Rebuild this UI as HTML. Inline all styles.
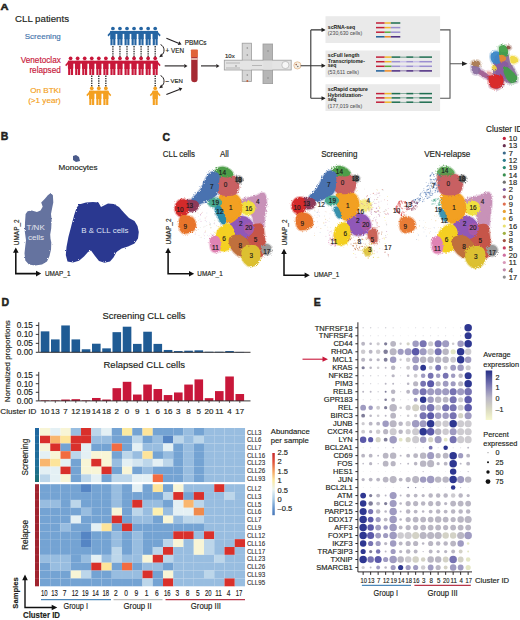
<!DOCTYPE html>
<html><head><meta charset="utf-8"><style>
html,body{margin:0;padding:0;background:#fff;width:520px;height:620px;overflow:hidden}
svg{display:block;font-family:"Liberation Sans", sans-serif}
</style></head><body>
<svg width="520" height="620" viewBox="0 0 520 620" font-family="Liberation Sans, sans-serif">
<text x="0.50" y="9.90" font-size="9.9" fill="#231f20" text-anchor="start" font-weight="bold" stroke="#231f20" stroke-width="0.55" textLength="8.0" lengthAdjust="spacingAndGlyphs">A</text>
<text x="15.00" y="21.80" font-size="9.7" fill="#231f20" text-anchor="start" font-weight="normal" stroke="#231f20" stroke-width="0.16" >CLL patients</text>
<text x="60.80" y="38.80" font-size="8.0" fill="#4676ad" text-anchor="end" font-weight="normal" stroke="#4676ad" stroke-width="0.16" >Screening</text>
<text x="60.80" y="62.80" font-size="8.2" fill="#c8173a" text-anchor="end" font-weight="normal" stroke="#c8173a" stroke-width="0.16" >Venetoclax</text>
<text x="60.80" y="73.30" font-size="8.2" fill="#c8173a" text-anchor="end" font-weight="normal" stroke="#c8173a" stroke-width="0.16" >relapsed</text>
<text x="60.80" y="92.80" font-size="8.1" fill="#f4a020" text-anchor="end" font-weight="normal" stroke="#f4a020" stroke-width="0.16" >On BTKi</text>
<text x="60.80" y="103.30" font-size="8.1" fill="#f4a020" text-anchor="end" font-weight="normal" stroke="#f4a020" stroke-width="0.16" >(&gt;1 year)</text>
<path d="M112.90,46 V57 M119.95,46 V57 M127.00,46 V57 M134.05,46 V57 M141.10,46 V57 M148.15,46 V57 M155.20,46 V57 M91.75,75.5 V87 M98.80,75.5 V87 M105.85,75.5 V87 M155.20,75.5 V87" stroke="#262626" stroke-width="1.3" stroke-dasharray="1.4,1.0" fill="none"/>
<g fill="#2565a3"><circle cx="112.90" cy="28.50" r="1.85"/><rect x="110.20" y="30.90" width="5.4" height="8.4" rx="1.2"/><rect x="110.45" y="38.00" width="2.15" height="7.2"/><rect x="113.20" y="38.00" width="2.15" height="7.2"/><circle cx="119.95" cy="28.50" r="1.85"/><rect x="117.25" y="30.90" width="5.4" height="8.4" rx="1.2"/><rect x="117.50" y="38.00" width="2.15" height="7.2"/><rect x="120.25" y="38.00" width="2.15" height="7.2"/><circle cx="127.00" cy="28.50" r="1.85"/><rect x="124.30" y="30.90" width="5.4" height="8.4" rx="1.2"/><rect x="124.55" y="38.00" width="2.15" height="7.2"/><rect x="127.30" y="38.00" width="2.15" height="7.2"/><circle cx="134.05" cy="28.50" r="1.85"/><rect x="131.35" y="30.90" width="5.4" height="8.4" rx="1.2"/><rect x="131.60" y="38.00" width="2.15" height="7.2"/><rect x="134.35" y="38.00" width="2.15" height="7.2"/><circle cx="141.10" cy="28.50" r="1.85"/><rect x="138.40" y="30.90" width="5.4" height="8.4" rx="1.2"/><rect x="138.65" y="38.00" width="2.15" height="7.2"/><rect x="141.40" y="38.00" width="2.15" height="7.2"/><circle cx="148.15" cy="28.50" r="1.85"/><rect x="145.45" y="30.90" width="5.4" height="8.4" rx="1.2"/><rect x="145.70" y="38.00" width="2.15" height="7.2"/><rect x="148.45" y="38.00" width="2.15" height="7.2"/><circle cx="155.20" cy="28.50" r="1.85"/><rect x="152.50" y="30.90" width="5.4" height="8.4" rx="1.2"/><rect x="152.75" y="38.00" width="2.15" height="7.2"/><rect x="155.50" y="38.00" width="2.15" height="7.2"/><rect x="110.20" y="30.90" width="47.70" height="3.0"/><path d="M111.10,30.90 L107.50,35.10 L108.40,36.40 L111.10,33.70Z"/><path d="M157.00,30.90 L160.60,35.10 L159.70,36.40 L157.00,33.70Z"/></g>
<g fill="#c8173a"><circle cx="70.60" cy="58.30" r="1.85"/><rect x="67.90" y="60.70" width="5.4" height="8.4" rx="1.2"/><rect x="68.15" y="67.80" width="2.15" height="7.2"/><rect x="70.90" y="67.80" width="2.15" height="7.2"/><circle cx="77.65" cy="58.30" r="1.85"/><rect x="74.95" y="60.70" width="5.4" height="8.4" rx="1.2"/><rect x="75.20" y="67.80" width="2.15" height="7.2"/><rect x="77.95" y="67.80" width="2.15" height="7.2"/><circle cx="84.70" cy="58.30" r="1.85"/><rect x="82.00" y="60.70" width="5.4" height="8.4" rx="1.2"/><rect x="82.25" y="67.80" width="2.15" height="7.2"/><rect x="85.00" y="67.80" width="2.15" height="7.2"/><circle cx="91.75" cy="58.30" r="1.85"/><rect x="89.05" y="60.70" width="5.4" height="8.4" rx="1.2"/><rect x="89.30" y="67.80" width="2.15" height="7.2"/><rect x="92.05" y="67.80" width="2.15" height="7.2"/><circle cx="98.80" cy="58.30" r="1.85"/><rect x="96.10" y="60.70" width="5.4" height="8.4" rx="1.2"/><rect x="96.35" y="67.80" width="2.15" height="7.2"/><rect x="99.10" y="67.80" width="2.15" height="7.2"/><circle cx="105.85" cy="58.30" r="1.85"/><rect x="103.15" y="60.70" width="5.4" height="8.4" rx="1.2"/><rect x="103.40" y="67.80" width="2.15" height="7.2"/><rect x="106.15" y="67.80" width="2.15" height="7.2"/><circle cx="112.90" cy="58.30" r="1.85"/><rect x="110.20" y="60.70" width="5.4" height="8.4" rx="1.2"/><rect x="110.45" y="67.80" width="2.15" height="7.2"/><rect x="113.20" y="67.80" width="2.15" height="7.2"/><circle cx="119.95" cy="58.30" r="1.85"/><rect x="117.25" y="60.70" width="5.4" height="8.4" rx="1.2"/><rect x="117.50" y="67.80" width="2.15" height="7.2"/><rect x="120.25" y="67.80" width="2.15" height="7.2"/><circle cx="127.00" cy="58.30" r="1.85"/><rect x="124.30" y="60.70" width="5.4" height="8.4" rx="1.2"/><rect x="124.55" y="67.80" width="2.15" height="7.2"/><rect x="127.30" y="67.80" width="2.15" height="7.2"/><circle cx="134.05" cy="58.30" r="1.85"/><rect x="131.35" y="60.70" width="5.4" height="8.4" rx="1.2"/><rect x="131.60" y="67.80" width="2.15" height="7.2"/><rect x="134.35" y="67.80" width="2.15" height="7.2"/><circle cx="141.10" cy="58.30" r="1.85"/><rect x="138.40" y="60.70" width="5.4" height="8.4" rx="1.2"/><rect x="138.65" y="67.80" width="2.15" height="7.2"/><rect x="141.40" y="67.80" width="2.15" height="7.2"/><circle cx="148.15" cy="58.30" r="1.85"/><rect x="145.45" y="60.70" width="5.4" height="8.4" rx="1.2"/><rect x="145.70" y="67.80" width="2.15" height="7.2"/><rect x="148.45" y="67.80" width="2.15" height="7.2"/><circle cx="155.20" cy="58.30" r="1.85"/><rect x="152.50" y="60.70" width="5.4" height="8.4" rx="1.2"/><rect x="152.75" y="67.80" width="2.15" height="7.2"/><rect x="155.50" y="67.80" width="2.15" height="7.2"/><rect x="67.90" y="60.70" width="90.00" height="3.0"/><path d="M68.80,60.70 L65.20,64.90 L66.10,66.20 L68.80,63.50Z"/><path d="M157.00,60.70 L160.60,64.90 L159.70,66.20 L157.00,63.50Z"/></g>
<g fill="#f4a020"><circle cx="91.75" cy="88.30" r="1.85"/><rect x="89.05" y="90.70" width="5.4" height="8.4" rx="1.2"/><rect x="89.30" y="97.80" width="2.15" height="7.2"/><rect x="92.05" y="97.80" width="2.15" height="7.2"/><circle cx="98.80" cy="88.30" r="1.85"/><rect x="96.10" y="90.70" width="5.4" height="8.4" rx="1.2"/><rect x="96.35" y="97.80" width="2.15" height="7.2"/><rect x="99.10" y="97.80" width="2.15" height="7.2"/><circle cx="105.85" cy="88.30" r="1.85"/><rect x="103.15" y="90.70" width="5.4" height="8.4" rx="1.2"/><rect x="103.40" y="97.80" width="2.15" height="7.2"/><rect x="106.15" y="97.80" width="2.15" height="7.2"/><rect x="89.05" y="90.70" width="19.50" height="3.0"/><path d="M89.95,90.70 L86.35,94.90 L87.25,96.20 L89.95,93.50Z"/><path d="M107.65,90.70 L111.25,94.90 L110.35,96.20 L107.65,93.50Z"/></g>
<g fill="#f4a020"><circle cx="155.20" cy="88.30" r="1.85"/><rect x="152.50" y="90.70" width="5.4" height="8.4" rx="1.2"/><rect x="152.75" y="97.80" width="2.15" height="7.2"/><rect x="155.50" y="97.80" width="2.15" height="7.2"/><rect x="152.50" y="90.70" width="5.40" height="3.0"/><path d="M153.40,90.70 L149.80,94.90 L150.70,96.20 L153.40,93.50Z"/><path d="M157.00,90.70 L160.60,94.90 L159.70,96.20 L157.00,93.50Z"/></g>
<line x1="166.40" y1="38.20" x2="178.54" y2="43.18" stroke="#231f20" stroke-width="1.1"/>
<path d="M181.50,44.40 L177.78,45.03 L179.30,41.33Z" fill="#231f20"/>
<line x1="164.70" y1="65.90" x2="184.30" y2="65.90" stroke="#231f20" stroke-width="1.1"/>
<path d="M187.50,65.90 L184.30,67.90 L184.30,63.90Z" fill="#231f20"/>
<line x1="201.00" y1="65.90" x2="216.30" y2="65.90" stroke="#231f20" stroke-width="1.1"/>
<path d="M219.50,65.90 L216.30,67.90 L216.30,63.90Z" fill="#231f20"/>
<line x1="166.40" y1="94.40" x2="179.31" y2="89.45" stroke="#231f20" stroke-width="1.1"/>
<path d="M182.30,88.30 L180.03,91.31 L178.60,87.58Z" fill="#231f20"/>
<path d="M160.6,44.6 C165,46.5 165,53 161.5,55.2" stroke="#231f20" stroke-width="1" fill="none"/>
<path d="M159.2,57.2 L161.2,53.6 L163,56.4Z" fill="#231f20"/>
<path d="M160.6,75.6 C165,77.5 165,84 161.5,86.2" stroke="#231f20" stroke-width="1" fill="none"/>
<path d="M159.2,88.2 L161.2,84.6 L163,87.4Z" fill="#231f20"/>
<text x="165.60" y="53.40" font-size="6.3" fill="#231f20" text-anchor="start" font-weight="normal" stroke="#231f20" stroke-width="0.16" >+ VEN</text>
<text x="165.40" y="82.80" font-size="6.0" fill="#231f20" text-anchor="start" font-weight="normal" stroke="#231f20" stroke-width="0.16" >– VEN</text>
<text x="184.70" y="45.10" font-size="6.45" fill="#231f20" text-anchor="start" font-weight="normal" stroke="#231f20" stroke-width="0.16" >PBMCs</text>
<path d="M191.2,56.5 H197.6 V79 A3.2,3.2 0 0 1 191.2,79 Z" fill="#a52a33"/>
<rect x="191.2" y="58.2" width="6.4" height="1.6" fill="#f2d4c8"/>
<rect x="190.9" y="49.4" width="7" height="7.8" rx="0.8" fill="#e0633a"/>
<text x="225.00" y="57.60" font-size="6.0" fill="#231f20" text-anchor="start" font-weight="normal" stroke="#231f20" stroke-width="0.16" >10x</text>
<g stroke="#9c9c9c" stroke-width="0.8">
<rect x="242.2" y="43.2" width="9.2" height="38.3" fill="#d6d6d6"/>
<rect x="263" y="44" width="9.6" height="39.6" fill="#b6b6b6"/>
<rect x="224.3" y="60.2" width="66.9" height="9.8" fill="#e4e4e4"/>
</g>
<rect x="242.6" y="60.6" width="8.4" height="9.0" fill="#e4e4e4"/>
<rect x="263.4" y="60.6" width="8.8" height="9.0" fill="#e0e0e0"/>
<path d="M226,63 H240 M226,68 H240 M252,65.5 H262" stroke="#8a8a8a" stroke-width="0.5" fill="none"/>
<circle cx="285.4" cy="65" r="3.6" fill="#f6f6f6" stroke="#9a9a9a" stroke-width="0.5"/>
<circle cx="247.3" cy="48" r="0.8" fill="#888"/>
<circle cx="247.3" cy="55" r="0.8" fill="#888"/>
<circle cx="247.3" cy="75" r="0.8" fill="#888"/>
<circle cx="268" cy="51" r="0.8" fill="#888"/>
<circle cx="268" cy="78" r="0.8" fill="#888"/>
<circle cx="236" cy="66" r="0.8" fill="#888"/>
<circle cx="247.3" cy="81" r="1" fill="#c0603a"/>
<circle cx="297.4" cy="65.4" r="3.6" fill="#f6efe4" stroke="#e3b080" stroke-width="0.7"/>
<circle cx="296.2" cy="64.6" r="0.8" fill="#a06040"/><circle cx="297.8" cy="66.5" r="0.8" fill="#777"/>
<path d="M300.6,65.7 H310.8 M310.8,29.9 V98.3 M310.8,29.9 H322 M310.8,65.7 H322 M310.8,98.3 H322" stroke="#333" stroke-width="1.1" fill="none"/>
<path d="M325.8,29.9 L321.5,27.80 L321.5,32.00Z" fill="#222"/>
<path d="M325.8,65.7 L321.5,63.60 L321.5,67.80Z" fill="#222"/>
<path d="M325.8,98.3 L321.5,96.20 L321.5,100.40Z" fill="#222"/>
<rect x="325.5" y="16.2" width="114.6" height="26.80" fill="#eaeaea"/>
<rect x="325.5" y="50.5" width="114.6" height="26.70" fill="#eaeaea"/>
<rect x="325.5" y="84.2" width="114.6" height="26.80" fill="#eaeaea"/>
<text x="327.80" y="28.60" font-size="5.7" fill="#231f20" text-anchor="start" font-weight="bold" stroke="#231f20" stroke-width="0.04" textLength="27.4" lengthAdjust="spacingAndGlyphs">scRNA-seq</text>
<text x="327.80" y="35.40" font-size="5.4" fill="#555" text-anchor="start" font-weight="normal" stroke="#555" stroke-width="0.05" textLength="34.4" lengthAdjust="spacingAndGlyphs">(230,630 cells)</text>
<text x="327.80" y="57.00" font-size="5.7" fill="#231f20" text-anchor="start" font-weight="bold" stroke="#231f20" stroke-width="0.04" textLength="31.7" lengthAdjust="spacingAndGlyphs">scFull length</text>
<text x="327.80" y="63.00" font-size="5.7" fill="#231f20" text-anchor="start" font-weight="bold" stroke="#231f20" stroke-width="0.04" textLength="37.1" lengthAdjust="spacingAndGlyphs">Transcriptome-</text>
<text x="327.80" y="66.90" font-size="5.7" fill="#231f20" text-anchor="start" font-weight="bold" stroke="#231f20" stroke-width="0.04" textLength="8.6" lengthAdjust="spacingAndGlyphs">seq</text>
<text x="327.80" y="73.80" font-size="5.4" fill="#555" text-anchor="start" font-weight="normal" stroke="#555" stroke-width="0.05" textLength="31.2" lengthAdjust="spacingAndGlyphs">(53,611 cells)</text>
<text x="327.80" y="90.50" font-size="5.7" fill="#231f20" text-anchor="start" font-weight="bold" stroke="#231f20" stroke-width="0.04" textLength="40.1" lengthAdjust="spacingAndGlyphs">scRapid capture</text>
<text x="327.80" y="96.90" font-size="5.7" fill="#231f20" text-anchor="start" font-weight="bold" stroke="#231f20" stroke-width="0.04" textLength="35.0" lengthAdjust="spacingAndGlyphs">Hybridization-</text>
<text x="327.80" y="100.70" font-size="5.7" fill="#231f20" text-anchor="start" font-weight="bold" stroke="#231f20" stroke-width="0.04" textLength="8.6" lengthAdjust="spacingAndGlyphs">seq</text>
<text x="327.80" y="107.70" font-size="5.4" fill="#555" text-anchor="start" font-weight="normal" stroke="#555" stroke-width="0.05" textLength="34.4" lengthAdjust="spacingAndGlyphs">(177,019 cells)</text>
<rect x="376.00" y="22.25" width="8.70" height="1.5" fill="#c21f3a"/>
<rect x="384.70" y="22.25" width="6.10" height="1.5" fill="#f3b82a"/>
<rect x="390.80" y="22.25" width="9.50" height="1.5" fill="#1e6e50"/>
<rect x="376.00" y="26.85" width="8.70" height="1.5" fill="#c21f3a"/>
<rect x="384.70" y="26.85" width="6.10" height="1.5" fill="#f3b82a"/>
<rect x="390.80" y="26.85" width="9.50" height="1.5" fill="#9b8fd0"/>
<rect x="376.00" y="31.45" width="8.70" height="1.5" fill="#c21f3a"/>
<rect x="384.70" y="31.45" width="6.10" height="1.5" fill="#5aac3e"/>
<rect x="390.80" y="31.45" width="9.50" height="1.5" fill="#9b8fd0"/>
<rect x="376.00" y="36.05" width="8.70" height="1.5" fill="#1f5e98"/>
<rect x="384.70" y="36.05" width="6.10" height="1.5" fill="#ee8a22"/>
<rect x="390.80" y="36.05" width="9.50" height="1.5" fill="#4b2a80"/>
<rect x="376.00" y="56.35" width="8.70" height="1.5" fill="#c21f3a"/>
<rect x="384.70" y="56.35" width="6.90" height="1.5" fill="#f3b82a"/>
<rect x="391.60" y="56.35" width="8.70" height="1.5" fill="#1e6e50"/>
<rect x="400.30" y="56.80" width="6.00" height="0.6" fill="#1e6e50"/>
<rect x="406.30" y="56.35" width="7.00" height="1.5" fill="#1e6e50"/>
<rect x="413.30" y="56.80" width="6.00" height="0.6" fill="#1e6e50"/>
<rect x="419.30" y="56.35" width="12.70" height="1.5" fill="#1e6e50"/>
<rect x="376.00" y="60.95" width="8.70" height="1.5" fill="#c21f3a"/>
<rect x="384.70" y="60.95" width="6.90" height="1.5" fill="#f3b82a"/>
<rect x="391.60" y="60.95" width="8.70" height="1.5" fill="#9b8fd0"/>
<rect x="400.30" y="60.95" width="6.00" height="1.5" fill="#c9c0ea"/>
<rect x="406.30" y="60.95" width="7.00" height="1.5" fill="#9b8fd0"/>
<rect x="413.30" y="60.95" width="6.00" height="1.5" fill="#c9c0ea"/>
<rect x="419.30" y="60.95" width="12.70" height="1.5" fill="#9b8fd0"/>
<rect x="376.00" y="65.55" width="8.70" height="1.5" fill="#c21f3a"/>
<rect x="384.70" y="65.55" width="6.90" height="1.5" fill="#5aac3e"/>
<rect x="391.60" y="65.55" width="8.70" height="1.5" fill="#9b8fd0"/>
<rect x="400.30" y="65.55" width="6.00" height="1.5" fill="#c9c0ea"/>
<rect x="406.30" y="65.55" width="7.00" height="1.5" fill="#9b8fd0"/>
<rect x="413.30" y="65.55" width="6.00" height="1.5" fill="#c9c0ea"/>
<rect x="419.30" y="65.55" width="12.70" height="1.5" fill="#9b8fd0"/>
<rect x="376.00" y="70.15" width="8.70" height="1.5" fill="#1f5e98"/>
<rect x="384.70" y="70.15" width="6.90" height="1.5" fill="#ee8a22"/>
<rect x="391.60" y="70.15" width="8.70" height="1.5" fill="#4b2a80"/>
<rect x="400.30" y="70.60" width="6.00" height="0.6" fill="#4b2a80"/>
<rect x="406.30" y="70.15" width="7.00" height="1.5" fill="#4b2a80"/>
<rect x="413.30" y="70.60" width="6.00" height="0.6" fill="#4b2a80"/>
<rect x="419.30" y="70.15" width="12.70" height="1.5" fill="#4b2a80"/>
<rect x="376.00" y="92.85" width="8.70" height="1.5" fill="#c21f3a"/>
<rect x="384.70" y="92.85" width="6.90" height="1.5" fill="#f3b82a"/>
<rect x="391.60" y="92.85" width="8.70" height="1.5" fill="#1e6e50"/>
<rect x="400.30" y="93.35" width="6.00" height="0.5" fill="#1e6e50"/>
<rect x="406.30" y="92.85" width="7.00" height="1.5" fill="#1e6e50"/>
<rect x="413.30" y="93.35" width="6.00" height="0.5" fill="#1e6e50"/>
<rect x="419.30" y="92.85" width="12.70" height="1.5" fill="#1e6e50"/>
<rect x="376.00" y="97.15" width="8.70" height="1.5" fill="#c21f3a"/>
<rect x="384.70" y="97.15" width="6.90" height="1.5" fill="#f3b82a"/>
<rect x="391.60" y="97.15" width="8.70" height="1.5" fill="#1e6e50"/>
<rect x="400.30" y="97.65" width="6.00" height="0.5" fill="#1e6e50"/>
<rect x="406.30" y="97.15" width="7.00" height="1.5" fill="#1e6e50"/>
<rect x="413.30" y="97.65" width="6.00" height="0.5" fill="#1e6e50"/>
<rect x="419.30" y="97.15" width="12.70" height="1.5" fill="#1e6e50"/>
<rect x="376.00" y="101.45" width="8.70" height="1.5" fill="#c21f3a"/>
<rect x="384.70" y="101.45" width="6.90" height="1.5" fill="#f3b82a"/>
<rect x="391.60" y="101.45" width="8.70" height="1.5" fill="#1e6e50"/>
<rect x="400.30" y="101.95" width="6.00" height="0.5" fill="#1e6e50"/>
<rect x="406.30" y="101.45" width="7.00" height="1.5" fill="#1e6e50"/>
<rect x="413.30" y="101.95" width="6.00" height="0.5" fill="#1e6e50"/>
<rect x="419.30" y="101.45" width="12.70" height="1.5" fill="#1e6e50"/>
<path d="M440.1,29.9 H450 V98.3 H440.1 M450,63.7 H462" stroke="#555" stroke-width="1.1" fill="none"/>
<path d="M467.5,63.7 L462,61.3 L462,66.1Z" fill="#222"/>
<defs><filter id="rs" x="-20%" y="-20%" width="140%" height="140%"><feTurbulence type="fractalNoise" baseFrequency="0.9" numOctaves="2" seed="9"/><feDisplacementMap in="SourceGraphic" scale="2.8"/></filter></defs>
<g filter="url(#rs)">
<g opacity="0.3">
<path d="M500,52 L507,52 L509,56 L510,62 L513,67 L517,75 L517,82 L510,83.5 L504,81 L503,86 L497,89.5 L490,87 L488,78 L493,72 L493,63 L495,56Z" fill="#8a6a9c" stroke="#8a6a9c" stroke-width="3.2" stroke-linejoin="round"/>
<path d="M478,68 C482,70 486,73 490,75.5 L490,80 C485,78 481,76 478,73.5Z" fill="#a05a90" stroke="#a05a90" stroke-width="3.2" stroke-linejoin="round"/>
<path d="M472,62 C474,60 479,60 480,63 C481,66 479,67.5 476,67.5 C473,67.5 471,65 472,62Z" fill="#a8784e" stroke="#a8784e" stroke-width="3.2" stroke-linejoin="round"/>
<path d="M471.5,66 C474,66 478,66 480,68 C481,71 479,74 476,74.5 C473,74 471,71 471.5,66Z" fill="#8a6ea0" stroke="#8a6ea0" stroke-width="3.2" stroke-linejoin="round"/>
<path d="M495.5,60 C500,59 505,60 508,63 L510,74 C507,79 502,80 497,77 C494.5,71 494.5,64 495.5,60Z" fill="#8a5aa0" stroke="#8a5aa0" stroke-width="3.2" stroke-linejoin="round"/>
<path d="M488.5,76 C492.5,74.5 497.5,74 502,75.5 C504.5,78.5 504,83 501.5,86.5 C498.5,89 494,89.3 491,87 C489,83.5 488,79.5 488.5,76Z" fill="#e02424" stroke="#e02424" stroke-width="3.2" stroke-linejoin="round"/>
<path d="M491,54 C493,51 497,50.5 499.8,52.5 L500.2,63 C497,65 493,64 491.5,61 C490.3,58 490.3,56 491,54Z" fill="#3a86c8" stroke="#3a86c8" stroke-width="3.2" stroke-linejoin="round"/>
<path d="M499,47 C501,44.8 505,44.8 507.8,47 L508.2,56 C505,57 501,56.5 499,55.5Z" fill="#40a048" stroke="#40a048" stroke-width="3.2" stroke-linejoin="round"/>
<path d="M499,55 C502,54 505.5,55 506.2,58 C506.2,61 503,62.5 499.8,61.5Z" fill="#e88a30" stroke="#e88a30" stroke-width="3.2" stroke-linejoin="round"/>
<path d="M504,66 C508,67 513,71 517,76.5 C518,80.5 515,83 511,83 C507.5,81 505,77 503.5,72Z" fill="#40a048" stroke="#40a048" stroke-width="3.2" stroke-linejoin="round"/>
<path d="M510,57 C513,55 517,56.5 518.3,60 C517.3,63.5 513,64.5 510.5,62.5Z" fill="#f0d840" stroke="#f0d840" stroke-width="3.2" stroke-linejoin="round"/>
<path d="M492.5,65.5 C495,64.8 497.3,67 496.8,69.8 C495,71.3 493,70.8 492.3,68.3Z" fill="#f0d840" stroke="#f0d840" stroke-width="3.2" stroke-linejoin="round"/>
<path d="M506.5,46.5 C508,44.8 510.8,46 510.8,48 C509.8,49.8 507,49.8 506.5,48Z" fill="#8a5040" stroke="#8a5040" stroke-width="3.2" stroke-linejoin="round"/>
<path d="M487,71.5 C490,71 493,72.5 493,75 C490.5,76 488,75.5 487,73.5Z" fill="#e8a0a0" stroke="#e8a0a0" stroke-width="3.2" stroke-linejoin="round"/>
</g>
<path d="M500,52 L507,52 L509,56 L510,62 L513,67 L517,75 L517,82 L510,83.5 L504,81 L503,86 L497,89.5 L490,87 L488,78 L493,72 L493,63 L495,56Z" fill="#8a6a9c" fill-opacity="0.92"/>
<path d="M478,68 C482,70 486,73 490,75.5 L490,80 C485,78 481,76 478,73.5Z" fill="#a05a90" fill-opacity="0.92"/>
<path d="M472,62 C474,60 479,60 480,63 C481,66 479,67.5 476,67.5 C473,67.5 471,65 472,62Z" fill="#a8784e" fill-opacity="0.92"/>
<path d="M471.5,66 C474,66 478,66 480,68 C481,71 479,74 476,74.5 C473,74 471,71 471.5,66Z" fill="#8a6ea0" fill-opacity="0.92"/>
<path d="M495.5,60 C500,59 505,60 508,63 L510,74 C507,79 502,80 497,77 C494.5,71 494.5,64 495.5,60Z" fill="#8a5aa0" fill-opacity="0.92"/>
<path d="M488.5,76 C492.5,74.5 497.5,74 502,75.5 C504.5,78.5 504,83 501.5,86.5 C498.5,89 494,89.3 491,87 C489,83.5 488,79.5 488.5,76Z" fill="#e02424" fill-opacity="0.92"/>
<path d="M491,54 C493,51 497,50.5 499.8,52.5 L500.2,63 C497,65 493,64 491.5,61 C490.3,58 490.3,56 491,54Z" fill="#3a86c8" fill-opacity="0.92"/>
<path d="M499,47 C501,44.8 505,44.8 507.8,47 L508.2,56 C505,57 501,56.5 499,55.5Z" fill="#40a048" fill-opacity="0.92"/>
<path d="M499,55 C502,54 505.5,55 506.2,58 C506.2,61 503,62.5 499.8,61.5Z" fill="#e88a30" fill-opacity="0.92"/>
<path d="M504,66 C508,67 513,71 517,76.5 C518,80.5 515,83 511,83 C507.5,81 505,77 503.5,72Z" fill="#40a048" fill-opacity="0.92"/>
<path d="M510,57 C513,55 517,56.5 518.3,60 C517.3,63.5 513,64.5 510.5,62.5Z" fill="#f0d840" fill-opacity="0.92"/>
<path d="M492.5,65.5 C495,64.8 497.3,67 496.8,69.8 C495,71.3 493,70.8 492.3,68.3Z" fill="#f0d840" fill-opacity="0.92"/>
<path d="M506.5,46.5 C508,44.8 510.8,46 510.8,48 C509.8,49.8 507,49.8 506.5,48Z" fill="#8a5040" fill-opacity="0.92"/>
<path d="M487,71.5 C490,71 493,72.5 493,75 C490.5,76 488,75.5 487,73.5Z" fill="#e8a0a0" fill-opacity="0.92"/>
</g>
<text x="0.80" y="140.00" font-size="10.5" fill="#231f20" text-anchor="start" font-weight="bold" stroke="#231f20" stroke-width="0.45" >B</text>
<defs><filter id="rb" x="-10%" y="-10%" width="120%" height="120%"><feTurbulence type="fractalNoise" baseFrequency="0.7" numOctaves="2" seed="4"/><feDisplacementMap in="SourceGraphic" scale="2.2"/></filter></defs>
<g filter="url(#rb)">
<path d="M50.7,193.0 L52.9,195.2 L53.3,202.4 L52.1,208.2 L51.0,214.1 L51.6,219.9 L51.2,228.6 L50.2,234.4 L50.5,238.8 L51.3,242.4 L51.0,249.5 L49.5,256.0 L47.0,261.5 L42.0,264.6 L35.0,265.6 L28.9,264.6 L25.3,260.5 L24.5,253.3 L25.3,246.0 L26.0,240.2 L24.8,231.5 L25.0,222.8 L25.6,214.1 L27.6,211.2 L31.8,210.4 L36.9,211.9 L40.5,210.4 L42.7,206.8 L41.2,202.4 L44.9,198.8 L47.8,195.2Z" fill="#65739f"/>
<path d="M79.0,204.5 L86.0,202.5 L93.0,202.0 L98.5,202.5 L101.0,207.0 L104.0,205.5 L108.0,203.5 L113.8,204.0 L119.0,207.0 L124.2,213.0 L129.0,218.0 L134.5,221.0 L137.5,226.0 L138.8,232.0 L138.0,238.5 L134.5,243.5 L128.0,246.5 L121.6,248.6 L116.5,252.0 L113.5,257.5 L110.0,261.5 L104.5,262.8 L99.0,261.0 L95.0,256.0 L91.0,250.5 L88.0,252.0 L84.0,256.5 L79.0,260.8 L73.0,262.5 L67.5,261.5 L65.8,255.0 L66.5,247.0 L68.4,237.0 L70.5,229.0 L72.3,222.0 L74.5,214.0 L76.5,208.0Z" fill="#2a3990"/>
</g>
<path d="M73,156 L76,155 L79,157 L80,161 L76,162 L73,160Z" fill="#4a5a8a"/>
<text x="58.50" y="170.20" font-size="8.1" fill="#231f20" text-anchor="start" font-weight="normal" stroke="#231f20" stroke-width="0.16" >Monocytes</text>
<text x="26.50" y="229.50" font-size="8.0" fill="#e4e6ee" text-anchor="start" font-weight="normal"  >T/NK</text>
<text x="28.00" y="239.80" font-size="8.0" fill="#e4e6ee" text-anchor="start" font-weight="normal"  >cells</text>
<text x="81.20" y="232.80" font-size="7.95" fill="#dfe2f4" text-anchor="start" font-weight="normal"  >B &amp; CLL cells</text>
<path d="M15.8,251.5 V273.6 H37.2" stroke="#111" stroke-width="1.55" fill="none"/>
<path d="M15.8,247.5 L13.0,252.7 L18.6,252.7Z" fill="#111"/>
<path d="M41.2,273.6 L36.0,270.8 L36.0,276.40000000000003Z" fill="#111"/>
<text x="18.80" y="232.30" font-size="6.5" fill="#231f20" text-anchor="middle" font-weight="normal" stroke="#231f20" stroke-width="0.16" transform="rotate(-90 18.8 232.3)">UMAP_2</text>
<text x="44.90" y="275.80" font-size="6.4" fill="#231f20" text-anchor="start" font-weight="normal" stroke="#231f20" stroke-width="0.16" >UMAP_1</text>
<defs>
<filter id="r1" x="-10%" y="-10%" width="120%" height="120%"><feTurbulence type="fractalNoise" baseFrequency="0.8" numOctaves="2" seed="3" result="t"/><feDisplacementMap in="SourceGraphic" in2="t" scale="3.2" result="d"/></filter>
<filter id="r2" x="-10%" y="-10%" width="120%" height="120%"><feTurbulence type="fractalNoise" baseFrequency="0.8" numOctaves="2" seed="5" result="t"/><feDisplacementMap in="SourceGraphic" in2="t" scale="3.2" result="d"/></filter>
<filter id="r3" x="-10%" y="-10%" width="120%" height="120%"><feTurbulence type="fractalNoise" baseFrequency="0.8" numOctaves="2" seed="7" result="t"/><feDisplacementMap in="SourceGraphic" in2="t" scale="3.2" result="d"/></filter>
</defs>
<text x="162.50" y="140.80" font-size="10.5" fill="#231f20" text-anchor="start" font-weight="bold" stroke="#231f20" stroke-width="0.45" >C</text>
<text x="162.80" y="157.40" font-size="8.4" fill="#231f20" text-anchor="start" font-weight="normal" stroke="#231f20" stroke-width="0.16" textLength="32.2" lengthAdjust="spacingAndGlyphs">CLL cells</text>
<text x="220.00" y="157.40" font-size="8.6" fill="#231f20" text-anchor="start" font-weight="normal" stroke="#231f20" stroke-width="0.16" textLength="8.9" lengthAdjust="spacingAndGlyphs">All</text>
<text x="321.20" y="157.20" font-size="8.4" fill="#231f20" text-anchor="start" font-weight="normal" stroke="#231f20" stroke-width="0.16" textLength="36.2" lengthAdjust="spacingAndGlyphs">Screening</text>
<text x="424.20" y="157.20" font-size="8.4" fill="#231f20" text-anchor="start" font-weight="normal" stroke="#231f20" stroke-width="0.16" textLength="46.1" lengthAdjust="spacingAndGlyphs">VEN-relapse</text>
<circle cx="199.0" cy="235.7" r="0.36" fill="#e0b0b0" fill-opacity="0.75"/><circle cx="209.9" cy="224.6" r="0.50" fill="#e8c890" fill-opacity="0.75"/><circle cx="197.8" cy="212.8" r="0.41" fill="#e8c890" fill-opacity="0.75"/><circle cx="217.9" cy="212.1" r="0.37" fill="#e8c890" fill-opacity="0.75"/><circle cx="219.1" cy="228.6" r="0.53" fill="#e0b0b0" fill-opacity="0.75"/><circle cx="195.9" cy="212.7" r="0.30" fill="#d8a0c8" fill-opacity="0.75"/><circle cx="221.4" cy="231.2" r="0.48" fill="#e8c890" fill-opacity="0.75"/><circle cx="210.8" cy="233.4" r="0.44" fill="#e8c890" fill-opacity="0.75"/><circle cx="205.4" cy="231.0" r="0.54" fill="#e8c890" fill-opacity="0.75"/><circle cx="222.8" cy="223.7" r="0.53" fill="#d8a0c8" fill-opacity="0.75"/><circle cx="198.0" cy="229.6" r="0.33" fill="#a8d0b8" fill-opacity="0.75"/><circle cx="205.0" cy="232.2" r="0.53" fill="#d8a0c8" fill-opacity="0.75"/><circle cx="207.7" cy="235.2" r="0.38" fill="#a8bcd8" fill-opacity="0.75"/><circle cx="212.6" cy="236.7" r="0.40" fill="#d8a0c8" fill-opacity="0.75"/><circle cx="220.6" cy="225.4" r="0.40" fill="#e8c890" fill-opacity="0.75"/><circle cx="200.2" cy="227.4" r="0.32" fill="#a8d0b8" fill-opacity="0.75"/><circle cx="214.9" cy="215.0" r="0.43" fill="#a8bcd8" fill-opacity="0.75"/><circle cx="206.8" cy="225.7" r="0.42" fill="#e0b0b0" fill-opacity="0.75"/><circle cx="204.3" cy="235.8" r="0.45" fill="#d8a0c8" fill-opacity="0.75"/><circle cx="206.8" cy="216.8" r="0.36" fill="#d8a0c8" fill-opacity="0.75"/><circle cx="195.4" cy="217.6" r="0.36" fill="#d8a0c8" fill-opacity="0.75"/><circle cx="210.4" cy="238.7" r="0.39" fill="#d8a0c8" fill-opacity="0.75"/><circle cx="222.3" cy="230.5" r="0.54" fill="#d8a0c8" fill-opacity="0.75"/><circle cx="195.2" cy="233.9" r="0.50" fill="#d8a0c8" fill-opacity="0.75"/><circle cx="210.6" cy="227.7" r="0.54" fill="#e8c890" fill-opacity="0.75"/><circle cx="209.4" cy="222.2" r="0.35" fill="#d8a0c8" fill-opacity="0.75"/><circle cx="210.1" cy="225.6" r="0.40" fill="#a8d0b8" fill-opacity="0.75"/><circle cx="195.0" cy="227.1" r="0.38" fill="#d8a0c8" fill-opacity="0.75"/><circle cx="213.0" cy="234.5" r="0.44" fill="#a8bcd8" fill-opacity="0.75"/><circle cx="200.4" cy="214.6" r="0.50" fill="#d8a0c8" fill-opacity="0.75"/><circle cx="219.5" cy="219.1" r="0.32" fill="#e0b0b0" fill-opacity="0.75"/><circle cx="195.5" cy="212.4" r="0.36" fill="#a8d0b8" fill-opacity="0.75"/><circle cx="198.3" cy="229.5" r="0.37" fill="#a8d0b8" fill-opacity="0.75"/><circle cx="200.0" cy="219.1" r="0.46" fill="#a8bcd8" fill-opacity="0.75"/><circle cx="214.4" cy="220.2" r="0.42" fill="#a8d0b8" fill-opacity="0.75"/><circle cx="198.4" cy="220.7" r="0.41" fill="#a8d0b8" fill-opacity="0.75"/><circle cx="200.6" cy="215.0" r="0.54" fill="#d8a0c8" fill-opacity="0.75"/><circle cx="224.0" cy="224.1" r="0.36" fill="#e0b0b0" fill-opacity="0.75"/><circle cx="206.9" cy="213.0" r="0.41" fill="#a8bcd8" fill-opacity="0.75"/><circle cx="210.2" cy="223.9" r="0.54" fill="#a8bcd8" fill-opacity="0.75"/><circle cx="213.9" cy="231.5" r="0.36" fill="#e8c890" fill-opacity="0.75"/><circle cx="214.5" cy="223.1" r="0.50" fill="#d8a0c8" fill-opacity="0.75"/><circle cx="214.8" cy="223.9" r="0.33" fill="#a8d0b8" fill-opacity="0.75"/><circle cx="201.4" cy="213.3" r="0.51" fill="#e0b0b0" fill-opacity="0.75"/><circle cx="204.3" cy="238.3" r="0.40" fill="#a8bcd8" fill-opacity="0.75"/><circle cx="202.6" cy="212.2" r="0.45" fill="#e0b0b0" fill-opacity="0.75"/><circle cx="201.5" cy="237.2" r="0.34" fill="#e8c890" fill-opacity="0.75"/><circle cx="221.0" cy="239.3" r="0.43" fill="#d8a0c8" fill-opacity="0.75"/><circle cx="206.3" cy="221.7" r="0.44" fill="#a8bcd8" fill-opacity="0.75"/><circle cx="221.9" cy="228.6" r="0.33" fill="#e8c890" fill-opacity="0.75"/><circle cx="215.0" cy="220.3" r="0.30" fill="#e8c890" fill-opacity="0.75"/><circle cx="213.4" cy="223.3" r="0.30" fill="#a8d0b8" fill-opacity="0.75"/><circle cx="201.0" cy="221.2" r="0.50" fill="#d8a0c8" fill-opacity="0.75"/><circle cx="205.2" cy="218.0" r="0.51" fill="#e0b0b0" fill-opacity="0.75"/><circle cx="223.0" cy="221.6" r="0.42" fill="#d8a0c8" fill-opacity="0.75"/><circle cx="224.6" cy="218.6" r="0.32" fill="#e0b0b0" fill-opacity="0.75"/><circle cx="200.1" cy="237.5" r="0.37" fill="#a8bcd8" fill-opacity="0.75"/><circle cx="205.0" cy="226.2" r="0.39" fill="#a8d0b8" fill-opacity="0.75"/><circle cx="205.2" cy="220.2" r="0.49" fill="#d8a0c8" fill-opacity="0.75"/><circle cx="216.5" cy="225.7" r="0.44" fill="#d8a0c8" fill-opacity="0.75"/><circle cx="198.1" cy="213.1" r="0.40" fill="#e0b0b0" fill-opacity="0.75"/><circle cx="224.7" cy="216.1" r="0.39" fill="#a8bcd8" fill-opacity="0.75"/><circle cx="213.5" cy="233.9" r="0.32" fill="#e8c890" fill-opacity="0.75"/><circle cx="211.5" cy="227.8" r="0.39" fill="#a8d0b8" fill-opacity="0.75"/><circle cx="203.9" cy="227.0" r="0.41" fill="#e0b0b0" fill-opacity="0.75"/><circle cx="203.3" cy="234.0" r="0.30" fill="#a8d0b8" fill-opacity="0.75"/><circle cx="215.1" cy="214.6" r="0.51" fill="#e0b0b0" fill-opacity="0.75"/><circle cx="218.7" cy="217.3" r="0.41" fill="#d8a0c8" fill-opacity="0.75"/><circle cx="198.5" cy="216.7" r="0.34" fill="#a8bcd8" fill-opacity="0.75"/><circle cx="220.4" cy="224.2" r="0.50" fill="#e8c890" fill-opacity="0.75"/>
<g filter="url(#r1)" opacity="0.35"><path d="M245.40,199.40 C247.97,198.50 253.08,197.60 256.10,196.70 C259.12,195.80 261.93,193.12 263.50,194.00 C265.07,194.88 265.42,198.67 265.50,202.00 C265.58,205.33 264.42,210.00 264.00,214.00 C263.58,218.00 263.33,223.33 263.00,226.00 C262.67,228.67 263.17,229.50 262.00,230.00 C260.83,230.50 257.42,231.17 256.00,229.00 C254.58,226.83 254.37,219.68 253.50,217.00 C252.63,214.32 252.15,214.48 250.80,212.90 C249.45,211.32 247.08,209.30 245.40,207.50 C243.72,205.70 240.70,203.45 240.70,202.10 C240.70,200.75 242.83,200.30 245.40,199.40Z" fill="#c892b8" stroke="#c892b8" stroke-width="4.6" stroke-linejoin="round"/><path d="M246.00,230.00 C247.00,227.50 250.00,226.92 252.00,226.00 C254.00,225.08 256.33,224.50 258.00,224.50 C259.67,224.50 261.08,224.08 262.00,226.00 C262.92,227.92 263.08,232.50 263.50,236.00 C263.92,239.50 264.75,243.83 264.50,247.00 C264.25,250.17 263.42,253.50 262.00,255.00 C260.58,256.50 257.83,257.00 256.00,256.00 C254.17,255.00 252.67,251.50 251.00,249.00 C249.33,246.50 246.83,244.17 246.00,241.00 C245.17,237.83 245.00,232.50 246.00,230.00Z" fill="#c65448" stroke="#c65448" stroke-width="4.6" stroke-linejoin="round"/><path d="M252.50,227.50 C252.50,229.56 251.67,232.01 250.40,233.67 C249.13,235.34 246.95,236.85 244.90,237.49 C242.85,238.12 240.15,238.12 238.10,237.49 C236.05,236.85 233.87,235.34 232.60,233.67 C231.33,232.01 230.50,229.56 230.50,227.50 C230.50,225.44 231.33,222.99 232.60,221.33 C233.87,219.66 236.05,218.15 238.10,217.51 C240.15,216.88 242.85,216.88 244.90,217.51 C246.95,218.15 249.13,219.66 250.40,221.33 C251.67,222.99 252.50,225.44 252.50,227.50Z" fill="#9058b8" stroke="#9058b8" stroke-width="4.6" stroke-linejoin="round"/><path d="M253.00,228.50 C253.00,229.48 252.70,230.65 252.24,231.44 C251.78,232.23 250.98,232.95 250.24,233.26 C249.49,233.56 248.51,233.56 247.76,233.26 C247.02,232.95 246.22,232.23 245.76,231.44 C245.30,230.65 245.00,229.48 245.00,228.50 C245.00,227.52 245.30,226.35 245.76,225.56 C246.22,224.77 247.02,224.05 247.76,223.74 C248.51,223.44 249.49,223.44 250.24,223.74 C250.98,224.05 251.78,224.77 252.24,225.56 C252.70,226.35 253.00,227.52 253.00,228.50Z" fill="#a85aa8" stroke="#a85aa8" stroke-width="4.6" stroke-linejoin="round"/><path d="M254.50,208.00 C254.50,209.18 254.01,210.58 253.26,211.53 C252.51,212.48 251.22,213.34 250.01,213.71 C248.80,214.07 247.20,214.07 245.99,213.71 C244.78,213.34 243.49,212.48 242.74,211.53 C241.99,210.58 241.50,209.18 241.50,208.00 C241.50,206.82 241.99,205.42 242.74,204.47 C243.49,203.52 244.78,202.66 245.99,202.29 C247.20,201.93 248.80,201.93 250.01,202.29 C251.22,202.66 252.51,203.52 253.26,204.47 C254.01,205.42 254.50,206.82 254.50,208.00Z" fill="#f0e040" stroke="#f0e040" stroke-width="4.6" stroke-linejoin="round"/><path d="M221.20,195.40 C223.22,193.82 229.00,193.55 231.90,194.00 C234.80,194.45 237.03,196.07 238.60,198.10 C240.17,200.13 241.07,203.52 241.30,206.20 C241.53,208.88 241.12,211.97 240.00,214.20 C238.88,216.43 236.40,218.25 234.60,219.60 C232.80,220.95 230.77,222.30 229.20,222.30 C227.63,222.30 226.32,221.40 225.20,219.60 C224.08,217.80 223.40,214.18 222.50,211.50 C221.60,208.82 220.02,206.18 219.80,203.50 C219.58,200.82 219.18,196.98 221.20,195.40Z" fill="#f2a020" stroke="#f2a020" stroke-width="4.6" stroke-linejoin="round"/><path d="M217.00,176.00 C218.25,174.67 221.67,175.00 224.00,175.00 C226.33,175.00 229.00,175.42 231.00,176.00 C233.00,176.58 234.83,177.33 236.00,178.50 C237.17,179.67 237.75,181.25 238.00,183.00 C238.25,184.75 238.00,187.25 237.50,189.00 C237.00,190.75 236.58,192.50 235.00,193.50 C233.42,194.50 230.33,194.92 228.00,195.00 C225.67,195.08 222.75,194.83 221.00,194.00 C219.25,193.17 218.25,191.83 217.50,190.00 C216.75,188.17 216.58,185.33 216.50,183.00 C216.42,180.67 215.75,177.33 217.00,176.00Z" fill="#c86062" stroke="#c86062" stroke-width="4.6" stroke-linejoin="round"/><path d="M216.00,171.00 C216.75,169.92 217.83,169.03 219.00,168.50 C220.17,167.97 221.67,167.72 223.00,167.80 C224.33,167.88 225.67,168.30 227.00,169.00 C228.33,169.70 230.17,171.00 231.00,172.00 C231.83,173.00 232.50,174.25 232.00,175.00 C231.50,175.75 229.67,176.33 228.00,176.50 C226.33,176.67 223.83,176.00 222.00,176.00 C220.17,176.00 218.25,176.67 217.00,176.50 C215.75,176.33 214.67,175.92 214.50,175.00 C214.33,174.08 215.25,172.08 216.00,171.00Z" fill="#4e9e48" stroke="#4e9e48" stroke-width="4.6" stroke-linejoin="round"/><path d="M214.00,172.50 C215.33,172.78 217.83,173.75 218.50,175.50 C219.17,177.25 218.17,180.58 218.00,183.00 C217.83,185.42 218.08,187.92 217.50,190.00 C216.92,192.08 216.08,193.92 214.50,195.50 C212.92,197.08 210.25,198.33 208.00,199.50 C205.75,200.67 203.00,201.67 201.00,202.50 C199.00,203.33 197.58,204.42 196.00,204.50 C194.42,204.58 191.92,204.00 191.50,203.00 C191.08,202.00 192.50,199.92 193.50,198.50 C194.50,197.08 196.17,196.00 197.50,194.50 C198.83,193.00 200.33,191.33 201.50,189.50 C202.67,187.67 203.50,185.50 204.50,183.50 C205.50,181.50 206.50,179.12 207.50,177.50 C208.50,175.88 209.42,174.63 210.50,173.80 C211.58,172.97 212.67,172.22 214.00,172.50Z" fill="#4a72b0" stroke="#4a72b0" stroke-width="4.6" stroke-linejoin="round"/><path d="M241.40,179.80 C241.40,180.27 241.20,180.83 240.90,181.21 C240.60,181.59 240.09,181.94 239.60,182.08 C239.12,182.23 238.48,182.23 238.00,182.08 C237.51,181.94 237.00,181.59 236.70,181.21 C236.40,180.83 236.20,180.27 236.20,179.80 C236.20,179.33 236.40,178.77 236.70,178.39 C237.00,178.01 237.51,177.66 238.00,177.52 C238.48,177.37 239.12,177.37 239.60,177.52 C240.09,177.66 240.60,178.01 240.90,178.39 C241.20,178.77 241.40,179.33 241.40,179.80Z" fill="#5e5e5e" stroke="#5e5e5e" stroke-width="4.6" stroke-linejoin="round"/><path d="M185.50,201.70 C186.73,200.35 190.30,200.88 192.20,201.00 C194.10,201.12 196.00,201.50 196.90,202.40 C197.80,203.30 197.93,205.17 197.60,206.40 C197.27,207.63 196.25,209.12 194.90,209.80 C193.55,210.48 191.18,210.62 189.50,210.50 C187.82,210.38 185.47,210.57 184.80,209.10 C184.13,207.63 184.27,203.05 185.50,201.70Z" fill="#8e3a5a" stroke="#8e3a5a" stroke-width="4.6" stroke-linejoin="round"/><path d="M178.70,201.70 C180.08,200.47 182.75,200.28 184.10,200.40 C185.45,200.52 186.23,200.95 186.80,202.40 C187.37,203.85 187.72,207.08 187.50,209.10 C187.28,211.12 186.52,213.38 185.50,214.50 C184.48,215.62 182.75,216.03 181.40,215.80 C180.05,215.57 178.33,214.43 177.40,213.10 C176.47,211.77 175.58,209.70 175.80,207.80 C176.02,205.90 177.32,202.93 178.70,201.70Z" fill="#d42a2a" stroke="#d42a2a" stroke-width="4.6" stroke-linejoin="round"/><path d="M181.40,217.20 C182.52,215.52 185.00,216.28 186.80,216.50 C188.60,216.72 190.85,217.27 192.20,218.50 C193.55,219.73 194.68,222.10 194.90,223.90 C195.12,225.70 194.62,227.95 193.50,229.30 C192.38,230.65 189.98,231.55 188.20,232.00 C186.42,232.45 184.15,232.90 182.80,232.00 C181.45,231.10 180.33,229.07 180.10,226.60 C179.87,224.13 180.28,218.88 181.40,217.20Z" fill="#e8742a" stroke="#e8742a" stroke-width="4.6" stroke-linejoin="round"/><path d="M221.00,202.50 C221.00,203.24 220.55,204.13 219.85,204.73 C219.16,205.34 217.97,205.88 216.85,206.11 C215.74,206.34 214.26,206.34 213.15,206.11 C212.03,205.88 210.84,205.34 210.15,204.73 C209.45,204.13 209.00,203.24 209.00,202.50 C209.00,201.76 209.45,200.87 210.15,200.27 C210.84,199.66 212.03,199.12 213.15,198.89 C214.26,198.66 215.74,198.66 216.85,198.89 C217.97,199.12 219.16,199.66 219.85,200.27 C220.55,200.87 221.00,201.76 221.00,202.50Z" fill="#4aa890" stroke="#4aa890" stroke-width="4.6" stroke-linejoin="round"/><path d="M216.00,208.00 C216.50,207.17 218.42,206.33 219.50,207.00 C220.58,207.67 221.58,210.08 222.50,212.00 C223.42,213.92 224.67,216.67 225.00,218.50 C225.33,220.33 225.00,222.33 224.50,223.00 C224.00,223.67 222.92,223.50 222.00,222.50 C221.08,221.50 219.92,218.75 219.00,217.00 C218.08,215.25 217.00,213.50 216.50,212.00 C216.00,210.50 215.50,208.83 216.00,208.00Z" fill="#2a8aa8" stroke="#2a8aa8" stroke-width="4.6" stroke-linejoin="round"/><path d="M218.00,232.00 C219.25,229.50 222.17,227.17 224.00,226.00 C225.83,224.83 227.50,224.33 229.00,225.00 C230.50,225.67 232.25,227.83 233.00,230.00 C233.75,232.17 233.83,235.33 233.50,238.00 C233.17,240.67 232.42,244.00 231.00,246.00 C229.58,248.00 227.00,249.58 225.00,250.00 C223.00,250.42 220.42,250.00 219.00,248.50 C217.58,247.00 216.67,243.75 216.50,241.00 C216.33,238.25 216.75,234.50 218.00,232.00Z" fill="#f4d020" stroke="#f4d020" stroke-width="4.6" stroke-linejoin="round"/><path d="M211.70,238.50 C212.70,237.15 215.75,236.22 217.10,237.10 C218.45,237.98 219.57,241.55 219.80,243.80 C220.03,246.05 219.62,249.47 218.50,250.60 C217.38,251.73 214.33,251.50 213.10,250.60 C211.87,249.70 211.33,247.22 211.10,245.20 C210.87,243.18 210.70,239.85 211.70,238.50Z" fill="#e084b4" stroke="#e084b4" stroke-width="4.6" stroke-linejoin="round"/><path d="M230.50,238.00 C231.75,236.42 235.58,235.33 238.00,235.50 C240.42,235.67 243.17,237.25 245.00,239.00 C246.83,240.75 248.67,243.67 249.00,246.00 C249.33,248.33 248.33,251.42 247.00,253.00 C245.67,254.58 243.00,255.67 241.00,255.50 C239.00,255.33 236.75,253.75 235.00,252.00 C233.25,250.25 231.25,247.33 230.50,245.00 C229.75,242.67 229.25,239.58 230.50,238.00Z" fill="#c0703c" stroke="#c0703c" stroke-width="4.6" stroke-linejoin="round"/><path d="M243.50,249.00 C244.92,247.33 248.67,246.17 251.00,246.00 C253.33,245.83 256.08,246.50 257.50,248.00 C258.92,249.50 259.58,252.58 259.50,255.00 C259.42,257.42 258.50,260.75 257.00,262.50 C255.50,264.25 252.50,265.58 250.50,265.50 C248.50,265.42 246.33,263.58 245.00,262.00 C243.67,260.42 242.75,258.17 242.50,256.00 C242.25,253.83 242.08,250.67 243.50,249.00Z" fill="#dcc030" stroke="#dcc030" stroke-width="4.6" stroke-linejoin="round"/><path d="M270.70,249.50 C270.70,250.36 270.38,251.39 269.90,252.09 C269.41,252.78 268.58,253.42 267.80,253.68 C267.02,253.95 265.98,253.95 265.20,253.68 C264.42,253.42 263.59,252.78 263.10,252.09 C262.62,251.39 262.30,250.36 262.30,249.50 C262.30,248.64 262.62,247.61 263.10,246.91 C263.59,246.22 264.42,245.58 265.20,245.32 C265.98,245.05 267.02,245.05 267.80,245.32 C268.58,245.58 269.41,246.22 269.90,246.91 C270.38,247.61 270.70,248.64 270.70,249.50Z" fill="#989898" stroke="#989898" stroke-width="4.6" stroke-linejoin="round"/></g><g filter="url(#r1)"><path d="M245.40,199.40 C247.97,198.50 253.08,197.60 256.10,196.70 C259.12,195.80 261.93,193.12 263.50,194.00 C265.07,194.88 265.42,198.67 265.50,202.00 C265.58,205.33 264.42,210.00 264.00,214.00 C263.58,218.00 263.33,223.33 263.00,226.00 C262.67,228.67 263.17,229.50 262.00,230.00 C260.83,230.50 257.42,231.17 256.00,229.00 C254.58,226.83 254.37,219.68 253.50,217.00 C252.63,214.32 252.15,214.48 250.80,212.90 C249.45,211.32 247.08,209.30 245.40,207.50 C243.72,205.70 240.70,203.45 240.70,202.10 C240.70,200.75 242.83,200.30 245.40,199.40Z" fill="#c892b8" opacity="1.0" stroke="#c892b8" stroke-width="2.2" stroke-linejoin="round"/><path d="M246.00,230.00 C247.00,227.50 250.00,226.92 252.00,226.00 C254.00,225.08 256.33,224.50 258.00,224.50 C259.67,224.50 261.08,224.08 262.00,226.00 C262.92,227.92 263.08,232.50 263.50,236.00 C263.92,239.50 264.75,243.83 264.50,247.00 C264.25,250.17 263.42,253.50 262.00,255.00 C260.58,256.50 257.83,257.00 256.00,256.00 C254.17,255.00 252.67,251.50 251.00,249.00 C249.33,246.50 246.83,244.17 246.00,241.00 C245.17,237.83 245.00,232.50 246.00,230.00Z" fill="#c65448" opacity="1.0" stroke="#c65448" stroke-width="2.2" stroke-linejoin="round"/><path d="M252.50,227.50 C252.50,229.56 251.67,232.01 250.40,233.67 C249.13,235.34 246.95,236.85 244.90,237.49 C242.85,238.12 240.15,238.12 238.10,237.49 C236.05,236.85 233.87,235.34 232.60,233.67 C231.33,232.01 230.50,229.56 230.50,227.50 C230.50,225.44 231.33,222.99 232.60,221.33 C233.87,219.66 236.05,218.15 238.10,217.51 C240.15,216.88 242.85,216.88 244.90,217.51 C246.95,218.15 249.13,219.66 250.40,221.33 C251.67,222.99 252.50,225.44 252.50,227.50Z" fill="#9058b8" opacity="1.0" stroke="#9058b8" stroke-width="2.2" stroke-linejoin="round"/><path d="M253.00,228.50 C253.00,229.48 252.70,230.65 252.24,231.44 C251.78,232.23 250.98,232.95 250.24,233.26 C249.49,233.56 248.51,233.56 247.76,233.26 C247.02,232.95 246.22,232.23 245.76,231.44 C245.30,230.65 245.00,229.48 245.00,228.50 C245.00,227.52 245.30,226.35 245.76,225.56 C246.22,224.77 247.02,224.05 247.76,223.74 C248.51,223.44 249.49,223.44 250.24,223.74 C250.98,224.05 251.78,224.77 252.24,225.56 C252.70,226.35 253.00,227.52 253.00,228.50Z" fill="#a85aa8" opacity="1.0" stroke="#a85aa8" stroke-width="2.2" stroke-linejoin="round"/><path d="M254.50,208.00 C254.50,209.18 254.01,210.58 253.26,211.53 C252.51,212.48 251.22,213.34 250.01,213.71 C248.80,214.07 247.20,214.07 245.99,213.71 C244.78,213.34 243.49,212.48 242.74,211.53 C241.99,210.58 241.50,209.18 241.50,208.00 C241.50,206.82 241.99,205.42 242.74,204.47 C243.49,203.52 244.78,202.66 245.99,202.29 C247.20,201.93 248.80,201.93 250.01,202.29 C251.22,202.66 252.51,203.52 253.26,204.47 C254.01,205.42 254.50,206.82 254.50,208.00Z" fill="#f0e040" opacity="1.0" stroke="#f0e040" stroke-width="2.2" stroke-linejoin="round"/><path d="M221.20,195.40 C223.22,193.82 229.00,193.55 231.90,194.00 C234.80,194.45 237.03,196.07 238.60,198.10 C240.17,200.13 241.07,203.52 241.30,206.20 C241.53,208.88 241.12,211.97 240.00,214.20 C238.88,216.43 236.40,218.25 234.60,219.60 C232.80,220.95 230.77,222.30 229.20,222.30 C227.63,222.30 226.32,221.40 225.20,219.60 C224.08,217.80 223.40,214.18 222.50,211.50 C221.60,208.82 220.02,206.18 219.80,203.50 C219.58,200.82 219.18,196.98 221.20,195.40Z" fill="#f2a020" opacity="1.0" stroke="#f2a020" stroke-width="2.2" stroke-linejoin="round"/><path d="M217.00,176.00 C218.25,174.67 221.67,175.00 224.00,175.00 C226.33,175.00 229.00,175.42 231.00,176.00 C233.00,176.58 234.83,177.33 236.00,178.50 C237.17,179.67 237.75,181.25 238.00,183.00 C238.25,184.75 238.00,187.25 237.50,189.00 C237.00,190.75 236.58,192.50 235.00,193.50 C233.42,194.50 230.33,194.92 228.00,195.00 C225.67,195.08 222.75,194.83 221.00,194.00 C219.25,193.17 218.25,191.83 217.50,190.00 C216.75,188.17 216.58,185.33 216.50,183.00 C216.42,180.67 215.75,177.33 217.00,176.00Z" fill="#c86062" opacity="1.0" stroke="#c86062" stroke-width="2.2" stroke-linejoin="round"/><path d="M216.00,171.00 C216.75,169.92 217.83,169.03 219.00,168.50 C220.17,167.97 221.67,167.72 223.00,167.80 C224.33,167.88 225.67,168.30 227.00,169.00 C228.33,169.70 230.17,171.00 231.00,172.00 C231.83,173.00 232.50,174.25 232.00,175.00 C231.50,175.75 229.67,176.33 228.00,176.50 C226.33,176.67 223.83,176.00 222.00,176.00 C220.17,176.00 218.25,176.67 217.00,176.50 C215.75,176.33 214.67,175.92 214.50,175.00 C214.33,174.08 215.25,172.08 216.00,171.00Z" fill="#4e9e48" opacity="1.0" stroke="#4e9e48" stroke-width="2.2" stroke-linejoin="round"/><path d="M214.00,172.50 C215.33,172.78 217.83,173.75 218.50,175.50 C219.17,177.25 218.17,180.58 218.00,183.00 C217.83,185.42 218.08,187.92 217.50,190.00 C216.92,192.08 216.08,193.92 214.50,195.50 C212.92,197.08 210.25,198.33 208.00,199.50 C205.75,200.67 203.00,201.67 201.00,202.50 C199.00,203.33 197.58,204.42 196.00,204.50 C194.42,204.58 191.92,204.00 191.50,203.00 C191.08,202.00 192.50,199.92 193.50,198.50 C194.50,197.08 196.17,196.00 197.50,194.50 C198.83,193.00 200.33,191.33 201.50,189.50 C202.67,187.67 203.50,185.50 204.50,183.50 C205.50,181.50 206.50,179.12 207.50,177.50 C208.50,175.88 209.42,174.63 210.50,173.80 C211.58,172.97 212.67,172.22 214.00,172.50Z" fill="#4a72b0" opacity="1.0" stroke="#4a72b0" stroke-width="2.2" stroke-linejoin="round"/><path d="M241.40,179.80 C241.40,180.27 241.20,180.83 240.90,181.21 C240.60,181.59 240.09,181.94 239.60,182.08 C239.12,182.23 238.48,182.23 238.00,182.08 C237.51,181.94 237.00,181.59 236.70,181.21 C236.40,180.83 236.20,180.27 236.20,179.80 C236.20,179.33 236.40,178.77 236.70,178.39 C237.00,178.01 237.51,177.66 238.00,177.52 C238.48,177.37 239.12,177.37 239.60,177.52 C240.09,177.66 240.60,178.01 240.90,178.39 C241.20,178.77 241.40,179.33 241.40,179.80Z" fill="#5e5e5e" opacity="1.0" stroke="#5e5e5e" stroke-width="2.2" stroke-linejoin="round"/><path d="M185.50,201.70 C186.73,200.35 190.30,200.88 192.20,201.00 C194.10,201.12 196.00,201.50 196.90,202.40 C197.80,203.30 197.93,205.17 197.60,206.40 C197.27,207.63 196.25,209.12 194.90,209.80 C193.55,210.48 191.18,210.62 189.50,210.50 C187.82,210.38 185.47,210.57 184.80,209.10 C184.13,207.63 184.27,203.05 185.50,201.70Z" fill="#8e3a5a" opacity="1.0" stroke="#8e3a5a" stroke-width="2.2" stroke-linejoin="round"/><path d="M178.70,201.70 C180.08,200.47 182.75,200.28 184.10,200.40 C185.45,200.52 186.23,200.95 186.80,202.40 C187.37,203.85 187.72,207.08 187.50,209.10 C187.28,211.12 186.52,213.38 185.50,214.50 C184.48,215.62 182.75,216.03 181.40,215.80 C180.05,215.57 178.33,214.43 177.40,213.10 C176.47,211.77 175.58,209.70 175.80,207.80 C176.02,205.90 177.32,202.93 178.70,201.70Z" fill="#d42a2a" opacity="1.0" stroke="#d42a2a" stroke-width="2.2" stroke-linejoin="round"/><path d="M181.40,217.20 C182.52,215.52 185.00,216.28 186.80,216.50 C188.60,216.72 190.85,217.27 192.20,218.50 C193.55,219.73 194.68,222.10 194.90,223.90 C195.12,225.70 194.62,227.95 193.50,229.30 C192.38,230.65 189.98,231.55 188.20,232.00 C186.42,232.45 184.15,232.90 182.80,232.00 C181.45,231.10 180.33,229.07 180.10,226.60 C179.87,224.13 180.28,218.88 181.40,217.20Z" fill="#e8742a" opacity="1.0" stroke="#e8742a" stroke-width="2.2" stroke-linejoin="round"/><path d="M221.00,202.50 C221.00,203.24 220.55,204.13 219.85,204.73 C219.16,205.34 217.97,205.88 216.85,206.11 C215.74,206.34 214.26,206.34 213.15,206.11 C212.03,205.88 210.84,205.34 210.15,204.73 C209.45,204.13 209.00,203.24 209.00,202.50 C209.00,201.76 209.45,200.87 210.15,200.27 C210.84,199.66 212.03,199.12 213.15,198.89 C214.26,198.66 215.74,198.66 216.85,198.89 C217.97,199.12 219.16,199.66 219.85,200.27 C220.55,200.87 221.00,201.76 221.00,202.50Z" fill="#4aa890" opacity="1.0" stroke="#4aa890" stroke-width="2.2" stroke-linejoin="round"/><path d="M216.00,208.00 C216.50,207.17 218.42,206.33 219.50,207.00 C220.58,207.67 221.58,210.08 222.50,212.00 C223.42,213.92 224.67,216.67 225.00,218.50 C225.33,220.33 225.00,222.33 224.50,223.00 C224.00,223.67 222.92,223.50 222.00,222.50 C221.08,221.50 219.92,218.75 219.00,217.00 C218.08,215.25 217.00,213.50 216.50,212.00 C216.00,210.50 215.50,208.83 216.00,208.00Z" fill="#2a8aa8" opacity="1.0" stroke="#2a8aa8" stroke-width="2.2" stroke-linejoin="round"/><path d="M218.00,232.00 C219.25,229.50 222.17,227.17 224.00,226.00 C225.83,224.83 227.50,224.33 229.00,225.00 C230.50,225.67 232.25,227.83 233.00,230.00 C233.75,232.17 233.83,235.33 233.50,238.00 C233.17,240.67 232.42,244.00 231.00,246.00 C229.58,248.00 227.00,249.58 225.00,250.00 C223.00,250.42 220.42,250.00 219.00,248.50 C217.58,247.00 216.67,243.75 216.50,241.00 C216.33,238.25 216.75,234.50 218.00,232.00Z" fill="#f4d020" opacity="1.0" stroke="#f4d020" stroke-width="2.2" stroke-linejoin="round"/><path d="M211.70,238.50 C212.70,237.15 215.75,236.22 217.10,237.10 C218.45,237.98 219.57,241.55 219.80,243.80 C220.03,246.05 219.62,249.47 218.50,250.60 C217.38,251.73 214.33,251.50 213.10,250.60 C211.87,249.70 211.33,247.22 211.10,245.20 C210.87,243.18 210.70,239.85 211.70,238.50Z" fill="#e084b4" opacity="1.0" stroke="#e084b4" stroke-width="2.2" stroke-linejoin="round"/><path d="M230.50,238.00 C231.75,236.42 235.58,235.33 238.00,235.50 C240.42,235.67 243.17,237.25 245.00,239.00 C246.83,240.75 248.67,243.67 249.00,246.00 C249.33,248.33 248.33,251.42 247.00,253.00 C245.67,254.58 243.00,255.67 241.00,255.50 C239.00,255.33 236.75,253.75 235.00,252.00 C233.25,250.25 231.25,247.33 230.50,245.00 C229.75,242.67 229.25,239.58 230.50,238.00Z" fill="#c0703c" opacity="1.0" stroke="#c0703c" stroke-width="2.2" stroke-linejoin="round"/><path d="M243.50,249.00 C244.92,247.33 248.67,246.17 251.00,246.00 C253.33,245.83 256.08,246.50 257.50,248.00 C258.92,249.50 259.58,252.58 259.50,255.00 C259.42,257.42 258.50,260.75 257.00,262.50 C255.50,264.25 252.50,265.58 250.50,265.50 C248.50,265.42 246.33,263.58 245.00,262.00 C243.67,260.42 242.75,258.17 242.50,256.00 C242.25,253.83 242.08,250.67 243.50,249.00Z" fill="#dcc030" opacity="1.0" stroke="#dcc030" stroke-width="2.2" stroke-linejoin="round"/><path d="M270.70,249.50 C270.70,250.36 270.38,251.39 269.90,252.09 C269.41,252.78 268.58,253.42 267.80,253.68 C267.02,253.95 265.98,253.95 265.20,253.68 C264.42,253.42 263.59,252.78 263.10,252.09 C262.62,251.39 262.30,250.36 262.30,249.50 C262.30,248.64 262.62,247.61 263.10,246.91 C263.59,246.22 264.42,245.58 265.20,245.32 C265.98,245.05 267.02,245.05 267.80,245.32 C268.58,245.58 269.41,246.22 269.90,246.91 C270.38,247.61 270.70,248.64 270.70,249.50Z" fill="#989898" opacity="1.0" stroke="#989898" stroke-width="2.2" stroke-linejoin="round"/></g>

<text x="222.40" y="174.60" font-size="6.4" fill="#1a1a1a" text-anchor="middle" font-weight="normal" stroke="#1a1a1a" stroke-width="0.16" >14</text>
<text x="225.60" y="186.60" font-size="6.4" fill="#1a1a1a" text-anchor="middle" font-weight="normal" stroke="#1a1a1a" stroke-width="0.16" >0</text>
<text x="238.30" y="182.30" font-size="6.4" fill="#1a1a1a" text-anchor="middle" font-weight="normal" stroke="#1a1a1a" stroke-width="0.16" >18</text>
<text x="211.80" y="188.70" font-size="6.4" fill="#1a1a1a" text-anchor="middle" font-weight="normal" stroke="#1a1a1a" stroke-width="0.16" >7</text>
<text x="180.00" y="212.00" font-size="6.4" fill="#1a1a1a" text-anchor="middle" font-weight="normal" stroke="#1a1a1a" stroke-width="0.16" >10</text>
<text x="189.60" y="208.30" font-size="6.4" fill="#1a1a1a" text-anchor="middle" font-weight="normal" stroke="#1a1a1a" stroke-width="0.16" >13</text>
<text x="185.40" y="228.90" font-size="6.4" fill="#1a1a1a" text-anchor="middle" font-weight="normal" stroke="#1a1a1a" stroke-width="0.16" >9</text>
<text x="215.40" y="204.60" font-size="6.4" fill="#1a1a1a" text-anchor="middle" font-weight="normal" stroke="#1a1a1a" stroke-width="0.16" >19</text>
<text x="219.70" y="213.70" font-size="6.4" fill="#1a1a1a" text-anchor="middle" font-weight="normal" stroke="#1a1a1a" stroke-width="0.16" >12</text>
<text x="230.90" y="209.90" font-size="6.4" fill="#1a1a1a" text-anchor="middle" font-weight="normal" stroke="#1a1a1a" stroke-width="0.16" >1</text>
<text x="248.80" y="210.50" font-size="6.4" fill="#1a1a1a" text-anchor="middle" font-weight="normal" stroke="#1a1a1a" stroke-width="0.16" >16</text>
<text x="257.70" y="204.20" font-size="6.4" fill="#1a1a1a" text-anchor="middle" font-weight="normal" stroke="#1a1a1a" stroke-width="0.16" >4</text>
<text x="240.80" y="225.80" font-size="6.4" fill="#1a1a1a" text-anchor="middle" font-weight="normal" stroke="#1a1a1a" stroke-width="0.16" >2</text>
<text x="248.80" y="229.60" font-size="6.4" fill="#1a1a1a" text-anchor="middle" font-weight="normal" stroke="#1a1a1a" stroke-width="0.16" >20</text>
<text x="255.60" y="242.30" font-size="6.4" fill="#1a1a1a" text-anchor="middle" font-weight="normal" stroke="#1a1a1a" stroke-width="0.16" >5</text>
<text x="224.00" y="241.00" font-size="6.4" fill="#1a1a1a" text-anchor="middle" font-weight="normal" stroke="#1a1a1a" stroke-width="0.16" >6</text>
<text x="215.40" y="249.50" font-size="6.4" fill="#1a1a1a" text-anchor="middle" font-weight="normal" stroke="#1a1a1a" stroke-width="0.16" >11</text>
<text x="240.40" y="248.00" font-size="6.4" fill="#1a1a1a" text-anchor="middle" font-weight="normal" stroke="#1a1a1a" stroke-width="0.16" >8</text>
<text x="251.40" y="257.90" font-size="6.4" fill="#1a1a1a" text-anchor="middle" font-weight="normal" stroke="#1a1a1a" stroke-width="0.16" >3</text>
<text x="266.80" y="253.90" font-size="6.4" fill="#1a1a1a" text-anchor="middle" font-weight="normal" stroke="#1a1a1a" stroke-width="0.16" >17</text>
<circle cx="387.4" cy="253.9" r="0.32" fill="#c892b8" fill-opacity="0.75"/><circle cx="365.4" cy="200.1" r="0.47" fill="#b0b0b0" fill-opacity="0.75"/><circle cx="363.4" cy="230.3" r="0.31" fill="#e084b4" fill-opacity="0.75"/><circle cx="377.2" cy="257.5" r="0.40" fill="#f0e040" fill-opacity="0.75"/><circle cx="378.8" cy="257.2" r="0.44" fill="#dcc030" fill-opacity="0.75"/><circle cx="368.5" cy="206.9" r="0.52" fill="#c892b8" fill-opacity="0.75"/><circle cx="365.5" cy="252.8" r="0.41" fill="#b0643a" fill-opacity="0.75"/><circle cx="384.7" cy="199.8" r="0.36" fill="#c65448" fill-opacity="0.75"/><circle cx="352.9" cy="210.9" r="0.43" fill="#c65448" fill-opacity="0.75"/><circle cx="365.3" cy="223.9" r="0.35" fill="#e084b4" fill-opacity="0.75"/><circle cx="385.1" cy="243.5" r="0.43" fill="#f0e040" fill-opacity="0.75"/><circle cx="385.6" cy="213.6" r="0.39" fill="#e084b4" fill-opacity="0.75"/><circle cx="388.3" cy="254.9" r="0.54" fill="#c65448" fill-opacity="0.75"/><circle cx="366.8" cy="239.5" r="0.43" fill="#f0e040" fill-opacity="0.75"/><circle cx="370.1" cy="252.3" r="0.43" fill="#e084b4" fill-opacity="0.75"/><circle cx="381.5" cy="234.1" r="0.52" fill="#b0643a" fill-opacity="0.75"/><circle cx="369.1" cy="227.6" r="0.48" fill="#e084b4" fill-opacity="0.75"/><circle cx="370.0" cy="203.7" r="0.50" fill="#dcc030" fill-opacity="0.75"/><circle cx="382.9" cy="249.0" r="0.37" fill="#e084b4" fill-opacity="0.75"/><circle cx="385.7" cy="209.8" r="0.48" fill="#b0b0b0" fill-opacity="0.75"/><circle cx="370.7" cy="224.2" r="0.45" fill="#f0e040" fill-opacity="0.75"/><circle cx="367.0" cy="238.9" r="0.43" fill="#b0643a" fill-opacity="0.75"/><circle cx="386.6" cy="231.5" r="0.50" fill="#c892b8" fill-opacity="0.75"/><circle cx="364.6" cy="189.0" r="0.35" fill="#b0b0b0" fill-opacity="0.75"/><circle cx="379.6" cy="192.5" r="0.31" fill="#f0e040" fill-opacity="0.75"/><circle cx="373.9" cy="235.6" r="0.49" fill="#c892b8" fill-opacity="0.75"/><circle cx="357.1" cy="206.8" r="0.35" fill="#b0b0b0" fill-opacity="0.75"/><circle cx="384.6" cy="217.6" r="0.49" fill="#f0e040" fill-opacity="0.75"/><circle cx="354.1" cy="213.3" r="0.47" fill="#c65448" fill-opacity="0.75"/><circle cx="355.1" cy="254.4" r="0.31" fill="#c892b8" fill-opacity="0.75"/><circle cx="386.0" cy="214.2" r="0.50" fill="#c65448" fill-opacity="0.75"/><circle cx="357.8" cy="201.1" r="0.30" fill="#f0e040" fill-opacity="0.75"/><circle cx="373.8" cy="243.3" r="0.34" fill="#c65448" fill-opacity="0.75"/><circle cx="353.3" cy="212.2" r="0.46" fill="#e084b4" fill-opacity="0.75"/><circle cx="379.7" cy="208.2" r="0.31" fill="#b0643a" fill-opacity="0.75"/><circle cx="368.6" cy="241.3" r="0.31" fill="#f0e040" fill-opacity="0.75"/><circle cx="361.8" cy="216.2" r="0.48" fill="#e084b4" fill-opacity="0.75"/><circle cx="369.5" cy="204.0" r="0.47" fill="#f0e040" fill-opacity="0.75"/><circle cx="383.0" cy="190.1" r="0.52" fill="#b0b0b0" fill-opacity="0.75"/><circle cx="356.7" cy="228.8" r="0.42" fill="#b0643a" fill-opacity="0.75"/><circle cx="364.1" cy="248.8" r="0.36" fill="#dcc030" fill-opacity="0.75"/><circle cx="374.4" cy="217.4" r="0.47" fill="#c892b8" fill-opacity="0.75"/><circle cx="387.5" cy="234.7" r="0.31" fill="#dcc030" fill-opacity="0.75"/><circle cx="358.0" cy="195.0" r="0.36" fill="#f0e040" fill-opacity="0.75"/><circle cx="385.9" cy="237.3" r="0.55" fill="#c892b8" fill-opacity="0.75"/><circle cx="360.6" cy="219.1" r="0.32" fill="#dcc030" fill-opacity="0.75"/><circle cx="360.4" cy="243.1" r="0.48" fill="#e084b4" fill-opacity="0.75"/><circle cx="361.5" cy="217.6" r="0.49" fill="#e084b4" fill-opacity="0.75"/><circle cx="357.6" cy="215.0" r="0.33" fill="#c65448" fill-opacity="0.75"/><circle cx="378.8" cy="205.0" r="0.30" fill="#c892b8" fill-opacity="0.75"/><circle cx="379.8" cy="195.7" r="0.43" fill="#c892b8" fill-opacity="0.75"/><circle cx="369.2" cy="209.8" r="0.40" fill="#f0e040" fill-opacity="0.75"/><circle cx="377.3" cy="241.0" r="0.48" fill="#c65448" fill-opacity="0.75"/><circle cx="368.0" cy="223.8" r="0.45" fill="#e084b4" fill-opacity="0.75"/><circle cx="384.6" cy="252.6" r="0.35" fill="#e084b4" fill-opacity="0.75"/><circle cx="355.5" cy="243.9" r="0.30" fill="#dcc030" fill-opacity="0.75"/><circle cx="387.5" cy="196.6" r="0.37" fill="#dcc030" fill-opacity="0.75"/><circle cx="388.4" cy="214.1" r="0.52" fill="#c892b8" fill-opacity="0.75"/><circle cx="367.3" cy="195.7" r="0.51" fill="#c65448" fill-opacity="0.75"/><circle cx="376.9" cy="189.5" r="0.31" fill="#b0643a" fill-opacity="0.75"/><circle cx="375.6" cy="220.4" r="0.45" fill="#e084b4" fill-opacity="0.75"/><circle cx="352.2" cy="190.1" r="0.53" fill="#dcc030" fill-opacity="0.75"/><circle cx="354.8" cy="240.6" r="0.33" fill="#c65448" fill-opacity="0.75"/><circle cx="365.8" cy="237.9" r="0.49" fill="#c65448" fill-opacity="0.75"/><circle cx="366.6" cy="196.8" r="0.33" fill="#c892b8" fill-opacity="0.75"/><circle cx="374.8" cy="211.5" r="0.54" fill="#b0643a" fill-opacity="0.75"/><circle cx="377.6" cy="190.1" r="0.42" fill="#f0e040" fill-opacity="0.75"/><circle cx="353.6" cy="237.2" r="0.39" fill="#dcc030" fill-opacity="0.75"/><circle cx="368.9" cy="243.6" r="0.42" fill="#dcc030" fill-opacity="0.75"/><circle cx="384.0" cy="238.1" r="0.50" fill="#f0e040" fill-opacity="0.75"/><circle cx="386.5" cy="246.2" r="0.40" fill="#dcc030" fill-opacity="0.75"/><circle cx="357.8" cy="229.6" r="0.41" fill="#e084b4" fill-opacity="0.75"/><circle cx="377.1" cy="251.9" r="0.48" fill="#e084b4" fill-opacity="0.75"/><circle cx="373.3" cy="193.3" r="0.55" fill="#c65448" fill-opacity="0.75"/><circle cx="357.4" cy="217.2" r="0.50" fill="#c892b8" fill-opacity="0.75"/><circle cx="385.7" cy="235.5" r="0.46" fill="#b0b0b0" fill-opacity="0.75"/><circle cx="356.8" cy="208.9" r="0.48" fill="#c65448" fill-opacity="0.75"/><circle cx="384.8" cy="211.2" r="0.43" fill="#c65448" fill-opacity="0.75"/><circle cx="356.1" cy="225.8" r="0.41" fill="#b0b0b0" fill-opacity="0.75"/><circle cx="364.2" cy="205.6" r="0.36" fill="#e084b4" fill-opacity="0.75"/><circle cx="385.1" cy="220.3" r="0.36" fill="#f0e040" fill-opacity="0.75"/><circle cx="384.4" cy="213.2" r="0.44" fill="#b0b0b0" fill-opacity="0.75"/><circle cx="357.4" cy="218.9" r="0.50" fill="#c892b8" fill-opacity="0.75"/><circle cx="366.2" cy="239.3" r="0.43" fill="#b0643a" fill-opacity="0.75"/><circle cx="369.9" cy="216.4" r="0.48" fill="#f0e040" fill-opacity="0.75"/><circle cx="367.2" cy="233.2" r="0.54" fill="#dcc030" fill-opacity="0.75"/><circle cx="364.2" cy="239.9" r="0.32" fill="#f0e040" fill-opacity="0.75"/><circle cx="382.3" cy="238.6" r="0.46" fill="#e084b4" fill-opacity="0.75"/><circle cx="366.9" cy="234.5" r="0.53" fill="#f0e040" fill-opacity="0.75"/><circle cx="363.6" cy="224.6" r="0.46" fill="#b0643a" fill-opacity="0.75"/><circle cx="382.2" cy="189.6" r="0.48" fill="#c65448" fill-opacity="0.75"/><circle cx="374.4" cy="251.0" r="0.40" fill="#c892b8" fill-opacity="0.75"/><circle cx="372.6" cy="243.8" r="0.49" fill="#dcc030" fill-opacity="0.75"/><circle cx="373.7" cy="201.6" r="0.45" fill="#b0b0b0" fill-opacity="0.75"/><circle cx="352.3" cy="235.3" r="0.36" fill="#b0643a" fill-opacity="0.75"/><circle cx="372.9" cy="220.7" r="0.54" fill="#c65448" fill-opacity="0.75"/><circle cx="380.1" cy="212.6" r="0.43" fill="#b0643a" fill-opacity="0.75"/><circle cx="376.8" cy="192.9" r="0.42" fill="#e084b4" fill-opacity="0.75"/><circle cx="377.0" cy="211.5" r="0.52" fill="#dcc030" fill-opacity="0.75"/><circle cx="369.0" cy="256.6" r="0.49" fill="#e084b4" fill-opacity="0.75"/><circle cx="358.4" cy="240.3" r="0.55" fill="#b0b0b0" fill-opacity="0.75"/><circle cx="361.4" cy="231.6" r="0.52" fill="#b0b0b0" fill-opacity="0.75"/><circle cx="357.0" cy="199.6" r="0.55" fill="#b0643a" fill-opacity="0.75"/><circle cx="377.0" cy="199.2" r="0.44" fill="#dcc030" fill-opacity="0.75"/><circle cx="387.8" cy="213.7" r="0.51" fill="#e084b4" fill-opacity="0.75"/><circle cx="372.9" cy="202.5" r="0.38" fill="#f0e040" fill-opacity="0.75"/><circle cx="376.0" cy="221.8" r="0.48" fill="#e084b4" fill-opacity="0.75"/><circle cx="363.2" cy="206.2" r="0.38" fill="#dcc030" fill-opacity="0.75"/><circle cx="375.9" cy="243.4" r="0.46" fill="#f0e040" fill-opacity="0.75"/><circle cx="371.2" cy="252.0" r="0.46" fill="#e084b4" fill-opacity="0.75"/><circle cx="366.5" cy="225.1" r="0.34" fill="#b0b0b0" fill-opacity="0.75"/><circle cx="370.7" cy="194.6" r="0.36" fill="#c892b8" fill-opacity="0.75"/><circle cx="368.9" cy="204.4" r="0.32" fill="#dcc030" fill-opacity="0.75"/><circle cx="356.1" cy="235.1" r="0.39" fill="#b0b0b0" fill-opacity="0.75"/><circle cx="365.5" cy="210.4" r="0.38" fill="#c892b8" fill-opacity="0.75"/><circle cx="365.4" cy="222.8" r="0.37" fill="#b0b0b0" fill-opacity="0.75"/><circle cx="385.1" cy="252.1" r="0.55" fill="#b0643a" fill-opacity="0.75"/><circle cx="360.0" cy="207.3" r="0.32" fill="#c65448" fill-opacity="0.75"/><circle cx="360.8" cy="201.5" r="0.51" fill="#f0e040" fill-opacity="0.75"/><circle cx="358.9" cy="198.1" r="0.36" fill="#c65448" fill-opacity="0.75"/><circle cx="381.9" cy="232.1" r="0.50" fill="#b0643a" fill-opacity="0.75"/><circle cx="379.7" cy="207.8" r="0.53" fill="#f0e040" fill-opacity="0.75"/><circle cx="370.6" cy="236.1" r="0.49" fill="#dcc030" fill-opacity="0.75"/><circle cx="379.8" cy="248.5" r="0.49" fill="#f0e040" fill-opacity="0.75"/><circle cx="388.2" cy="208.6" r="0.46" fill="#e084b4" fill-opacity="0.75"/><circle cx="354.7" cy="209.7" r="0.34" fill="#b0643a" fill-opacity="0.75"/><circle cx="387.4" cy="212.9" r="0.32" fill="#b0643a" fill-opacity="0.75"/><circle cx="386.2" cy="210.2" r="0.33" fill="#b0643a" fill-opacity="0.75"/><circle cx="353.0" cy="212.6" r="0.32" fill="#dcc030" fill-opacity="0.75"/><circle cx="384.5" cy="239.0" r="0.41" fill="#f0e040" fill-opacity="0.75"/><circle cx="372.1" cy="204.8" r="0.45" fill="#b0b0b0" fill-opacity="0.75"/><circle cx="372.0" cy="220.8" r="0.39" fill="#c65448" fill-opacity="0.75"/><circle cx="359.5" cy="222.9" r="0.50" fill="#c65448" fill-opacity="0.75"/><circle cx="364.3" cy="198.2" r="0.36" fill="#dcc030" fill-opacity="0.75"/><circle cx="364.7" cy="205.4" r="0.48" fill="#c65448" fill-opacity="0.75"/><circle cx="353.7" cy="253.4" r="0.49" fill="#f0e040" fill-opacity="0.75"/><circle cx="354.3" cy="198.4" r="0.32" fill="#b0b0b0" fill-opacity="0.75"/><circle cx="368.4" cy="207.2" r="0.43" fill="#dcc030" fill-opacity="0.75"/><circle cx="383.3" cy="211.8" r="0.48" fill="#b0b0b0" fill-opacity="0.75"/><circle cx="387.4" cy="204.1" r="0.40" fill="#c892b8" fill-opacity="0.75"/><circle cx="369.5" cy="231.2" r="0.44" fill="#dcc030" fill-opacity="0.75"/><circle cx="375.0" cy="194.7" r="0.43" fill="#e084b4" fill-opacity="0.75"/><circle cx="388.4" cy="256.8" r="0.47" fill="#b0b0b0" fill-opacity="0.75"/><circle cx="358.3" cy="215.1" r="0.31" fill="#b0643a" fill-opacity="0.75"/><circle cx="356.0" cy="257.2" r="0.33" fill="#c65448" fill-opacity="0.75"/><circle cx="386.1" cy="223.0" r="0.32" fill="#c65448" fill-opacity="0.75"/><circle cx="363.3" cy="243.6" r="0.36" fill="#c892b8" fill-opacity="0.75"/><circle cx="376.7" cy="203.6" r="0.34" fill="#c892b8" fill-opacity="0.75"/><circle cx="376.8" cy="194.8" r="0.46" fill="#b0b0b0" fill-opacity="0.75"/><circle cx="353.8" cy="250.5" r="0.32" fill="#c65448" fill-opacity="0.75"/><circle cx="357.2" cy="190.5" r="0.43" fill="#f0e040" fill-opacity="0.75"/><circle cx="354.2" cy="202.2" r="0.51" fill="#c892b8" fill-opacity="0.75"/><circle cx="371.3" cy="235.5" r="0.33" fill="#c65448" fill-opacity="0.75"/><circle cx="370.2" cy="197.5" r="0.36" fill="#c892b8" fill-opacity="0.75"/><circle cx="369.3" cy="243.6" r="0.35" fill="#e084b4" fill-opacity="0.75"/><circle cx="366.0" cy="231.4" r="0.40" fill="#b0b0b0" fill-opacity="0.75"/><circle cx="386.6" cy="224.7" r="0.53" fill="#b0b0b0" fill-opacity="0.75"/><circle cx="358.0" cy="195.7" r="0.34" fill="#b0b0b0" fill-opacity="0.75"/><circle cx="387.4" cy="200.4" r="0.37" fill="#c65448" fill-opacity="0.75"/><circle cx="367.9" cy="218.0" r="0.38" fill="#b0643a" fill-opacity="0.75"/>
<circle cx="319.1" cy="212.3" r="0.42" fill="#d8a0c8" fill-opacity="0.75"/><circle cx="314.7" cy="210.1" r="0.50" fill="#e8c890" fill-opacity="0.75"/><circle cx="335.0" cy="215.5" r="0.37" fill="#e8c890" fill-opacity="0.75"/><circle cx="317.2" cy="212.4" r="0.54" fill="#a8bcd8" fill-opacity="0.75"/><circle cx="312.8" cy="226.7" r="0.50" fill="#e8c890" fill-opacity="0.75"/><circle cx="317.8" cy="217.8" r="0.32" fill="#e8c890" fill-opacity="0.75"/><circle cx="330.2" cy="227.6" r="0.34" fill="#a8bcd8" fill-opacity="0.75"/><circle cx="326.2" cy="211.9" r="0.30" fill="#e8c890" fill-opacity="0.75"/><circle cx="320.8" cy="228.5" r="0.51" fill="#e8c890" fill-opacity="0.75"/><circle cx="327.3" cy="220.6" r="0.41" fill="#e8c890" fill-opacity="0.75"/><circle cx="316.8" cy="217.7" r="0.32" fill="#e0b0b0" fill-opacity="0.75"/><circle cx="325.9" cy="236.3" r="0.48" fill="#d8a0c8" fill-opacity="0.75"/><circle cx="316.4" cy="227.6" r="0.40" fill="#e0b0b0" fill-opacity="0.75"/><circle cx="318.1" cy="226.5" r="0.35" fill="#e8c890" fill-opacity="0.75"/><circle cx="325.1" cy="225.3" r="0.53" fill="#a8bcd8" fill-opacity="0.75"/><circle cx="315.0" cy="211.2" r="0.37" fill="#a8bcd8" fill-opacity="0.75"/><circle cx="329.5" cy="232.7" r="0.38" fill="#e0b0b0" fill-opacity="0.75"/><circle cx="317.3" cy="221.9" r="0.39" fill="#e0b0b0" fill-opacity="0.75"/><circle cx="314.5" cy="235.4" r="0.48" fill="#e8c890" fill-opacity="0.75"/><circle cx="340.8" cy="210.0" r="0.38" fill="#e8c890" fill-opacity="0.75"/><circle cx="316.6" cy="227.0" r="0.37" fill="#e0b0b0" fill-opacity="0.75"/><circle cx="317.7" cy="221.5" r="0.36" fill="#a8bcd8" fill-opacity="0.75"/><circle cx="330.0" cy="213.8" r="0.39" fill="#e0b0b0" fill-opacity="0.75"/><circle cx="325.6" cy="219.3" r="0.55" fill="#e8c890" fill-opacity="0.75"/><circle cx="329.1" cy="221.3" r="0.41" fill="#a8bcd8" fill-opacity="0.75"/><circle cx="318.2" cy="211.1" r="0.48" fill="#e0b0b0" fill-opacity="0.75"/><circle cx="329.9" cy="235.6" r="0.44" fill="#e0b0b0" fill-opacity="0.75"/><circle cx="329.5" cy="218.2" r="0.33" fill="#e0b0b0" fill-opacity="0.75"/><circle cx="327.9" cy="230.3" r="0.46" fill="#d8a0c8" fill-opacity="0.75"/><circle cx="318.0" cy="214.9" r="0.40" fill="#d8a0c8" fill-opacity="0.75"/><circle cx="313.1" cy="220.8" r="0.46" fill="#a8bcd8" fill-opacity="0.75"/><circle cx="324.8" cy="215.3" r="0.31" fill="#a8bcd8" fill-opacity="0.75"/><circle cx="319.6" cy="216.0" r="0.49" fill="#a8bcd8" fill-opacity="0.75"/><circle cx="324.5" cy="216.6" r="0.31" fill="#e8c890" fill-opacity="0.75"/><circle cx="339.8" cy="224.7" r="0.54" fill="#d8a0c8" fill-opacity="0.75"/><circle cx="331.6" cy="232.9" r="0.42" fill="#e0b0b0" fill-opacity="0.75"/><circle cx="314.8" cy="215.2" r="0.38" fill="#a8bcd8" fill-opacity="0.75"/><circle cx="331.7" cy="231.0" r="0.50" fill="#e8c890" fill-opacity="0.75"/><circle cx="327.8" cy="227.1" r="0.38" fill="#e8c890" fill-opacity="0.75"/><circle cx="323.8" cy="222.9" r="0.54" fill="#e8c890" fill-opacity="0.75"/><circle cx="332.1" cy="210.7" r="0.49" fill="#a8bcd8" fill-opacity="0.75"/><circle cx="320.1" cy="232.5" r="0.47" fill="#a8bcd8" fill-opacity="0.75"/><circle cx="325.9" cy="222.2" r="0.53" fill="#d8a0c8" fill-opacity="0.75"/><circle cx="318.6" cy="209.6" r="0.30" fill="#a8bcd8" fill-opacity="0.75"/><circle cx="338.3" cy="212.6" r="0.52" fill="#d8a0c8" fill-opacity="0.75"/><circle cx="328.5" cy="233.1" r="0.34" fill="#a8bcd8" fill-opacity="0.75"/><circle cx="330.2" cy="231.5" r="0.53" fill="#d8a0c8" fill-opacity="0.75"/><circle cx="325.2" cy="211.6" r="0.42" fill="#e0b0b0" fill-opacity="0.75"/><circle cx="337.9" cy="225.9" r="0.31" fill="#a8bcd8" fill-opacity="0.75"/><circle cx="314.4" cy="233.1" r="0.37" fill="#e0b0b0" fill-opacity="0.75"/>
<g filter="url(#r2)" opacity="0.35"><path d="M369.06,232.01 C369.46,231.05 370.66,230.83 371.46,230.48 C372.26,230.12 373.19,229.90 373.86,229.90 C374.53,229.90 375.09,229.74 375.46,230.48 C375.83,231.21 375.89,232.97 376.06,234.32 C376.23,235.66 376.56,237.32 376.46,238.54 C376.36,239.76 376.03,241.04 375.46,241.61 C374.89,242.19 373.79,242.38 373.06,242.00 C372.33,241.61 371.73,240.27 371.06,239.31 C370.39,238.35 369.39,237.45 369.06,236.24 C368.73,235.02 368.66,232.97 369.06,232.01Z" fill="#c65448" stroke="#c65448" stroke-width="4.6" stroke-linejoin="round"/><path d="M369.50,224.40 C369.50,226.37 368.67,228.73 367.40,230.32 C366.13,231.92 363.95,233.38 361.90,233.99 C359.85,234.60 357.15,234.60 355.10,233.99 C353.05,233.38 350.87,231.92 349.60,230.32 C348.33,228.73 347.50,226.37 347.50,224.40 C347.50,222.43 348.33,220.07 349.60,218.48 C350.87,216.88 353.05,215.42 355.10,214.81 C357.15,214.20 359.85,214.20 361.90,214.81 C363.95,215.42 366.13,216.88 367.40,218.48 C368.67,220.07 369.50,222.43 369.50,224.40Z" fill="#9058b8" stroke="#9058b8" stroke-width="4.6" stroke-linejoin="round"/><path d="M370.00,225.36 C370.00,226.30 369.70,227.42 369.24,228.18 C368.78,228.94 367.98,229.63 367.24,229.93 C366.49,230.22 365.51,230.22 364.76,229.93 C364.02,229.63 363.22,228.94 362.76,228.18 C362.30,227.42 362.00,226.30 362.00,225.36 C362.00,224.42 362.30,223.30 362.76,222.54 C363.22,221.78 364.02,221.09 364.76,220.79 C365.51,220.50 366.49,220.50 367.24,220.79 C367.98,221.09 368.78,221.78 369.24,222.54 C369.70,223.30 370.00,224.42 370.00,225.36Z" fill="#a85aa8" stroke="#a85aa8" stroke-width="4.6" stroke-linejoin="round"/><path d="M370.20,205.68 C370.20,206.58 369.81,207.66 369.21,208.39 C368.61,209.12 367.58,209.78 366.61,210.06 C365.64,210.34 364.36,210.34 363.39,210.06 C362.42,209.78 361.39,209.12 360.79,208.39 C360.19,207.66 359.80,206.58 359.80,205.68 C359.80,204.78 360.19,203.70 360.79,202.97 C361.39,202.24 362.42,201.58 363.39,201.30 C364.36,201.02 365.64,201.02 366.61,201.30 C367.58,201.58 368.61,202.24 369.21,202.97 C369.81,203.70 370.20,204.78 370.20,205.68Z" fill="#f0e040" stroke="#f0e040" stroke-width="4.6" stroke-linejoin="round"/><path d="M338.20,193.58 C340.22,192.06 346.00,191.81 348.90,192.24 C351.80,192.67 354.03,194.22 355.60,196.18 C357.17,198.13 358.07,201.38 358.30,203.95 C358.53,206.53 358.12,209.49 357.00,211.63 C355.88,213.78 353.40,215.52 351.60,216.82 C349.80,218.11 347.77,219.41 346.20,219.41 C344.63,219.41 343.32,218.54 342.20,216.82 C341.08,215.09 340.40,211.62 339.50,209.04 C338.60,206.46 337.02,203.94 336.80,201.36 C336.58,198.78 336.18,195.10 338.20,193.58Z" fill="#f2a020" stroke="#f2a020" stroke-width="4.6" stroke-linejoin="round"/><path d="M334.00,174.96 C335.25,173.68 338.67,174.00 341.00,174.00 C343.33,174.00 346.00,174.40 348.00,174.96 C350.00,175.52 351.83,176.24 353.00,177.36 C354.17,178.48 354.75,180.00 355.00,181.68 C355.25,183.36 355.00,185.76 354.50,187.44 C354.00,189.12 353.58,190.80 352.00,191.76 C350.42,192.72 347.33,193.12 345.00,193.20 C342.67,193.28 339.75,193.04 338.00,192.24 C336.25,191.44 335.25,190.16 334.50,188.40 C333.75,186.64 333.58,183.92 333.50,181.68 C333.42,179.44 332.75,176.24 334.00,174.96Z" fill="#c86062" stroke="#c86062" stroke-width="4.6" stroke-linejoin="round"/><path d="M333.00,170.16 C333.75,169.12 334.83,168.27 336.00,167.76 C337.17,167.25 338.67,167.01 340.00,167.09 C341.33,167.17 342.67,167.57 344.00,168.24 C345.33,168.91 347.17,170.16 348.00,171.12 C348.83,172.08 349.50,173.28 349.00,174.00 C348.50,174.72 346.67,175.28 345.00,175.44 C343.33,175.60 340.83,174.96 339.00,174.96 C337.17,174.96 335.25,175.60 334.00,175.44 C332.75,175.28 331.67,174.88 331.50,174.00 C331.33,173.12 332.25,171.20 333.00,170.16Z" fill="#4e9e48" stroke="#4e9e48" stroke-width="4.6" stroke-linejoin="round"/><path d="M331.00,171.60 C332.33,171.87 334.83,172.80 335.50,174.48 C336.17,176.16 335.17,179.36 335.00,181.68 C334.83,184.00 335.08,186.40 334.50,188.40 C333.92,190.40 333.08,192.16 331.50,193.68 C329.92,195.20 327.25,196.40 325.00,197.52 C322.75,198.64 320.00,199.60 318.00,200.40 C316.00,201.20 314.58,202.24 313.00,202.32 C311.42,202.40 308.92,201.84 308.50,200.88 C308.08,199.92 309.50,197.92 310.50,196.56 C311.50,195.20 313.17,194.16 314.50,192.72 C315.83,191.28 317.33,189.68 318.50,187.92 C319.67,186.16 320.50,184.08 321.50,182.16 C322.50,180.24 323.50,177.95 324.50,176.40 C325.50,174.85 326.42,173.65 327.50,172.85 C328.58,172.05 329.67,171.33 331.00,171.60Z" fill="#4a72b0" stroke="#4a72b0" stroke-width="4.6" stroke-linejoin="round"/><path d="M358.40,178.61 C358.40,179.06 358.20,179.60 357.90,179.96 C357.60,180.33 357.09,180.66 356.60,180.80 C356.12,180.94 355.48,180.94 355.00,180.80 C354.51,180.66 354.00,180.33 353.70,179.96 C353.40,179.60 353.20,179.06 353.20,178.61 C353.20,178.16 353.40,177.62 353.70,177.25 C354.00,176.89 354.51,176.56 355.00,176.42 C355.48,176.28 356.12,176.28 356.60,176.42 C357.09,176.56 357.60,176.89 357.90,177.25 C358.20,177.62 358.40,178.16 358.40,178.61Z" fill="#5e5e5e" stroke="#5e5e5e" stroke-width="4.6" stroke-linejoin="round"/><path d="M302.50,199.63 C303.73,198.34 307.30,198.85 309.20,198.96 C311.10,199.07 313.00,199.44 313.90,200.30 C314.80,201.17 314.93,202.96 314.60,204.14 C314.27,205.33 313.25,206.75 311.90,207.41 C310.55,208.06 308.18,208.19 306.50,208.08 C304.82,207.97 302.47,208.14 301.80,206.74 C301.13,205.33 301.27,200.93 302.50,199.63Z" fill="#8e3a5a" stroke="#8e3a5a" stroke-width="4.6" stroke-linejoin="round"/><path d="M295.70,199.63 C297.08,198.45 299.75,198.27 301.10,198.38 C302.45,198.50 303.23,198.91 303.80,200.30 C304.37,201.70 304.72,204.80 304.50,206.74 C304.28,208.67 303.52,210.85 302.50,211.92 C301.48,212.99 299.75,213.39 298.40,213.17 C297.05,212.94 295.33,211.86 294.40,210.58 C293.47,209.30 292.58,207.31 292.80,205.49 C293.02,203.66 294.32,200.82 295.70,199.63Z" fill="#d42a2a" stroke="#d42a2a" stroke-width="4.6" stroke-linejoin="round"/><path d="M298.40,214.51 C299.52,212.90 302.00,213.63 303.80,213.84 C305.60,214.05 307.85,214.58 309.20,215.76 C310.55,216.94 311.68,219.22 311.90,220.94 C312.12,222.67 311.62,224.83 310.50,226.13 C309.38,227.42 306.98,228.29 305.20,228.72 C303.42,229.15 301.15,229.58 299.80,228.72 C298.45,227.86 297.33,225.90 297.10,223.54 C296.87,221.17 297.28,216.13 298.40,214.51Z" fill="#e8742a" stroke="#e8742a" stroke-width="4.6" stroke-linejoin="round"/><path d="M338.00,200.40 C338.00,201.11 337.55,201.97 336.85,202.54 C336.16,203.12 334.97,203.65 333.85,203.87 C332.74,204.09 331.26,204.09 330.15,203.87 C329.03,203.65 327.84,203.12 327.15,202.54 C326.45,201.97 326.00,201.11 326.00,200.40 C326.00,199.69 326.45,198.83 327.15,198.26 C327.84,197.68 329.03,197.15 330.15,196.93 C331.26,196.71 332.74,196.71 333.85,196.93 C334.97,197.15 336.16,197.68 336.85,198.26 C337.55,198.83 338.00,199.69 338.00,200.40Z" fill="#4aa890" stroke="#4aa890" stroke-width="4.6" stroke-linejoin="round"/><path d="M334.85,208.37 C335.15,207.89 336.30,207.41 336.95,207.79 C337.60,208.18 338.20,209.57 338.75,210.67 C339.30,211.78 340.05,213.36 340.25,214.42 C340.45,215.47 340.25,216.62 339.95,217.01 C339.65,217.39 339.00,217.30 338.45,216.72 C337.90,216.14 337.20,214.56 336.65,213.55 C336.10,212.54 335.45,211.54 335.15,210.67 C334.85,209.81 334.55,208.85 334.85,208.37Z" fill="#2a8aa8" stroke="#2a8aa8" stroke-width="4.6" stroke-linejoin="round"/><path d="M336.12,229.50 C337.18,227.46 339.66,225.55 341.22,224.60 C342.78,223.65 344.19,223.24 345.47,223.78 C346.74,224.33 348.23,226.10 348.87,227.86 C349.50,229.63 349.57,232.22 349.29,234.39 C349.01,236.57 348.37,239.29 347.17,240.92 C345.96,242.55 343.77,243.84 342.07,244.18 C340.37,244.52 338.17,244.18 336.97,242.96 C335.76,241.74 334.98,239.08 334.84,236.84 C334.70,234.60 335.05,231.54 336.12,229.50Z" fill="#f4d020" stroke="#f4d020" stroke-width="4.6" stroke-linejoin="round"/><path d="M365.25,249.10 C365.75,248.54 367.06,248.14 367.88,248.09 C368.69,248.03 369.66,248.26 370.15,248.76 C370.65,249.26 370.88,250.30 370.85,251.11 C370.82,251.92 370.50,253.04 369.98,253.63 C369.45,254.22 368.40,254.67 367.70,254.64 C367.00,254.61 366.24,254.00 365.78,253.46 C365.31,252.93 364.99,252.18 364.90,251.45 C364.82,250.72 364.76,249.66 365.25,249.10Z" fill="#dcc030" stroke="#dcc030" stroke-width="4.6" stroke-linejoin="round"/></g><g filter="url(#r2)"><path d="M369.06,232.01 C369.46,231.05 370.66,230.83 371.46,230.48 C372.26,230.12 373.19,229.90 373.86,229.90 C374.53,229.90 375.09,229.74 375.46,230.48 C375.83,231.21 375.89,232.97 376.06,234.32 C376.23,235.66 376.56,237.32 376.46,238.54 C376.36,239.76 376.03,241.04 375.46,241.61 C374.89,242.19 373.79,242.38 373.06,242.00 C372.33,241.61 371.73,240.27 371.06,239.31 C370.39,238.35 369.39,237.45 369.06,236.24 C368.73,235.02 368.66,232.97 369.06,232.01Z" fill="#c65448" opacity="0.85" stroke="#c65448" stroke-width="2.2" stroke-linejoin="round"/><path d="M369.50,224.40 C369.50,226.37 368.67,228.73 367.40,230.32 C366.13,231.92 363.95,233.38 361.90,233.99 C359.85,234.60 357.15,234.60 355.10,233.99 C353.05,233.38 350.87,231.92 349.60,230.32 C348.33,228.73 347.50,226.37 347.50,224.40 C347.50,222.43 348.33,220.07 349.60,218.48 C350.87,216.88 353.05,215.42 355.10,214.81 C357.15,214.20 359.85,214.20 361.90,214.81 C363.95,215.42 366.13,216.88 367.40,218.48 C368.67,220.07 369.50,222.43 369.50,224.40Z" fill="#9058b8" opacity="1.0" stroke="#9058b8" stroke-width="2.2" stroke-linejoin="round"/><path d="M370.00,225.36 C370.00,226.30 369.70,227.42 369.24,228.18 C368.78,228.94 367.98,229.63 367.24,229.93 C366.49,230.22 365.51,230.22 364.76,229.93 C364.02,229.63 363.22,228.94 362.76,228.18 C362.30,227.42 362.00,226.30 362.00,225.36 C362.00,224.42 362.30,223.30 362.76,222.54 C363.22,221.78 364.02,221.09 364.76,220.79 C365.51,220.50 366.49,220.50 367.24,220.79 C367.98,221.09 368.78,221.78 369.24,222.54 C369.70,223.30 370.00,224.42 370.00,225.36Z" fill="#a85aa8" opacity="0.9" stroke="#a85aa8" stroke-width="2.2" stroke-linejoin="round"/><path d="M370.20,205.68 C370.20,206.58 369.81,207.66 369.21,208.39 C368.61,209.12 367.58,209.78 366.61,210.06 C365.64,210.34 364.36,210.34 363.39,210.06 C362.42,209.78 361.39,209.12 360.79,208.39 C360.19,207.66 359.80,206.58 359.80,205.68 C359.80,204.78 360.19,203.70 360.79,202.97 C361.39,202.24 362.42,201.58 363.39,201.30 C364.36,201.02 365.64,201.02 366.61,201.30 C367.58,201.58 368.61,202.24 369.21,202.97 C369.81,203.70 370.20,204.78 370.20,205.68Z" fill="#f0e040" opacity="0.45" stroke="#f0e040" stroke-width="2.2" stroke-linejoin="round"/><path d="M338.20,193.58 C340.22,192.06 346.00,191.81 348.90,192.24 C351.80,192.67 354.03,194.22 355.60,196.18 C357.17,198.13 358.07,201.38 358.30,203.95 C358.53,206.53 358.12,209.49 357.00,211.63 C355.88,213.78 353.40,215.52 351.60,216.82 C349.80,218.11 347.77,219.41 346.20,219.41 C344.63,219.41 343.32,218.54 342.20,216.82 C341.08,215.09 340.40,211.62 339.50,209.04 C338.60,206.46 337.02,203.94 336.80,201.36 C336.58,198.78 336.18,195.10 338.20,193.58Z" fill="#f2a020" opacity="1.0" stroke="#f2a020" stroke-width="2.2" stroke-linejoin="round"/><path d="M334.00,174.96 C335.25,173.68 338.67,174.00 341.00,174.00 C343.33,174.00 346.00,174.40 348.00,174.96 C350.00,175.52 351.83,176.24 353.00,177.36 C354.17,178.48 354.75,180.00 355.00,181.68 C355.25,183.36 355.00,185.76 354.50,187.44 C354.00,189.12 353.58,190.80 352.00,191.76 C350.42,192.72 347.33,193.12 345.00,193.20 C342.67,193.28 339.75,193.04 338.00,192.24 C336.25,191.44 335.25,190.16 334.50,188.40 C333.75,186.64 333.58,183.92 333.50,181.68 C333.42,179.44 332.75,176.24 334.00,174.96Z" fill="#c86062" opacity="1.0" stroke="#c86062" stroke-width="2.2" stroke-linejoin="round"/><path d="M333.00,170.16 C333.75,169.12 334.83,168.27 336.00,167.76 C337.17,167.25 338.67,167.01 340.00,167.09 C341.33,167.17 342.67,167.57 344.00,168.24 C345.33,168.91 347.17,170.16 348.00,171.12 C348.83,172.08 349.50,173.28 349.00,174.00 C348.50,174.72 346.67,175.28 345.00,175.44 C343.33,175.60 340.83,174.96 339.00,174.96 C337.17,174.96 335.25,175.60 334.00,175.44 C332.75,175.28 331.67,174.88 331.50,174.00 C331.33,173.12 332.25,171.20 333.00,170.16Z" fill="#4e9e48" opacity="1.0" stroke="#4e9e48" stroke-width="2.2" stroke-linejoin="round"/><path d="M331.00,171.60 C332.33,171.87 334.83,172.80 335.50,174.48 C336.17,176.16 335.17,179.36 335.00,181.68 C334.83,184.00 335.08,186.40 334.50,188.40 C333.92,190.40 333.08,192.16 331.50,193.68 C329.92,195.20 327.25,196.40 325.00,197.52 C322.75,198.64 320.00,199.60 318.00,200.40 C316.00,201.20 314.58,202.24 313.00,202.32 C311.42,202.40 308.92,201.84 308.50,200.88 C308.08,199.92 309.50,197.92 310.50,196.56 C311.50,195.20 313.17,194.16 314.50,192.72 C315.83,191.28 317.33,189.68 318.50,187.92 C319.67,186.16 320.50,184.08 321.50,182.16 C322.50,180.24 323.50,177.95 324.50,176.40 C325.50,174.85 326.42,173.65 327.50,172.85 C328.58,172.05 329.67,171.33 331.00,171.60Z" fill="#4a72b0" opacity="1.0" stroke="#4a72b0" stroke-width="2.2" stroke-linejoin="round"/><path d="M358.40,178.61 C358.40,179.06 358.20,179.60 357.90,179.96 C357.60,180.33 357.09,180.66 356.60,180.80 C356.12,180.94 355.48,180.94 355.00,180.80 C354.51,180.66 354.00,180.33 353.70,179.96 C353.40,179.60 353.20,179.06 353.20,178.61 C353.20,178.16 353.40,177.62 353.70,177.25 C354.00,176.89 354.51,176.56 355.00,176.42 C355.48,176.28 356.12,176.28 356.60,176.42 C357.09,176.56 357.60,176.89 357.90,177.25 C358.20,177.62 358.40,178.16 358.40,178.61Z" fill="#5e5e5e" opacity="1.0" stroke="#5e5e5e" stroke-width="2.2" stroke-linejoin="round"/><path d="M302.50,199.63 C303.73,198.34 307.30,198.85 309.20,198.96 C311.10,199.07 313.00,199.44 313.90,200.30 C314.80,201.17 314.93,202.96 314.60,204.14 C314.27,205.33 313.25,206.75 311.90,207.41 C310.55,208.06 308.18,208.19 306.50,208.08 C304.82,207.97 302.47,208.14 301.80,206.74 C301.13,205.33 301.27,200.93 302.50,199.63Z" fill="#8e3a5a" opacity="1.0" stroke="#8e3a5a" stroke-width="2.2" stroke-linejoin="round"/><path d="M295.70,199.63 C297.08,198.45 299.75,198.27 301.10,198.38 C302.45,198.50 303.23,198.91 303.80,200.30 C304.37,201.70 304.72,204.80 304.50,206.74 C304.28,208.67 303.52,210.85 302.50,211.92 C301.48,212.99 299.75,213.39 298.40,213.17 C297.05,212.94 295.33,211.86 294.40,210.58 C293.47,209.30 292.58,207.31 292.80,205.49 C293.02,203.66 294.32,200.82 295.70,199.63Z" fill="#d42a2a" opacity="1.0" stroke="#d42a2a" stroke-width="2.2" stroke-linejoin="round"/><path d="M298.40,214.51 C299.52,212.90 302.00,213.63 303.80,213.84 C305.60,214.05 307.85,214.58 309.20,215.76 C310.55,216.94 311.68,219.22 311.90,220.94 C312.12,222.67 311.62,224.83 310.50,226.13 C309.38,227.42 306.98,228.29 305.20,228.72 C303.42,229.15 301.15,229.58 299.80,228.72 C298.45,227.86 297.33,225.90 297.10,223.54 C296.87,221.17 297.28,216.13 298.40,214.51Z" fill="#e8742a" opacity="1.0" stroke="#e8742a" stroke-width="2.2" stroke-linejoin="round"/><path d="M338.00,200.40 C338.00,201.11 337.55,201.97 336.85,202.54 C336.16,203.12 334.97,203.65 333.85,203.87 C332.74,204.09 331.26,204.09 330.15,203.87 C329.03,203.65 327.84,203.12 327.15,202.54 C326.45,201.97 326.00,201.11 326.00,200.40 C326.00,199.69 326.45,198.83 327.15,198.26 C327.84,197.68 329.03,197.15 330.15,196.93 C331.26,196.71 332.74,196.71 333.85,196.93 C334.97,197.15 336.16,197.68 336.85,198.26 C337.55,198.83 338.00,199.69 338.00,200.40Z" fill="#4aa890" opacity="1.0" stroke="#4aa890" stroke-width="2.2" stroke-linejoin="round"/><path d="M334.85,208.37 C335.15,207.89 336.30,207.41 336.95,207.79 C337.60,208.18 338.20,209.57 338.75,210.67 C339.30,211.78 340.05,213.36 340.25,214.42 C340.45,215.47 340.25,216.62 339.95,217.01 C339.65,217.39 339.00,217.30 338.45,216.72 C337.90,216.14 337.20,214.56 336.65,213.55 C336.10,212.54 335.45,211.54 335.15,210.67 C334.85,209.81 334.55,208.85 334.85,208.37Z" fill="#2a8aa8" opacity="0.9" stroke="#2a8aa8" stroke-width="2.2" stroke-linejoin="round"/><path d="M336.12,229.50 C337.18,227.46 339.66,225.55 341.22,224.60 C342.78,223.65 344.19,223.24 345.47,223.78 C346.74,224.33 348.23,226.10 348.87,227.86 C349.50,229.63 349.57,232.22 349.29,234.39 C349.01,236.57 348.37,239.29 347.17,240.92 C345.96,242.55 343.77,243.84 342.07,244.18 C340.37,244.52 338.17,244.18 336.97,242.96 C335.76,241.74 334.98,239.08 334.84,236.84 C334.70,234.60 335.05,231.54 336.12,229.50Z" fill="#f4d020" opacity="1.0" stroke="#f4d020" stroke-width="2.2" stroke-linejoin="round"/><path d="M365.25,249.10 C365.75,248.54 367.06,248.14 367.88,248.09 C368.69,248.03 369.66,248.26 370.15,248.76 C370.65,249.26 370.88,250.30 370.85,251.11 C370.82,251.92 370.50,253.04 369.98,253.63 C369.45,254.22 368.40,254.67 367.70,254.64 C367.00,254.61 366.24,254.00 365.78,253.46 C365.31,252.93 364.99,252.18 364.90,251.45 C364.82,250.72 364.76,249.66 365.25,249.10Z" fill="#dcc030" opacity="0.8" stroke="#dcc030" stroke-width="2.2" stroke-linejoin="round"/></g>
<circle cx="355.7" cy="243.1" r="0.68" fill="#c0703c" fill-opacity="0.69"/><circle cx="356.9" cy="243.7" r="0.46" fill="#c0703c" fill-opacity="0.70"/><circle cx="359.7" cy="248.4" r="0.43" fill="#c0703c" fill-opacity="0.62"/><circle cx="360.2" cy="244.3" r="0.45" fill="#c0703c" fill-opacity="0.51"/><circle cx="349.8" cy="235.7" r="0.41" fill="#c0703c" fill-opacity="0.69"/><circle cx="355.4" cy="249.6" r="0.56" fill="#c0703c" fill-opacity="0.76"/><circle cx="356.7" cy="245.4" r="0.54" fill="#c0703c" fill-opacity="0.61"/><circle cx="364.4" cy="246.5" r="0.49" fill="#c0703c" fill-opacity="0.59"/><circle cx="362.7" cy="239.4" r="0.65" fill="#c0703c" fill-opacity="0.65"/><circle cx="348.2" cy="235.8" r="0.43" fill="#c0703c" fill-opacity="0.52"/><circle cx="358.1" cy="240.5" r="0.46" fill="#c0703c" fill-opacity="0.79"/><circle cx="348.1" cy="239.9" r="0.46" fill="#c0703c" fill-opacity="0.61"/><circle cx="350.2" cy="239.2" r="0.66" fill="#c0703c" fill-opacity="0.76"/><circle cx="350.3" cy="236.1" r="0.63" fill="#c0703c" fill-opacity="0.63"/><circle cx="351.0" cy="244.0" r="0.51" fill="#c0703c" fill-opacity="0.68"/><circle cx="358.4" cy="250.1" r="0.45" fill="#c0703c" fill-opacity="0.56"/><circle cx="351.1" cy="234.5" r="0.62" fill="#c0703c" fill-opacity="0.88"/><circle cx="365.3" cy="244.1" r="0.53" fill="#c0703c" fill-opacity="0.54"/><circle cx="358.9" cy="236.9" r="0.45" fill="#c0703c" fill-opacity="0.79"/><circle cx="358.1" cy="249.8" r="0.58" fill="#c0703c" fill-opacity="0.61"/><circle cx="349.5" cy="238.7" r="0.57" fill="#c0703c" fill-opacity="0.55"/><circle cx="361.1" cy="243.6" r="0.44" fill="#c0703c" fill-opacity="0.51"/><circle cx="356.4" cy="247.0" r="0.50" fill="#c0703c" fill-opacity="0.90"/><circle cx="362.1" cy="246.4" r="0.64" fill="#c0703c" fill-opacity="0.87"/><circle cx="353.4" cy="245.9" r="0.67" fill="#c0703c" fill-opacity="0.85"/><circle cx="354.9" cy="248.4" r="0.66" fill="#c0703c" fill-opacity="0.73"/><circle cx="359.6" cy="239.0" r="0.57" fill="#c0703c" fill-opacity="0.74"/><circle cx="361.9" cy="239.1" r="0.62" fill="#c0703c" fill-opacity="0.73"/><circle cx="355.4" cy="249.5" r="0.43" fill="#c0703c" fill-opacity="0.80"/><circle cx="356.3" cy="235.5" r="0.61" fill="#c0703c" fill-opacity="0.70"/><circle cx="352.3" cy="245.8" r="0.46" fill="#c0703c" fill-opacity="0.57"/><circle cx="352.9" cy="245.5" r="0.46" fill="#c0703c" fill-opacity="0.67"/><circle cx="358.6" cy="237.5" r="0.44" fill="#c0703c" fill-opacity="0.70"/><circle cx="351.7" cy="234.1" r="0.54" fill="#c0703c" fill-opacity="0.61"/><circle cx="350.3" cy="239.7" r="0.59" fill="#c0703c" fill-opacity="0.70"/><circle cx="361.4" cy="243.3" r="0.49" fill="#c0703c" fill-opacity="0.82"/><circle cx="359.7" cy="240.4" r="0.59" fill="#c0703c" fill-opacity="0.76"/><circle cx="356.2" cy="234.3" r="0.40" fill="#c0703c" fill-opacity="0.69"/><circle cx="351.6" cy="238.1" r="0.61" fill="#c0703c" fill-opacity="0.71"/><circle cx="359.3" cy="247.6" r="0.52" fill="#c0703c" fill-opacity="0.82"/><circle cx="348.4" cy="240.6" r="0.59" fill="#c0703c" fill-opacity="0.86"/><circle cx="354.0" cy="243.3" r="0.66" fill="#c0703c" fill-opacity="0.82"/><circle cx="360.2" cy="234.9" r="0.62" fill="#c0703c" fill-opacity="0.83"/><circle cx="359.9" cy="246.7" r="0.46" fill="#c0703c" fill-opacity="0.86"/><circle cx="357.6" cy="248.4" r="0.50" fill="#c0703c" fill-opacity="0.86"/><circle cx="333.1" cy="244.6" r="0.55" fill="#e084b4" fill-opacity="0.51"/><circle cx="330.4" cy="244.9" r="0.44" fill="#e084b4" fill-opacity="0.56"/><circle cx="332.7" cy="243.9" r="0.65" fill="#e084b4" fill-opacity="0.78"/><circle cx="328.9" cy="240.5" r="0.49" fill="#e084b4" fill-opacity="0.79"/><circle cx="334.2" cy="240.5" r="0.65" fill="#e084b4" fill-opacity="0.72"/><circle cx="330.1" cy="238.1" r="0.65" fill="#e084b4" fill-opacity="0.86"/><circle cx="333.4" cy="235.1" r="0.56" fill="#e084b4" fill-opacity="0.70"/><circle cx="331.2" cy="245.2" r="0.57" fill="#e084b4" fill-opacity="0.70"/><circle cx="332.9" cy="238.6" r="0.69" fill="#e084b4" fill-opacity="0.87"/><circle cx="329.5" cy="239.6" r="0.44" fill="#e084b4" fill-opacity="0.67"/><circle cx="332.2" cy="237.0" r="0.46" fill="#e084b4" fill-opacity="0.75"/><circle cx="334.8" cy="237.1" r="0.51" fill="#e084b4" fill-opacity="0.75"/><circle cx="329.3" cy="235.0" r="0.56" fill="#e084b4" fill-opacity="0.67"/><circle cx="330.9" cy="238.6" r="0.56" fill="#e084b4" fill-opacity="0.56"/><circle cx="328.7" cy="242.3" r="0.59" fill="#e084b4" fill-opacity="0.71"/><circle cx="335.5" cy="245.3" r="0.67" fill="#e084b4" fill-opacity="0.63"/><circle cx="329.1" cy="243.9" r="0.48" fill="#e084b4" fill-opacity="0.54"/><circle cx="331.2" cy="243.2" r="0.41" fill="#e084b4" fill-opacity="0.58"/><circle cx="332.5" cy="244.4" r="0.55" fill="#e084b4" fill-opacity="0.77"/><circle cx="333.1" cy="240.3" r="0.57" fill="#e084b4" fill-opacity="0.56"/><circle cx="332.0" cy="244.5" r="0.50" fill="#e084b4" fill-opacity="0.69"/><circle cx="332.6" cy="238.9" r="0.58" fill="#e084b4" fill-opacity="0.51"/><circle cx="335.0" cy="245.9" r="0.45" fill="#e084b4" fill-opacity="0.68"/><circle cx="335.5" cy="238.5" r="0.46" fill="#e084b4" fill-opacity="0.57"/><circle cx="335.0" cy="246.2" r="0.59" fill="#e084b4" fill-opacity="0.66"/><circle cx="333.7" cy="240.2" r="0.69" fill="#e084b4" fill-opacity="0.82"/><circle cx="335.6" cy="244.8" r="0.64" fill="#e084b4" fill-opacity="0.66"/><circle cx="334.9" cy="244.6" r="0.63" fill="#e084b4" fill-opacity="0.66"/><circle cx="330.4" cy="239.6" r="0.40" fill="#e084b4" fill-opacity="0.64"/><circle cx="334.2" cy="242.2" r="0.47" fill="#e084b4" fill-opacity="0.88"/><circle cx="374.9" cy="203.3" r="0.60" fill="#c892b8" fill-opacity="0.73"/><circle cx="371.1" cy="205.3" r="0.70" fill="#c892b8" fill-opacity="0.76"/><circle cx="375.9" cy="219.6" r="0.69" fill="#c892b8" fill-opacity="0.51"/><circle cx="373.4" cy="218.7" r="0.48" fill="#c892b8" fill-opacity="0.66"/><circle cx="371.5" cy="209.8" r="0.69" fill="#c892b8" fill-opacity="0.73"/><circle cx="379.0" cy="193.2" r="0.58" fill="#c892b8" fill-opacity="0.80"/><circle cx="370.9" cy="213.3" r="0.51" fill="#c892b8" fill-opacity="0.61"/><circle cx="374.6" cy="211.8" r="0.49" fill="#c892b8" fill-opacity="0.79"/><circle cx="368.1" cy="208.7" r="0.69" fill="#c892b8" fill-opacity="0.60"/><circle cx="376.5" cy="208.3" r="0.69" fill="#c892b8" fill-opacity="0.83"/><circle cx="373.7" cy="207.8" r="0.46" fill="#c892b8" fill-opacity="0.52"/><circle cx="368.8" cy="200.4" r="0.57" fill="#c892b8" fill-opacity="0.67"/><circle cx="378.1" cy="210.7" r="0.70" fill="#c892b8" fill-opacity="0.88"/><circle cx="376.8" cy="199.5" r="0.43" fill="#c892b8" fill-opacity="0.86"/><circle cx="378.3" cy="214.3" r="0.51" fill="#c892b8" fill-opacity="0.61"/><circle cx="375.4" cy="212.0" r="0.58" fill="#c892b8" fill-opacity="0.75"/><circle cx="377.4" cy="197.6" r="0.47" fill="#c892b8" fill-opacity="0.89"/><circle cx="371.6" cy="214.6" r="0.51" fill="#c892b8" fill-opacity="0.69"/><circle cx="361.8" cy="203.5" r="0.62" fill="#c892b8" fill-opacity="0.84"/><circle cx="379.0" cy="214.3" r="0.63" fill="#c892b8" fill-opacity="0.59"/><circle cx="367.9" cy="200.2" r="0.64" fill="#c892b8" fill-opacity="0.65"/><circle cx="377.2" cy="225.7" r="0.53" fill="#c892b8" fill-opacity="0.65"/><circle cx="371.9" cy="208.9" r="0.61" fill="#c892b8" fill-opacity="0.62"/><circle cx="378.0" cy="193.2" r="0.46" fill="#c892b8" fill-opacity="0.76"/><circle cx="376.6" cy="217.0" r="0.48" fill="#c892b8" fill-opacity="0.56"/><circle cx="376.1" cy="212.2" r="0.68" fill="#c892b8" fill-opacity="0.88"/><circle cx="378.8" cy="202.0" r="0.50" fill="#c892b8" fill-opacity="0.66"/><circle cx="362.9" cy="204.2" r="0.51" fill="#c892b8" fill-opacity="0.65"/><circle cx="367.1" cy="205.2" r="0.46" fill="#c892b8" fill-opacity="0.73"/><circle cx="378.7" cy="211.1" r="0.65" fill="#c892b8" fill-opacity="0.73"/><circle cx="381.1" cy="201.1" r="0.41" fill="#c892b8" fill-opacity="0.71"/><circle cx="371.4" cy="212.1" r="0.69" fill="#c892b8" fill-opacity="0.76"/><circle cx="376.9" cy="224.8" r="0.43" fill="#c892b8" fill-opacity="0.75"/><circle cx="374.4" cy="199.7" r="0.47" fill="#c892b8" fill-opacity="0.81"/><circle cx="367.1" cy="203.3" r="0.69" fill="#c892b8" fill-opacity="0.77"/><circle cx="369.9" cy="211.0" r="0.62" fill="#c892b8" fill-opacity="0.78"/><circle cx="379.5" cy="215.9" r="0.66" fill="#c892b8" fill-opacity="0.82"/><circle cx="378.8" cy="206.5" r="0.53" fill="#c892b8" fill-opacity="0.56"/><circle cx="366.5" cy="196.8" r="0.46" fill="#c892b8" fill-opacity="0.67"/><circle cx="378.0" cy="197.2" r="0.42" fill="#c892b8" fill-opacity="0.68"/><circle cx="374.1" cy="250.6" r="0.41" fill="#c65448" fill-opacity="0.54"/><circle cx="365.2" cy="227.0" r="0.47" fill="#c65448" fill-opacity="0.79"/><circle cx="374.4" cy="227.2" r="0.46" fill="#c65448" fill-opacity="0.61"/><circle cx="368.0" cy="238.3" r="0.65" fill="#c65448" fill-opacity="0.69"/><circle cx="371.9" cy="227.1" r="0.41" fill="#c65448" fill-opacity="0.88"/><circle cx="379.0" cy="232.7" r="0.56" fill="#c65448" fill-opacity="0.71"/><circle cx="375.8" cy="227.7" r="0.40" fill="#c65448" fill-opacity="0.69"/><circle cx="369.4" cy="246.8" r="0.61" fill="#c65448" fill-opacity="0.74"/><circle cx="368.2" cy="228.4" r="0.66" fill="#c65448" fill-opacity="0.71"/><circle cx="367.0" cy="237.8" r="0.45" fill="#c65448" fill-opacity="0.81"/><circle cx="377.1" cy="222.9" r="0.54" fill="#c65448" fill-opacity="0.69"/><circle cx="378.8" cy="233.8" r="0.68" fill="#c65448" fill-opacity="0.54"/><circle cx="373.2" cy="237.5" r="0.45" fill="#c65448" fill-opacity="0.83"/><circle cx="368.0" cy="230.2" r="0.42" fill="#c65448" fill-opacity="0.62"/><circle cx="371.5" cy="244.0" r="0.51" fill="#c65448" fill-opacity="0.77"/><circle cx="363.4" cy="233.0" r="0.54" fill="#c65448" fill-opacity="0.89"/><circle cx="379.7" cy="241.9" r="0.40" fill="#c65448" fill-opacity="0.65"/><circle cx="377.0" cy="227.7" r="0.57" fill="#c65448" fill-opacity="0.68"/><circle cx="379.0" cy="226.6" r="0.58" fill="#c65448" fill-opacity="0.62"/><circle cx="369.5" cy="238.0" r="0.49" fill="#c65448" fill-opacity="0.63"/><circle cx="369.8" cy="242.3" r="0.48" fill="#c65448" fill-opacity="0.58"/><circle cx="377.5" cy="230.8" r="0.68" fill="#c65448" fill-opacity="0.73"/><circle cx="377.3" cy="230.9" r="0.65" fill="#c65448" fill-opacity="0.54"/><circle cx="376.2" cy="243.7" r="0.45" fill="#c65448" fill-opacity="0.66"/><circle cx="379.8" cy="239.8" r="0.43" fill="#c65448" fill-opacity="0.59"/><circle cx="368.2" cy="254.8" r="0.63" fill="#dcc030" fill-opacity="0.83"/><circle cx="365.6" cy="247.7" r="0.52" fill="#dcc030" fill-opacity="0.51"/><circle cx="365.9" cy="256.0" r="0.69" fill="#dcc030" fill-opacity="0.82"/><circle cx="371.4" cy="254.0" r="0.41" fill="#dcc030" fill-opacity="0.63"/><circle cx="364.7" cy="254.9" r="0.43" fill="#dcc030" fill-opacity="0.65"/><circle cx="368.2" cy="258.0" r="0.65" fill="#dcc030" fill-opacity="0.74"/><circle cx="364.9" cy="251.5" r="0.44" fill="#dcc030" fill-opacity="0.79"/><circle cx="370.7" cy="244.7" r="0.42" fill="#dcc030" fill-opacity="0.60"/><circle cx="369.6" cy="256.0" r="0.50" fill="#dcc030" fill-opacity="0.87"/><circle cx="365.1" cy="250.7" r="0.44" fill="#dcc030" fill-opacity="0.89"/><circle cx="368.9" cy="252.9" r="0.57" fill="#dcc030" fill-opacity="0.61"/><circle cx="374.7" cy="253.8" r="0.44" fill="#dcc030" fill-opacity="0.83"/><circle cx="362.6" cy="253.2" r="0.65" fill="#dcc030" fill-opacity="0.57"/><circle cx="371.3" cy="247.2" r="0.60" fill="#dcc030" fill-opacity="0.80"/><circle cx="365.5" cy="253.6" r="0.64" fill="#dcc030" fill-opacity="0.51"/><circle cx="361.7" cy="250.8" r="0.44" fill="#dcc030" fill-opacity="0.65"/><circle cx="369.5" cy="244.2" r="0.56" fill="#dcc030" fill-opacity="0.61"/><circle cx="369.4" cy="247.7" r="0.59" fill="#dcc030" fill-opacity="0.52"/><circle cx="371.6" cy="243.5" r="0.69" fill="#dcc030" fill-opacity="0.74"/><circle cx="367.4" cy="249.5" r="0.59" fill="#dcc030" fill-opacity="0.78"/><circle cx="373.4" cy="257.2" r="0.55" fill="#dcc030" fill-opacity="0.90"/><circle cx="366.1" cy="250.0" r="0.57" fill="#dcc030" fill-opacity="0.86"/><circle cx="368.5" cy="252.1" r="0.53" fill="#dcc030" fill-opacity="0.86"/><circle cx="372.9" cy="253.7" r="0.63" fill="#dcc030" fill-opacity="0.62"/><circle cx="360.1" cy="250.3" r="0.55" fill="#dcc030" fill-opacity="0.66"/>
<text x="339.40" y="173.71" font-size="6.4" fill="#1a1a1a" text-anchor="middle" font-weight="normal" stroke="#1a1a1a" stroke-width="0.16" >14</text>
<text x="342.60" y="185.23" font-size="6.4" fill="#1a1a1a" text-anchor="middle" font-weight="normal" stroke="#1a1a1a" stroke-width="0.16" >0</text>
<text x="355.30" y="181.10" font-size="6.4" fill="#1a1a1a" text-anchor="middle" font-weight="normal" stroke="#1a1a1a" stroke-width="0.16" >18</text>
<text x="328.80" y="187.24" font-size="6.4" fill="#1a1a1a" text-anchor="middle" font-weight="normal" stroke="#1a1a1a" stroke-width="0.16" >7</text>
<text x="297.00" y="209.61" font-size="6.4" fill="#1a1a1a" text-anchor="middle" font-weight="normal" stroke="#1a1a1a" stroke-width="0.16" >10</text>
<text x="306.60" y="206.06" font-size="6.4" fill="#1a1a1a" text-anchor="middle" font-weight="normal" stroke="#1a1a1a" stroke-width="0.16" >13</text>
<text x="302.40" y="225.84" font-size="6.4" fill="#1a1a1a" text-anchor="middle" font-weight="normal" stroke="#1a1a1a" stroke-width="0.16" >9</text>
<text x="332.40" y="202.51" font-size="6.4" fill="#1a1a1a" text-anchor="middle" font-weight="normal" stroke="#1a1a1a" stroke-width="0.16" >19</text>
<text x="321.30" y="207.40" font-size="6.4" fill="#1a1a1a" text-anchor="middle" font-weight="normal" stroke="#1a1a1a" stroke-width="0.16" >12</text>
<text x="347.90" y="207.60" font-size="6.4" fill="#1a1a1a" text-anchor="middle" font-weight="normal" stroke="#1a1a1a" stroke-width="0.16" >1</text>
<text x="360.40" y="213.50" font-size="6.4" fill="#1a1a1a" text-anchor="middle" font-weight="normal" stroke="#1a1a1a" stroke-width="0.16" >16</text>
<text x="368.40" y="202.50" font-size="6.4" fill="#1a1a1a" text-anchor="middle" font-weight="normal" stroke="#1a1a1a" stroke-width="0.16" >4</text>
<text x="357.80" y="222.86" font-size="6.4" fill="#1a1a1a" text-anchor="middle" font-weight="normal" stroke="#1a1a1a" stroke-width="0.16" >2</text>
<text x="365.80" y="226.51" font-size="6.4" fill="#1a1a1a" text-anchor="middle" font-weight="normal" stroke="#1a1a1a" stroke-width="0.16" >20</text>
<text x="372.40" y="242.30" font-size="6.4" fill="#1a1a1a" text-anchor="middle" font-weight="normal" stroke="#1a1a1a" stroke-width="0.16" >5</text>
<text x="345.20" y="235.90" font-size="6.4" fill="#1a1a1a" text-anchor="middle" font-weight="normal" stroke="#1a1a1a" stroke-width="0.16" >6</text>
<text x="333.90" y="244.40" font-size="6.4" fill="#1a1a1a" text-anchor="middle" font-weight="normal" stroke="#1a1a1a" stroke-width="0.16" >11</text>
<text x="359.30" y="243.70" font-size="6.4" fill="#1a1a1a" text-anchor="middle" font-weight="normal" stroke="#1a1a1a" stroke-width="0.16" >8</text>
<text x="369.90" y="251.60" font-size="6.4" fill="#1a1a1a" text-anchor="middle" font-weight="normal" stroke="#1a1a1a" stroke-width="0.16" >3</text>
<text x="387.90" y="250.10" font-size="6.4" fill="#1a1a1a" text-anchor="middle" font-weight="normal" stroke="#1a1a1a" stroke-width="0.16" >17</text>
<circle cx="423.2" cy="227.7" r="0.53" fill="#a8bcd8" fill-opacity="0.75"/><circle cx="430.8" cy="228.7" r="0.30" fill="#e8c890" fill-opacity="0.75"/><circle cx="442.4" cy="219.4" r="0.35" fill="#e0b0b0" fill-opacity="0.75"/><circle cx="438.6" cy="227.6" r="0.42" fill="#e8c890" fill-opacity="0.75"/><circle cx="436.1" cy="216.3" r="0.34" fill="#e8c890" fill-opacity="0.75"/><circle cx="445.3" cy="223.2" r="0.47" fill="#e0b0b0" fill-opacity="0.75"/><circle cx="417.6" cy="233.8" r="0.31" fill="#e8c890" fill-opacity="0.75"/><circle cx="440.6" cy="235.7" r="0.42" fill="#a8bcd8" fill-opacity="0.75"/><circle cx="438.6" cy="237.3" r="0.50" fill="#e8c890" fill-opacity="0.75"/><circle cx="429.3" cy="233.0" r="0.41" fill="#e8c890" fill-opacity="0.75"/><circle cx="445.6" cy="237.3" r="0.31" fill="#e0b0b0" fill-opacity="0.75"/><circle cx="431.4" cy="219.4" r="0.41" fill="#e8c890" fill-opacity="0.75"/><circle cx="435.7" cy="220.7" r="0.51" fill="#e8c890" fill-opacity="0.75"/><circle cx="434.0" cy="227.4" r="0.45" fill="#a8bcd8" fill-opacity="0.75"/><circle cx="444.6" cy="231.6" r="0.51" fill="#e0b0b0" fill-opacity="0.75"/><circle cx="447.4" cy="231.3" r="0.47" fill="#e0b0b0" fill-opacity="0.75"/><circle cx="426.0" cy="227.6" r="0.44" fill="#e8c890" fill-opacity="0.75"/><circle cx="438.5" cy="218.1" r="0.37" fill="#e8c890" fill-opacity="0.75"/><circle cx="419.5" cy="225.9" r="0.55" fill="#e8c890" fill-opacity="0.75"/><circle cx="418.4" cy="235.1" r="0.52" fill="#a8bcd8" fill-opacity="0.75"/><circle cx="416.2" cy="224.3" r="0.52" fill="#a8bcd8" fill-opacity="0.75"/><circle cx="417.0" cy="229.7" r="0.39" fill="#e0b0b0" fill-opacity="0.75"/><circle cx="434.4" cy="227.9" r="0.43" fill="#a8bcd8" fill-opacity="0.75"/><circle cx="447.6" cy="220.9" r="0.33" fill="#e0b0b0" fill-opacity="0.75"/><circle cx="432.7" cy="239.3" r="0.37" fill="#a8bcd8" fill-opacity="0.75"/><circle cx="424.0" cy="231.9" r="0.38" fill="#a8bcd8" fill-opacity="0.75"/><circle cx="446.3" cy="237.8" r="0.39" fill="#a8bcd8" fill-opacity="0.75"/><circle cx="443.5" cy="223.1" r="0.47" fill="#e8c890" fill-opacity="0.75"/><circle cx="418.8" cy="240.0" r="0.37" fill="#e8c890" fill-opacity="0.75"/><circle cx="435.9" cy="232.6" r="0.41" fill="#a8bcd8" fill-opacity="0.75"/><circle cx="423.8" cy="220.7" r="0.30" fill="#a8bcd8" fill-opacity="0.75"/><circle cx="428.9" cy="228.7" r="0.39" fill="#e0b0b0" fill-opacity="0.75"/><circle cx="434.5" cy="215.8" r="0.46" fill="#e8c890" fill-opacity="0.75"/><circle cx="430.5" cy="231.6" r="0.45" fill="#a8bcd8" fill-opacity="0.75"/><circle cx="424.5" cy="226.1" r="0.32" fill="#e8c890" fill-opacity="0.75"/><circle cx="437.3" cy="239.8" r="0.46" fill="#a8bcd8" fill-opacity="0.75"/><circle cx="425.1" cy="229.3" r="0.39" fill="#e0b0b0" fill-opacity="0.75"/><circle cx="425.6" cy="222.6" r="0.37" fill="#e8c890" fill-opacity="0.75"/><circle cx="440.8" cy="215.0" r="0.54" fill="#e0b0b0" fill-opacity="0.75"/><circle cx="437.5" cy="215.8" r="0.36" fill="#e8c890" fill-opacity="0.75"/><circle cx="441.4" cy="218.9" r="0.47" fill="#e0b0b0" fill-opacity="0.75"/><circle cx="436.4" cy="214.8" r="0.38" fill="#e8c890" fill-opacity="0.75"/><circle cx="426.3" cy="236.0" r="0.50" fill="#a8bcd8" fill-opacity="0.75"/><circle cx="446.4" cy="214.3" r="0.46" fill="#e8c890" fill-opacity="0.75"/><circle cx="444.0" cy="225.0" r="0.50" fill="#e0b0b0" fill-opacity="0.75"/><circle cx="416.6" cy="239.6" r="0.50" fill="#a8bcd8" fill-opacity="0.75"/><circle cx="442.5" cy="217.3" r="0.39" fill="#a8bcd8" fill-opacity="0.75"/><circle cx="442.1" cy="214.4" r="0.39" fill="#e8c890" fill-opacity="0.75"/><circle cx="419.7" cy="220.4" r="0.42" fill="#a8bcd8" fill-opacity="0.75"/><circle cx="435.9" cy="220.3" r="0.40" fill="#e8c890" fill-opacity="0.75"/>
<g filter="url(#r3)" opacity="0.35"><path d="M469.48,198.99 C472.22,198.07 477.70,197.14 480.93,196.21 C484.15,195.28 487.17,192.52 488.85,193.43 C490.52,194.34 490.90,198.24 490.99,201.67 C491.07,205.10 489.83,209.91 489.38,214.03 C488.93,218.15 488.67,223.64 488.31,226.39 C487.95,229.14 488.49,230.00 487.24,230.51 C485.99,231.02 482.34,231.71 480.82,229.48 C479.30,227.25 479.07,219.88 478.14,217.12 C477.22,214.36 476.70,214.53 475.26,212.90 C473.81,211.27 471.28,209.19 469.48,207.34 C467.68,205.48 464.45,203.16 464.45,201.77 C464.45,200.38 466.73,199.92 469.48,198.99Z" fill="#c892b8" stroke="#c892b8" stroke-width="4.6" stroke-linejoin="round"/><path d="M470.12,230.51 C471.19,227.94 474.40,227.33 476.54,226.39 C478.68,225.45 481.18,224.84 482.96,224.84 C484.74,224.84 486.26,224.42 487.24,226.39 C488.22,228.36 488.40,233.08 488.85,236.69 C489.29,240.30 490.18,244.76 489.92,248.02 C489.65,251.28 488.76,254.71 487.24,256.26 C485.72,257.81 482.78,258.32 480.82,257.29 C478.86,256.26 477.25,252.65 475.47,250.08 C473.69,247.50 471.01,245.10 470.12,241.84 C469.23,238.58 469.05,233.08 470.12,230.51Z" fill="#c65448" stroke="#c65448" stroke-width="4.6" stroke-linejoin="round"/><path d="M477.07,227.94 C477.07,230.05 476.18,232.58 474.83,234.29 C473.47,236.01 471.14,237.57 468.94,238.22 C466.75,238.88 463.86,238.88 461.67,238.22 C459.47,237.57 457.14,236.01 455.78,234.29 C454.43,232.58 453.54,230.05 453.54,227.94 C453.54,225.82 454.43,223.29 455.78,221.58 C457.14,219.86 459.47,218.30 461.67,217.65 C463.86,216.99 466.75,216.99 468.94,217.65 C471.14,218.30 473.47,219.86 474.83,221.58 C476.18,223.29 477.07,225.82 477.07,227.94Z" fill="#9058b8" stroke="#9058b8" stroke-width="4.6" stroke-linejoin="round"/><path d="M477.61,228.97 C477.61,229.97 477.29,231.18 476.79,231.99 C476.30,232.81 475.45,233.55 474.65,233.86 C473.86,234.17 472.80,234.17 472.01,233.86 C471.21,233.55 470.36,232.81 469.87,231.99 C469.37,231.18 469.05,229.97 469.05,228.97 C469.05,227.96 469.37,226.75 469.87,225.94 C470.36,225.12 471.21,224.38 472.01,224.07 C472.80,223.76 473.86,223.76 474.65,224.07 C475.45,224.38 476.30,225.12 476.79,225.94 C477.29,226.75 477.61,227.96 477.61,228.97Z" fill="#a85aa8" stroke="#a85aa8" stroke-width="4.6" stroke-linejoin="round"/><path d="M479.21,207.85 C479.21,209.06 478.69,210.50 477.89,211.48 C477.09,212.46 475.71,213.35 474.41,213.73 C473.11,214.10 471.41,214.10 470.11,213.73 C468.81,213.35 467.43,212.46 466.63,211.48 C465.83,210.50 465.31,209.06 465.31,207.85 C465.31,206.64 465.83,205.20 466.63,204.22 C467.43,203.24 468.81,202.35 470.11,201.97 C471.41,201.60 473.11,201.60 474.41,201.97 C475.71,202.35 477.09,203.24 477.89,204.22 C478.69,205.20 479.21,206.64 479.21,207.85Z" fill="#f0e040" stroke="#f0e040" stroke-width="4.6" stroke-linejoin="round"/><path d="M443.58,194.87 C445.74,193.24 451.93,192.97 455.03,193.43 C458.14,193.89 460.53,195.56 462.20,197.65 C463.88,199.75 464.84,203.23 465.09,206.00 C465.34,208.76 464.89,211.94 463.70,214.24 C462.51,216.54 459.85,218.41 457.92,219.80 C456.00,221.19 453.82,222.58 452.14,222.58 C450.47,222.58 449.06,221.65 447.86,219.80 C446.67,217.94 445.94,214.22 444.98,211.46 C444.01,208.69 442.32,205.98 442.09,203.22 C441.85,200.45 441.43,196.50 443.58,194.87Z" fill="#f2a020" stroke="#f2a020" stroke-width="4.6" stroke-linejoin="round"/><path d="M439.09,174.89 C440.43,173.52 444.08,173.86 446.58,173.86 C449.08,173.86 451.93,174.29 454.07,174.89 C456.21,175.49 458.17,176.26 459.42,177.47 C460.67,178.67 461.29,180.30 461.56,182.10 C461.83,183.90 461.56,186.48 461.02,188.28 C460.49,190.08 460.04,191.88 458.35,192.91 C456.66,193.94 453.36,194.37 450.86,194.46 C448.36,194.55 445.24,194.29 443.37,193.43 C441.50,192.57 440.43,191.20 439.62,189.31 C438.82,187.42 438.64,184.50 438.56,182.10 C438.47,179.70 437.75,176.26 439.09,174.89Z" fill="#c86062" stroke="#c86062" stroke-width="4.6" stroke-linejoin="round"/><path d="M439.51,170.10 C440.15,169.20 441.08,168.48 442.08,168.04 C443.07,167.60 444.36,167.39 445.50,167.46 C446.64,167.53 447.78,167.87 448.92,168.45 C450.06,169.03 451.63,170.10 452.35,170.92 C453.06,171.74 453.63,172.77 453.20,173.39 C452.78,174.01 451.21,174.49 449.78,174.63 C448.35,174.77 446.21,174.22 444.64,174.22 C443.07,174.22 441.43,174.77 440.36,174.63 C439.29,174.49 438.37,174.15 438.22,173.39 C438.08,172.64 438.87,170.99 439.51,170.10Z" fill="#4e9e48" stroke="#4e9e48" stroke-width="4.6" stroke-linejoin="round"/><path d="M465.20,178.80 C465.20,179.29 464.99,179.87 464.67,180.26 C464.35,180.65 463.79,181.01 463.28,181.16 C462.76,181.30 462.07,181.30 461.56,181.16 C461.04,181.01 460.49,180.65 460.17,180.26 C459.84,179.87 459.63,179.29 459.63,178.80 C459.63,178.32 459.84,177.74 460.17,177.35 C460.49,176.96 461.04,176.60 461.56,176.45 C462.07,176.30 462.76,176.30 463.28,176.45 C463.79,176.60 464.35,176.96 464.67,177.35 C464.99,177.74 465.20,178.32 465.20,178.80Z" fill="#5e5e5e" stroke="#5e5e5e" stroke-width="4.6" stroke-linejoin="round"/><path d="M401.98,218.45 C402.99,216.98 405.25,217.65 406.89,217.84 C408.52,218.03 410.57,218.51 411.80,219.59 C413.03,220.67 414.06,222.74 414.25,224.32 C414.45,225.90 414.00,227.87 412.98,229.05 C411.96,230.23 409.78,231.02 408.16,231.41 C406.54,231.81 404.48,232.20 403.25,231.41 C402.02,230.62 401.00,228.84 400.79,226.68 C400.58,224.52 400.96,219.93 401.98,218.45Z" fill="#e8742a" stroke="#e8742a" stroke-width="4.6" stroke-linejoin="round"/><path d="M440.00,210.73 C440.32,210.22 441.55,209.70 442.25,210.12 C442.94,210.53 443.58,212.02 444.17,213.21 C444.76,214.39 445.56,216.09 445.78,217.22 C445.99,218.36 445.78,219.59 445.46,220.00 C445.14,220.42 444.44,220.31 443.85,219.69 C443.26,219.08 442.51,217.38 441.93,216.30 C441.34,215.21 440.64,214.13 440.32,213.21 C440.00,212.28 439.68,211.25 440.00,210.73Z" fill="#2a8aa8" stroke="#2a8aa8" stroke-width="4.6" stroke-linejoin="round"/><path d="M440.16,232.57 C441.50,230.00 444.62,227.59 446.58,226.39 C448.54,225.19 450.32,224.67 451.93,225.36 C453.54,226.05 455.41,228.28 456.21,230.51 C457.01,232.74 457.10,236.00 456.75,238.75 C456.39,241.50 455.59,244.93 454.07,246.99 C452.55,249.05 449.79,250.68 447.65,251.11 C445.51,251.54 442.75,251.11 441.23,249.56 C439.71,248.02 438.73,244.67 438.56,241.84 C438.38,239.01 438.82,235.14 440.16,232.57Z" fill="#f4d020" stroke="#f4d020" stroke-width="4.6" stroke-linejoin="round"/><path d="M433.42,239.26 C434.49,237.87 437.75,236.91 439.20,237.82 C440.64,238.73 441.84,242.41 442.09,244.72 C442.34,247.04 441.89,250.56 440.69,251.73 C439.50,252.90 436.24,252.66 434.92,251.73 C433.60,250.80 433.03,248.24 432.78,246.17 C432.53,244.09 432.35,240.66 433.42,239.26Z" fill="#e084b4" stroke="#e084b4" stroke-width="4.6" stroke-linejoin="round"/><path d="M453.54,238.75 C454.87,237.12 458.97,236.00 461.56,236.18 C464.15,236.35 467.09,237.98 469.05,239.78 C471.01,241.58 472.97,244.59 473.33,246.99 C473.69,249.39 472.62,252.57 471.19,254.20 C469.76,255.83 466.91,256.95 464.77,256.77 C462.63,256.60 460.22,254.97 458.35,253.17 C456.48,251.37 454.34,248.36 453.54,245.96 C452.73,243.56 452.20,240.38 453.54,238.75Z" fill="#c0703c" stroke="#c0703c" stroke-width="4.6" stroke-linejoin="round"/><path d="M467.44,250.08 C468.96,248.36 472.97,247.16 475.47,246.99 C477.97,246.82 480.91,247.51 482.43,249.05 C483.94,250.59 484.65,253.77 484.56,256.26 C484.48,258.75 483.50,262.18 481.89,263.99 C480.28,265.79 477.07,267.16 474.94,267.07 C472.80,266.99 470.48,265.10 469.05,263.47 C467.62,261.84 466.64,259.52 466.38,257.29 C466.11,255.06 465.93,251.80 467.44,250.08Z" fill="#dcc030" stroke="#dcc030" stroke-width="4.6" stroke-linejoin="round"/><path d="M496.55,250.59 C496.55,251.48 496.21,252.54 495.69,253.26 C495.17,253.98 494.28,254.63 493.44,254.91 C492.61,255.18 491.50,255.18 490.67,254.91 C489.83,254.63 488.94,253.98 488.42,253.26 C487.90,252.54 487.56,251.48 487.56,250.59 C487.56,249.71 487.90,248.65 488.42,247.93 C488.94,247.21 489.83,246.56 490.67,246.28 C491.50,246.01 492.61,246.01 493.44,246.28 C494.28,246.56 495.17,247.21 495.69,247.93 C496.21,248.65 496.55,249.71 496.55,250.59Z" fill="#989898" stroke="#989898" stroke-width="4.6" stroke-linejoin="round"/></g><g filter="url(#r3)"><path d="M469.48,198.99 C472.22,198.07 477.70,197.14 480.93,196.21 C484.15,195.28 487.17,192.52 488.85,193.43 C490.52,194.34 490.90,198.24 490.99,201.67 C491.07,205.10 489.83,209.91 489.38,214.03 C488.93,218.15 488.67,223.64 488.31,226.39 C487.95,229.14 488.49,230.00 487.24,230.51 C485.99,231.02 482.34,231.71 480.82,229.48 C479.30,227.25 479.07,219.88 478.14,217.12 C477.22,214.36 476.70,214.53 475.26,212.90 C473.81,211.27 471.28,209.19 469.48,207.34 C467.68,205.48 464.45,203.16 464.45,201.77 C464.45,200.38 466.73,199.92 469.48,198.99Z" fill="#c892b8" opacity="1.0" stroke="#c892b8" stroke-width="2.2" stroke-linejoin="round"/><path d="M470.12,230.51 C471.19,227.94 474.40,227.33 476.54,226.39 C478.68,225.45 481.18,224.84 482.96,224.84 C484.74,224.84 486.26,224.42 487.24,226.39 C488.22,228.36 488.40,233.08 488.85,236.69 C489.29,240.30 490.18,244.76 489.92,248.02 C489.65,251.28 488.76,254.71 487.24,256.26 C485.72,257.81 482.78,258.32 480.82,257.29 C478.86,256.26 477.25,252.65 475.47,250.08 C473.69,247.50 471.01,245.10 470.12,241.84 C469.23,238.58 469.05,233.08 470.12,230.51Z" fill="#c65448" opacity="1.0" stroke="#c65448" stroke-width="2.2" stroke-linejoin="round"/><path d="M477.07,227.94 C477.07,230.05 476.18,232.58 474.83,234.29 C473.47,236.01 471.14,237.57 468.94,238.22 C466.75,238.88 463.86,238.88 461.67,238.22 C459.47,237.57 457.14,236.01 455.78,234.29 C454.43,232.58 453.54,230.05 453.54,227.94 C453.54,225.82 454.43,223.29 455.78,221.58 C457.14,219.86 459.47,218.30 461.67,217.65 C463.86,216.99 466.75,216.99 468.94,217.65 C471.14,218.30 473.47,219.86 474.83,221.58 C476.18,223.29 477.07,225.82 477.07,227.94Z" fill="#9058b8" opacity="1.0" stroke="#9058b8" stroke-width="2.2" stroke-linejoin="round"/><path d="M477.61,228.97 C477.61,229.97 477.29,231.18 476.79,231.99 C476.30,232.81 475.45,233.55 474.65,233.86 C473.86,234.17 472.80,234.17 472.01,233.86 C471.21,233.55 470.36,232.81 469.87,231.99 C469.37,231.18 469.05,229.97 469.05,228.97 C469.05,227.96 469.37,226.75 469.87,225.94 C470.36,225.12 471.21,224.38 472.01,224.07 C472.80,223.76 473.86,223.76 474.65,224.07 C475.45,224.38 476.30,225.12 476.79,225.94 C477.29,226.75 477.61,227.96 477.61,228.97Z" fill="#a85aa8" opacity="1.0" stroke="#a85aa8" stroke-width="2.2" stroke-linejoin="round"/><path d="M479.21,207.85 C479.21,209.06 478.69,210.50 477.89,211.48 C477.09,212.46 475.71,213.35 474.41,213.73 C473.11,214.10 471.41,214.10 470.11,213.73 C468.81,213.35 467.43,212.46 466.63,211.48 C465.83,210.50 465.31,209.06 465.31,207.85 C465.31,206.64 465.83,205.20 466.63,204.22 C467.43,203.24 468.81,202.35 470.11,201.97 C471.41,201.60 473.11,201.60 474.41,201.97 C475.71,202.35 477.09,203.24 477.89,204.22 C478.69,205.20 479.21,206.64 479.21,207.85Z" fill="#f0e040" opacity="1.0" stroke="#f0e040" stroke-width="2.2" stroke-linejoin="round"/><path d="M443.58,194.87 C445.74,193.24 451.93,192.97 455.03,193.43 C458.14,193.89 460.53,195.56 462.20,197.65 C463.88,199.75 464.84,203.23 465.09,206.00 C465.34,208.76 464.89,211.94 463.70,214.24 C462.51,216.54 459.85,218.41 457.92,219.80 C456.00,221.19 453.82,222.58 452.14,222.58 C450.47,222.58 449.06,221.65 447.86,219.80 C446.67,217.94 445.94,214.22 444.98,211.46 C444.01,208.69 442.32,205.98 442.09,203.22 C441.85,200.45 441.43,196.50 443.58,194.87Z" fill="#f2a020" opacity="1.0" stroke="#f2a020" stroke-width="2.2" stroke-linejoin="round"/><path d="M439.09,174.89 C440.43,173.52 444.08,173.86 446.58,173.86 C449.08,173.86 451.93,174.29 454.07,174.89 C456.21,175.49 458.17,176.26 459.42,177.47 C460.67,178.67 461.29,180.30 461.56,182.10 C461.83,183.90 461.56,186.48 461.02,188.28 C460.49,190.08 460.04,191.88 458.35,192.91 C456.66,193.94 453.36,194.37 450.86,194.46 C448.36,194.55 445.24,194.29 443.37,193.43 C441.50,192.57 440.43,191.20 439.62,189.31 C438.82,187.42 438.64,184.50 438.56,182.10 C438.47,179.70 437.75,176.26 439.09,174.89Z" fill="#c86062" opacity="1.0" stroke="#c86062" stroke-width="2.2" stroke-linejoin="round"/><path d="M439.51,170.10 C440.15,169.20 441.08,168.48 442.08,168.04 C443.07,167.60 444.36,167.39 445.50,167.46 C446.64,167.53 447.78,167.87 448.92,168.45 C450.06,169.03 451.63,170.10 452.35,170.92 C453.06,171.74 453.63,172.77 453.20,173.39 C452.78,174.01 451.21,174.49 449.78,174.63 C448.35,174.77 446.21,174.22 444.64,174.22 C443.07,174.22 441.43,174.77 440.36,174.63 C439.29,174.49 438.37,174.15 438.22,173.39 C438.08,172.64 438.87,170.99 439.51,170.10Z" fill="#4e9e48" opacity="0.85" stroke="#4e9e48" stroke-width="2.2" stroke-linejoin="round"/><path d="M465.20,178.80 C465.20,179.29 464.99,179.87 464.67,180.26 C464.35,180.65 463.79,181.01 463.28,181.16 C462.76,181.30 462.07,181.30 461.56,181.16 C461.04,181.01 460.49,180.65 460.17,180.26 C459.84,179.87 459.63,179.29 459.63,178.80 C459.63,178.32 459.84,177.74 460.17,177.35 C460.49,176.96 461.04,176.60 461.56,176.45 C462.07,176.30 462.76,176.30 463.28,176.45 C463.79,176.60 464.35,176.96 464.67,177.35 C464.99,177.74 465.20,178.32 465.20,178.80Z" fill="#5e5e5e" opacity="1.0" stroke="#5e5e5e" stroke-width="2.2" stroke-linejoin="round"/><path d="M401.98,218.45 C402.99,216.98 405.25,217.65 406.89,217.84 C408.52,218.03 410.57,218.51 411.80,219.59 C413.03,220.67 414.06,222.74 414.25,224.32 C414.45,225.90 414.00,227.87 412.98,229.05 C411.96,230.23 409.78,231.02 408.16,231.41 C406.54,231.81 404.48,232.20 403.25,231.41 C402.02,230.62 401.00,228.84 400.79,226.68 C400.58,224.52 400.96,219.93 401.98,218.45Z" fill="#e8742a" opacity="0.9" stroke="#e8742a" stroke-width="2.2" stroke-linejoin="round"/><path d="M440.00,210.73 C440.32,210.22 441.55,209.70 442.25,210.12 C442.94,210.53 443.58,212.02 444.17,213.21 C444.76,214.39 445.56,216.09 445.78,217.22 C445.99,218.36 445.78,219.59 445.46,220.00 C445.14,220.42 444.44,220.31 443.85,219.69 C443.26,219.08 442.51,217.38 441.93,216.30 C441.34,215.21 440.64,214.13 440.32,213.21 C440.00,212.28 439.68,211.25 440.00,210.73Z" fill="#2a8aa8" opacity="0.85" stroke="#2a8aa8" stroke-width="2.2" stroke-linejoin="round"/><path d="M440.16,232.57 C441.50,230.00 444.62,227.59 446.58,226.39 C448.54,225.19 450.32,224.67 451.93,225.36 C453.54,226.05 455.41,228.28 456.21,230.51 C457.01,232.74 457.10,236.00 456.75,238.75 C456.39,241.50 455.59,244.93 454.07,246.99 C452.55,249.05 449.79,250.68 447.65,251.11 C445.51,251.54 442.75,251.11 441.23,249.56 C439.71,248.02 438.73,244.67 438.56,241.84 C438.38,239.01 438.82,235.14 440.16,232.57Z" fill="#f4d020" opacity="1.0" stroke="#f4d020" stroke-width="2.2" stroke-linejoin="round"/><path d="M433.42,239.26 C434.49,237.87 437.75,236.91 439.20,237.82 C440.64,238.73 441.84,242.41 442.09,244.72 C442.34,247.04 441.89,250.56 440.69,251.73 C439.50,252.90 436.24,252.66 434.92,251.73 C433.60,250.80 433.03,248.24 432.78,246.17 C432.53,244.09 432.35,240.66 433.42,239.26Z" fill="#e084b4" opacity="1.0" stroke="#e084b4" stroke-width="2.2" stroke-linejoin="round"/><path d="M453.54,238.75 C454.87,237.12 458.97,236.00 461.56,236.18 C464.15,236.35 467.09,237.98 469.05,239.78 C471.01,241.58 472.97,244.59 473.33,246.99 C473.69,249.39 472.62,252.57 471.19,254.20 C469.76,255.83 466.91,256.95 464.77,256.77 C462.63,256.60 460.22,254.97 458.35,253.17 C456.48,251.37 454.34,248.36 453.54,245.96 C452.73,243.56 452.20,240.38 453.54,238.75Z" fill="#c0703c" opacity="1.0" stroke="#c0703c" stroke-width="2.2" stroke-linejoin="round"/><path d="M467.44,250.08 C468.96,248.36 472.97,247.16 475.47,246.99 C477.97,246.82 480.91,247.51 482.43,249.05 C483.94,250.59 484.65,253.77 484.56,256.26 C484.48,258.75 483.50,262.18 481.89,263.99 C480.28,265.79 477.07,267.16 474.94,267.07 C472.80,266.99 470.48,265.10 469.05,263.47 C467.62,261.84 466.64,259.52 466.38,257.29 C466.11,255.06 465.93,251.80 467.44,250.08Z" fill="#dcc030" opacity="1.0" stroke="#dcc030" stroke-width="2.2" stroke-linejoin="round"/><path d="M496.55,250.59 C496.55,251.48 496.21,252.54 495.69,253.26 C495.17,253.98 494.28,254.63 493.44,254.91 C492.61,255.18 491.50,255.18 490.67,254.91 C489.83,254.63 488.94,253.98 488.42,253.26 C487.90,252.54 487.56,251.48 487.56,250.59 C487.56,249.71 487.90,248.65 488.42,247.93 C488.94,247.21 489.83,246.56 490.67,246.28 C491.50,246.01 492.61,246.01 493.44,246.28 C494.28,246.56 495.17,247.21 495.69,247.93 C496.21,248.65 496.55,249.71 496.55,250.59Z" fill="#989898" opacity="1.0" stroke="#989898" stroke-width="2.2" stroke-linejoin="round"/></g>
<circle cx="425.4" cy="193.6" r="0.60" fill="#4a72b0" fill-opacity="0.56"/><circle cx="418.8" cy="199.3" r="0.61" fill="#4a72b0" fill-opacity="0.74"/><circle cx="428.2" cy="193.7" r="0.44" fill="#4a72b0" fill-opacity="0.68"/><circle cx="415.0" cy="202.8" r="0.42" fill="#4a72b0" fill-opacity="0.83"/><circle cx="430.3" cy="175.3" r="0.61" fill="#4a72b0" fill-opacity="0.52"/><circle cx="415.3" cy="199.5" r="0.52" fill="#4a72b0" fill-opacity="0.67"/><circle cx="429.4" cy="186.9" r="0.52" fill="#4a72b0" fill-opacity="0.51"/><circle cx="432.6" cy="194.2" r="0.43" fill="#4a72b0" fill-opacity="0.59"/><circle cx="436.5" cy="187.8" r="0.41" fill="#4a72b0" fill-opacity="0.83"/><circle cx="423.9" cy="188.5" r="0.47" fill="#4a72b0" fill-opacity="0.67"/><circle cx="422.5" cy="197.8" r="0.43" fill="#4a72b0" fill-opacity="0.72"/><circle cx="421.1" cy="192.8" r="0.42" fill="#4a72b0" fill-opacity="0.68"/><circle cx="415.2" cy="203.5" r="0.51" fill="#4a72b0" fill-opacity="0.58"/><circle cx="435.2" cy="181.9" r="0.47" fill="#4a72b0" fill-opacity="0.50"/><circle cx="420.4" cy="198.4" r="0.65" fill="#4a72b0" fill-opacity="0.76"/><circle cx="425.5" cy="192.5" r="0.48" fill="#4a72b0" fill-opacity="0.88"/><circle cx="439.3" cy="175.2" r="0.49" fill="#4a72b0" fill-opacity="0.85"/><circle cx="426.8" cy="195.0" r="0.61" fill="#4a72b0" fill-opacity="0.59"/><circle cx="432.3" cy="195.0" r="0.44" fill="#4a72b0" fill-opacity="0.85"/><circle cx="428.2" cy="192.4" r="0.68" fill="#4a72b0" fill-opacity="0.88"/><circle cx="434.9" cy="184.7" r="0.58" fill="#4a72b0" fill-opacity="0.86"/><circle cx="435.8" cy="190.7" r="0.50" fill="#4a72b0" fill-opacity="0.65"/><circle cx="434.1" cy="190.1" r="0.41" fill="#4a72b0" fill-opacity="0.78"/><circle cx="427.4" cy="198.5" r="0.51" fill="#4a72b0" fill-opacity="0.54"/><circle cx="427.6" cy="192.3" r="0.44" fill="#4a72b0" fill-opacity="0.71"/><circle cx="432.9" cy="183.8" r="0.47" fill="#4a72b0" fill-opacity="0.66"/><circle cx="420.4" cy="194.6" r="0.44" fill="#4a72b0" fill-opacity="0.54"/><circle cx="420.0" cy="195.0" r="0.63" fill="#4a72b0" fill-opacity="0.76"/><circle cx="431.8" cy="181.9" r="0.47" fill="#4a72b0" fill-opacity="0.63"/><circle cx="417.0" cy="203.3" r="0.55" fill="#4a72b0" fill-opacity="0.78"/><circle cx="434.9" cy="183.9" r="0.60" fill="#4a72b0" fill-opacity="0.77"/><circle cx="432.2" cy="182.2" r="0.62" fill="#4a72b0" fill-opacity="0.63"/><circle cx="426.2" cy="182.6" r="0.49" fill="#4a72b0" fill-opacity="0.55"/><circle cx="436.3" cy="179.8" r="0.68" fill="#4a72b0" fill-opacity="0.74"/><circle cx="422.6" cy="201.6" r="0.67" fill="#4a72b0" fill-opacity="0.63"/><circle cx="437.6" cy="191.8" r="0.64" fill="#4a72b0" fill-opacity="0.66"/><circle cx="430.2" cy="179.0" r="0.52" fill="#4a72b0" fill-opacity="0.65"/><circle cx="436.4" cy="175.5" r="0.46" fill="#4a72b0" fill-opacity="0.60"/><circle cx="421.6" cy="196.5" r="0.49" fill="#4a72b0" fill-opacity="0.55"/><circle cx="416.7" cy="201.8" r="0.41" fill="#4a72b0" fill-opacity="0.62"/><circle cx="427.5" cy="185.9" r="0.56" fill="#4a72b0" fill-opacity="0.76"/><circle cx="436.2" cy="188.0" r="0.59" fill="#4a72b0" fill-opacity="0.69"/><circle cx="430.7" cy="183.6" r="0.52" fill="#4a72b0" fill-opacity="0.71"/><circle cx="433.4" cy="179.6" r="0.68" fill="#4a72b0" fill-opacity="0.70"/><circle cx="429.8" cy="197.2" r="0.65" fill="#4a72b0" fill-opacity="0.55"/><circle cx="417.2" cy="203.6" r="0.54" fill="#4a72b0" fill-opacity="0.58"/><circle cx="434.8" cy="184.9" r="0.56" fill="#4a72b0" fill-opacity="0.63"/><circle cx="429.6" cy="194.0" r="0.40" fill="#4a72b0" fill-opacity="0.59"/><circle cx="425.7" cy="196.3" r="0.65" fill="#4a72b0" fill-opacity="0.80"/><circle cx="430.4" cy="189.1" r="0.51" fill="#4a72b0" fill-opacity="0.59"/><circle cx="422.4" cy="191.9" r="0.44" fill="#4a72b0" fill-opacity="0.72"/><circle cx="430.6" cy="175.6" r="0.56" fill="#4a72b0" fill-opacity="0.74"/><circle cx="428.8" cy="183.3" r="0.49" fill="#4a72b0" fill-opacity="0.64"/><circle cx="426.3" cy="186.3" r="0.45" fill="#4a72b0" fill-opacity="0.66"/><circle cx="420.7" cy="193.6" r="0.52" fill="#4a72b0" fill-opacity="0.71"/><circle cx="431.9" cy="173.0" r="0.48" fill="#4a72b0" fill-opacity="0.82"/><circle cx="419.0" cy="200.4" r="0.47" fill="#4a72b0" fill-opacity="0.58"/><circle cx="430.8" cy="192.9" r="0.58" fill="#4a72b0" fill-opacity="0.69"/><circle cx="433.8" cy="187.8" r="0.60" fill="#4a72b0" fill-opacity="0.75"/><circle cx="433.4" cy="182.4" r="0.49" fill="#4a72b0" fill-opacity="0.51"/><circle cx="439.6" cy="174.8" r="0.65" fill="#4a72b0" fill-opacity="0.67"/><circle cx="413.7" cy="200.1" r="0.51" fill="#4a72b0" fill-opacity="0.70"/><circle cx="428.0" cy="198.6" r="0.48" fill="#4a72b0" fill-opacity="0.71"/><circle cx="430.1" cy="176.1" r="0.65" fill="#4a72b0" fill-opacity="0.84"/><circle cx="431.0" cy="185.4" r="0.41" fill="#4a72b0" fill-opacity="0.70"/><circle cx="427.0" cy="190.1" r="0.65" fill="#4a72b0" fill-opacity="0.86"/><circle cx="427.9" cy="189.4" r="0.65" fill="#4a72b0" fill-opacity="0.65"/><circle cx="436.1" cy="188.8" r="0.59" fill="#4a72b0" fill-opacity="0.90"/><circle cx="427.1" cy="198.0" r="0.60" fill="#4a72b0" fill-opacity="0.85"/><circle cx="431.2" cy="182.7" r="0.49" fill="#4a72b0" fill-opacity="0.53"/><circle cx="415.5" cy="199.9" r="0.66" fill="#4a72b0" fill-opacity="0.89"/><circle cx="431.6" cy="179.7" r="0.57" fill="#4a72b0" fill-opacity="0.78"/><circle cx="434.6" cy="179.8" r="0.63" fill="#4a72b0" fill-opacity="0.67"/><circle cx="430.3" cy="182.5" r="0.43" fill="#4a72b0" fill-opacity="0.70"/><circle cx="428.4" cy="189.2" r="0.56" fill="#4a72b0" fill-opacity="0.89"/><circle cx="439.7" cy="180.3" r="0.66" fill="#4a72b0" fill-opacity="0.63"/><circle cx="431.6" cy="195.4" r="0.46" fill="#4a72b0" fill-opacity="0.55"/><circle cx="431.6" cy="187.0" r="0.46" fill="#4a72b0" fill-opacity="0.59"/><circle cx="432.0" cy="186.6" r="0.63" fill="#4a72b0" fill-opacity="0.78"/><circle cx="432.2" cy="191.1" r="0.45" fill="#4a72b0" fill-opacity="0.69"/><circle cx="432.4" cy="188.4" r="0.53" fill="#4a72b0" fill-opacity="0.66"/><circle cx="431.2" cy="174.6" r="0.56" fill="#4a72b0" fill-opacity="0.57"/><circle cx="433.9" cy="187.2" r="0.67" fill="#4a72b0" fill-opacity="0.56"/><circle cx="429.9" cy="194.9" r="0.57" fill="#4a72b0" fill-opacity="0.56"/><circle cx="439.8" cy="174.6" r="0.48" fill="#4a72b0" fill-opacity="0.72"/><circle cx="417.9" cy="201.1" r="0.48" fill="#4a72b0" fill-opacity="0.53"/><circle cx="431.9" cy="185.0" r="0.41" fill="#4a72b0" fill-opacity="0.83"/><circle cx="424.1" cy="201.2" r="0.45" fill="#4a72b0" fill-opacity="0.52"/><circle cx="434.0" cy="174.4" r="0.49" fill="#4a72b0" fill-opacity="0.58"/><circle cx="437.5" cy="189.1" r="0.43" fill="#4a72b0" fill-opacity="0.57"/><circle cx="419.5" cy="198.7" r="0.67" fill="#4a72b0" fill-opacity="0.51"/><circle cx="418.5" cy="202.2" r="0.48" fill="#4a72b0" fill-opacity="0.79"/><circle cx="418.2" cy="197.7" r="0.54" fill="#4a72b0" fill-opacity="0.50"/><circle cx="417.2" cy="203.8" r="0.60" fill="#4a72b0" fill-opacity="0.85"/><circle cx="432.8" cy="193.5" r="0.61" fill="#4a72b0" fill-opacity="0.54"/><circle cx="439.1" cy="175.0" r="0.53" fill="#4a72b0" fill-opacity="0.78"/><circle cx="438.6" cy="180.9" r="0.52" fill="#4a72b0" fill-opacity="0.63"/><circle cx="433.3" cy="175.7" r="0.44" fill="#4a72b0" fill-opacity="0.53"/><circle cx="433.6" cy="174.5" r="0.64" fill="#4a72b0" fill-opacity="0.71"/><circle cx="434.6" cy="182.3" r="0.54" fill="#4a72b0" fill-opacity="0.55"/><circle cx="435.5" cy="190.7" r="0.59" fill="#4a72b0" fill-opacity="0.69"/><circle cx="438.0" cy="190.7" r="0.56" fill="#4a72b0" fill-opacity="0.66"/><circle cx="430.5" cy="191.0" r="0.68" fill="#4a72b0" fill-opacity="0.81"/><circle cx="420.6" cy="195.9" r="0.47" fill="#4a72b0" fill-opacity="0.69"/><circle cx="427.1" cy="196.2" r="0.42" fill="#4a72b0" fill-opacity="0.56"/><circle cx="438.9" cy="185.1" r="0.47" fill="#4a72b0" fill-opacity="0.74"/><circle cx="426.1" cy="194.5" r="0.68" fill="#4a72b0" fill-opacity="0.89"/><circle cx="435.8" cy="178.7" r="0.61" fill="#4a72b0" fill-opacity="0.73"/><circle cx="424.7" cy="192.5" r="0.54" fill="#4a72b0" fill-opacity="0.76"/><circle cx="430.9" cy="195.4" r="0.66" fill="#4a72b0" fill-opacity="0.71"/><circle cx="416.2" cy="202.4" r="0.42" fill="#4a72b0" fill-opacity="0.86"/><circle cx="424.5" cy="198.8" r="0.52" fill="#4a72b0" fill-opacity="0.57"/><circle cx="430.8" cy="179.6" r="0.57" fill="#4a72b0" fill-opacity="0.77"/><circle cx="440.3" cy="176.9" r="0.55" fill="#4a72b0" fill-opacity="0.68"/><circle cx="435.0" cy="192.4" r="0.56" fill="#4a72b0" fill-opacity="0.54"/><circle cx="428.7" cy="185.3" r="0.63" fill="#4a72b0" fill-opacity="0.65"/><circle cx="437.2" cy="187.6" r="0.60" fill="#4a72b0" fill-opacity="0.52"/><circle cx="426.3" cy="192.1" r="0.64" fill="#4a72b0" fill-opacity="0.53"/><circle cx="426.7" cy="193.2" r="0.49" fill="#4a72b0" fill-opacity="0.56"/><circle cx="439.2" cy="185.8" r="0.58" fill="#4a72b0" fill-opacity="0.69"/><circle cx="432.5" cy="172.9" r="0.63" fill="#4a72b0" fill-opacity="0.57"/><circle cx="429.3" cy="192.3" r="0.65" fill="#4a72b0" fill-opacity="0.75"/><circle cx="415.6" cy="199.5" r="0.51" fill="#4a72b0" fill-opacity="0.73"/><circle cx="420.1" cy="200.6" r="0.52" fill="#4a72b0" fill-opacity="0.86"/><circle cx="436.0" cy="184.8" r="0.63" fill="#4a72b0" fill-opacity="0.77"/><circle cx="414.2" cy="200.1" r="0.52" fill="#4a72b0" fill-opacity="0.62"/><circle cx="417.2" cy="198.6" r="0.62" fill="#4a72b0" fill-opacity="0.81"/><circle cx="437.9" cy="173.3" r="0.57" fill="#4a72b0" fill-opacity="0.88"/><circle cx="432.1" cy="193.2" r="0.50" fill="#4a72b0" fill-opacity="0.67"/><circle cx="437.9" cy="191.5" r="0.67" fill="#4a72b0" fill-opacity="0.61"/><circle cx="419.3" cy="201.3" r="0.48" fill="#4a72b0" fill-opacity="0.55"/><circle cx="414.6" cy="201.9" r="0.65" fill="#4a72b0" fill-opacity="0.58"/><circle cx="434.3" cy="176.5" r="0.59" fill="#4a72b0" fill-opacity="0.50"/><circle cx="428.8" cy="197.1" r="0.55" fill="#4a72b0" fill-opacity="0.75"/><circle cx="435.7" cy="183.1" r="0.62" fill="#4a72b0" fill-opacity="0.74"/><circle cx="419.8" cy="199.6" r="0.65" fill="#4a72b0" fill-opacity="0.67"/><circle cx="433.5" cy="184.6" r="0.57" fill="#4a72b0" fill-opacity="0.63"/><circle cx="430.0" cy="188.6" r="0.54" fill="#4a72b0" fill-opacity="0.57"/><circle cx="431.1" cy="185.8" r="0.50" fill="#4a72b0" fill-opacity="0.71"/><circle cx="435.6" cy="182.8" r="0.45" fill="#4a72b0" fill-opacity="0.89"/><circle cx="430.2" cy="181.0" r="0.43" fill="#4a72b0" fill-opacity="0.73"/><circle cx="416.9" cy="202.5" r="0.61" fill="#4a72b0" fill-opacity="0.61"/><circle cx="438.9" cy="185.0" r="0.69" fill="#4a72b0" fill-opacity="0.60"/><circle cx="413.1" cy="200.3" r="0.51" fill="#4a72b0" fill-opacity="0.61"/><circle cx="424.4" cy="191.9" r="0.47" fill="#4a72b0" fill-opacity="0.54"/><circle cx="429.5" cy="193.6" r="0.57" fill="#4a72b0" fill-opacity="0.56"/><circle cx="438.2" cy="185.2" r="0.56" fill="#4a72b0" fill-opacity="0.85"/><circle cx="423.7" cy="192.9" r="0.47" fill="#4a72b0" fill-opacity="0.60"/><circle cx="423.2" cy="199.8" r="0.57" fill="#4a72b0" fill-opacity="0.81"/><circle cx="423.8" cy="190.3" r="0.55" fill="#4a72b0" fill-opacity="0.64"/><circle cx="411.6" cy="203.0" r="0.60" fill="#8e3a5a" fill-opacity="0.51"/><circle cx="408.7" cy="207.6" r="0.54" fill="#8e3a5a" fill-opacity="0.51"/><circle cx="411.9" cy="208.7" r="0.51" fill="#8e3a5a" fill-opacity="0.89"/><circle cx="411.9" cy="209.9" r="0.59" fill="#8e3a5a" fill-opacity="0.83"/><circle cx="417.3" cy="206.8" r="0.57" fill="#8e3a5a" fill-opacity="0.50"/><circle cx="412.0" cy="201.7" r="0.58" fill="#8e3a5a" fill-opacity="0.56"/><circle cx="408.4" cy="209.3" r="0.57" fill="#8e3a5a" fill-opacity="0.55"/><circle cx="409.9" cy="208.5" r="0.57" fill="#8e3a5a" fill-opacity="0.76"/><circle cx="411.6" cy="202.1" r="0.58" fill="#8e3a5a" fill-opacity="0.69"/><circle cx="413.8" cy="209.7" r="0.55" fill="#8e3a5a" fill-opacity="0.67"/><circle cx="412.5" cy="200.9" r="0.67" fill="#8e3a5a" fill-opacity="0.66"/><circle cx="415.2" cy="206.0" r="0.53" fill="#8e3a5a" fill-opacity="0.81"/><circle cx="412.6" cy="207.9" r="0.51" fill="#8e3a5a" fill-opacity="0.83"/><circle cx="407.7" cy="207.8" r="0.57" fill="#8e3a5a" fill-opacity="0.64"/><circle cx="417.5" cy="202.4" r="0.50" fill="#8e3a5a" fill-opacity="0.60"/><circle cx="412.5" cy="205.5" r="0.66" fill="#8e3a5a" fill-opacity="0.53"/><circle cx="415.9" cy="203.2" r="0.42" fill="#8e3a5a" fill-opacity="0.86"/><circle cx="413.8" cy="201.7" r="0.64" fill="#8e3a5a" fill-opacity="0.60"/><circle cx="409.1" cy="204.2" r="0.65" fill="#8e3a5a" fill-opacity="0.52"/><circle cx="416.0" cy="205.7" r="0.60" fill="#8e3a5a" fill-opacity="0.77"/><circle cx="415.3" cy="209.5" r="0.41" fill="#8e3a5a" fill-opacity="0.84"/><circle cx="411.7" cy="202.1" r="0.50" fill="#8e3a5a" fill-opacity="0.70"/><circle cx="416.6" cy="202.1" r="0.47" fill="#8e3a5a" fill-opacity="0.89"/><circle cx="406.3" cy="205.9" r="0.66" fill="#8e3a5a" fill-opacity="0.63"/><circle cx="410.5" cy="202.4" r="0.52" fill="#8e3a5a" fill-opacity="0.56"/><circle cx="411.1" cy="208.2" r="0.46" fill="#8e3a5a" fill-opacity="0.73"/><circle cx="408.2" cy="207.5" r="0.43" fill="#8e3a5a" fill-opacity="0.54"/><circle cx="413.7" cy="206.4" r="0.51" fill="#8e3a5a" fill-opacity="0.83"/><circle cx="411.8" cy="210.1" r="0.62" fill="#8e3a5a" fill-opacity="0.63"/><circle cx="417.2" cy="203.4" r="0.58" fill="#8e3a5a" fill-opacity="0.84"/><circle cx="417.4" cy="202.9" r="0.44" fill="#8e3a5a" fill-opacity="0.73"/><circle cx="410.0" cy="208.9" r="0.45" fill="#8e3a5a" fill-opacity="0.70"/><circle cx="409.5" cy="204.1" r="0.44" fill="#8e3a5a" fill-opacity="0.56"/><circle cx="408.1" cy="206.2" r="0.44" fill="#8e3a5a" fill-opacity="0.75"/><circle cx="409.2" cy="202.8" r="0.66" fill="#8e3a5a" fill-opacity="0.80"/><circle cx="410.5" cy="202.2" r="0.55" fill="#8e3a5a" fill-opacity="0.76"/><circle cx="416.2" cy="207.8" r="0.40" fill="#8e3a5a" fill-opacity="0.56"/><circle cx="408.1" cy="202.4" r="0.42" fill="#8e3a5a" fill-opacity="0.62"/><circle cx="411.7" cy="204.8" r="0.40" fill="#8e3a5a" fill-opacity="0.54"/><circle cx="411.4" cy="203.6" r="0.67" fill="#8e3a5a" fill-opacity="0.80"/><circle cx="414.1" cy="208.3" r="0.68" fill="#8e3a5a" fill-opacity="0.71"/><circle cx="407.1" cy="208.8" r="0.68" fill="#8e3a5a" fill-opacity="0.59"/><circle cx="409.4" cy="209.2" r="0.64" fill="#8e3a5a" fill-opacity="0.52"/><circle cx="417.0" cy="202.0" r="0.44" fill="#8e3a5a" fill-opacity="0.52"/><circle cx="410.8" cy="204.9" r="0.46" fill="#8e3a5a" fill-opacity="0.79"/><circle cx="412.1" cy="203.5" r="0.63" fill="#8e3a5a" fill-opacity="0.66"/><circle cx="414.7" cy="201.7" r="0.53" fill="#8e3a5a" fill-opacity="0.80"/><circle cx="414.1" cy="202.4" r="0.51" fill="#8e3a5a" fill-opacity="0.82"/><circle cx="415.2" cy="205.8" r="0.57" fill="#8e3a5a" fill-opacity="0.87"/><circle cx="408.3" cy="209.0" r="0.62" fill="#8e3a5a" fill-opacity="0.80"/><circle cx="410.9" cy="202.9" r="0.43" fill="#8e3a5a" fill-opacity="0.62"/><circle cx="413.5" cy="207.5" r="0.62" fill="#8e3a5a" fill-opacity="0.56"/><circle cx="411.9" cy="208.9" r="0.54" fill="#8e3a5a" fill-opacity="0.67"/><circle cx="406.4" cy="207.3" r="0.60" fill="#8e3a5a" fill-opacity="0.61"/><circle cx="407.2" cy="207.1" r="0.41" fill="#8e3a5a" fill-opacity="0.51"/><circle cx="407.1" cy="209.5" r="0.57" fill="#8e3a5a" fill-opacity="0.76"/><circle cx="407.5" cy="204.0" r="0.43" fill="#8e3a5a" fill-opacity="0.61"/><circle cx="408.5" cy="207.3" r="0.67" fill="#8e3a5a" fill-opacity="0.82"/><circle cx="411.9" cy="200.8" r="0.42" fill="#8e3a5a" fill-opacity="0.53"/><circle cx="415.1" cy="208.6" r="0.44" fill="#8e3a5a" fill-opacity="0.73"/><circle cx="399.8" cy="205.0" r="0.66" fill="#d42a2a" fill-opacity="0.64"/><circle cx="396.3" cy="211.6" r="0.45" fill="#d42a2a" fill-opacity="0.89"/><circle cx="403.3" cy="201.6" r="0.46" fill="#d42a2a" fill-opacity="0.79"/><circle cx="400.2" cy="212.0" r="0.46" fill="#d42a2a" fill-opacity="0.73"/><circle cx="396.2" cy="208.5" r="0.64" fill="#d42a2a" fill-opacity="0.83"/><circle cx="404.1" cy="212.4" r="0.48" fill="#d42a2a" fill-opacity="0.61"/><circle cx="400.2" cy="204.8" r="0.62" fill="#d42a2a" fill-opacity="0.85"/><circle cx="402.2" cy="202.0" r="0.48" fill="#d42a2a" fill-opacity="0.67"/><circle cx="402.3" cy="203.1" r="0.57" fill="#d42a2a" fill-opacity="0.67"/><circle cx="396.5" cy="210.9" r="0.50" fill="#d42a2a" fill-opacity="0.51"/><circle cx="396.9" cy="206.4" r="0.59" fill="#d42a2a" fill-opacity="0.53"/><circle cx="398.0" cy="204.7" r="0.60" fill="#d42a2a" fill-opacity="0.54"/><circle cx="398.9" cy="211.5" r="0.68" fill="#d42a2a" fill-opacity="0.75"/><circle cx="398.4" cy="202.4" r="0.42" fill="#d42a2a" fill-opacity="0.53"/><circle cx="399.1" cy="202.4" r="0.66" fill="#d42a2a" fill-opacity="0.59"/><circle cx="396.2" cy="206.9" r="0.68" fill="#d42a2a" fill-opacity="0.88"/><circle cx="399.2" cy="212.7" r="0.62" fill="#d42a2a" fill-opacity="0.86"/><circle cx="396.1" cy="209.6" r="0.68" fill="#d42a2a" fill-opacity="0.80"/><circle cx="405.6" cy="201.6" r="0.51" fill="#d42a2a" fill-opacity="0.72"/><circle cx="406.4" cy="202.7" r="0.56" fill="#d42a2a" fill-opacity="0.80"/><circle cx="404.4" cy="203.1" r="0.43" fill="#d42a2a" fill-opacity="0.64"/><circle cx="396.1" cy="209.2" r="0.56" fill="#d42a2a" fill-opacity="0.52"/><circle cx="401.7" cy="213.1" r="0.59" fill="#d42a2a" fill-opacity="0.68"/><circle cx="403.8" cy="212.2" r="0.55" fill="#d42a2a" fill-opacity="0.61"/><circle cx="403.5" cy="214.1" r="0.43" fill="#d42a2a" fill-opacity="0.76"/><circle cx="399.9" cy="201.2" r="0.50" fill="#d42a2a" fill-opacity="0.53"/><circle cx="406.7" cy="209.1" r="0.53" fill="#d42a2a" fill-opacity="0.85"/><circle cx="406.8" cy="205.9" r="0.41" fill="#d42a2a" fill-opacity="0.74"/><circle cx="396.8" cy="210.1" r="0.43" fill="#d42a2a" fill-opacity="0.82"/><circle cx="396.9" cy="205.8" r="0.51" fill="#d42a2a" fill-opacity="0.80"/><circle cx="406.8" cy="206.0" r="0.43" fill="#d42a2a" fill-opacity="0.70"/><circle cx="396.9" cy="210.6" r="0.52" fill="#d42a2a" fill-opacity="0.56"/><circle cx="401.3" cy="201.2" r="0.69" fill="#d42a2a" fill-opacity="0.67"/><circle cx="399.5" cy="208.9" r="0.69" fill="#d42a2a" fill-opacity="0.70"/><circle cx="404.3" cy="206.3" r="0.64" fill="#d42a2a" fill-opacity="0.60"/><circle cx="401.3" cy="214.8" r="0.68" fill="#d42a2a" fill-opacity="0.69"/><circle cx="401.8" cy="213.6" r="0.51" fill="#d42a2a" fill-opacity="0.51"/><circle cx="401.6" cy="208.1" r="0.68" fill="#d42a2a" fill-opacity="0.55"/><circle cx="404.7" cy="202.0" r="0.50" fill="#d42a2a" fill-opacity="0.81"/><circle cx="407.1" cy="209.9" r="0.52" fill="#d42a2a" fill-opacity="0.54"/><circle cx="398.2" cy="203.7" r="0.69" fill="#d42a2a" fill-opacity="0.63"/><circle cx="404.8" cy="214.2" r="0.48" fill="#d42a2a" fill-opacity="0.77"/><circle cx="402.9" cy="211.3" r="0.45" fill="#d42a2a" fill-opacity="0.81"/><circle cx="397.7" cy="206.9" r="0.56" fill="#d42a2a" fill-opacity="0.69"/><circle cx="399.3" cy="201.4" r="0.60" fill="#d42a2a" fill-opacity="0.68"/><circle cx="400.0" cy="206.7" r="0.70" fill="#d42a2a" fill-opacity="0.73"/><circle cx="397.2" cy="211.2" r="0.69" fill="#d42a2a" fill-opacity="0.69"/><circle cx="405.0" cy="202.1" r="0.66" fill="#d42a2a" fill-opacity="0.72"/><circle cx="398.9" cy="205.8" r="0.47" fill="#d42a2a" fill-opacity="0.79"/><circle cx="401.0" cy="200.8" r="0.48" fill="#d42a2a" fill-opacity="0.65"/><circle cx="402.1" cy="212.2" r="0.40" fill="#d42a2a" fill-opacity="0.78"/><circle cx="396.2" cy="207.9" r="0.64" fill="#d42a2a" fill-opacity="0.62"/><circle cx="396.5" cy="210.0" r="0.59" fill="#d42a2a" fill-opacity="0.61"/><circle cx="396.9" cy="211.1" r="0.62" fill="#d42a2a" fill-opacity="0.76"/><circle cx="399.0" cy="202.1" r="0.64" fill="#d42a2a" fill-opacity="0.59"/><circle cx="400.0" cy="203.2" r="0.54" fill="#d42a2a" fill-opacity="0.80"/><circle cx="401.3" cy="214.9" r="0.54" fill="#d42a2a" fill-opacity="0.65"/><circle cx="399.4" cy="213.6" r="0.58" fill="#d42a2a" fill-opacity="0.79"/><circle cx="405.0" cy="203.2" r="0.42" fill="#d42a2a" fill-opacity="0.62"/><circle cx="402.6" cy="208.7" r="0.53" fill="#d42a2a" fill-opacity="0.60"/><circle cx="406.0" cy="211.3" r="0.41" fill="#d42a2a" fill-opacity="0.63"/><circle cx="398.5" cy="213.5" r="0.41" fill="#d42a2a" fill-opacity="0.79"/><circle cx="399.2" cy="203.4" r="0.60" fill="#d42a2a" fill-opacity="0.60"/><circle cx="399.5" cy="213.4" r="0.44" fill="#d42a2a" fill-opacity="0.65"/><circle cx="401.4" cy="215.4" r="0.55" fill="#d42a2a" fill-opacity="0.85"/><circle cx="406.9" cy="203.8" r="0.49" fill="#d42a2a" fill-opacity="0.77"/><circle cx="401.5" cy="202.6" r="0.42" fill="#d42a2a" fill-opacity="0.64"/><circle cx="396.4" cy="208.8" r="0.44" fill="#d42a2a" fill-opacity="0.60"/><circle cx="406.3" cy="205.1" r="0.61" fill="#d42a2a" fill-opacity="0.79"/><circle cx="405.0" cy="208.4" r="0.46" fill="#d42a2a" fill-opacity="0.74"/><circle cx="434.2" cy="199.5" r="0.65" fill="#4aa890" fill-opacity="0.85"/><circle cx="433.3" cy="203.8" r="0.50" fill="#4aa890" fill-opacity="0.74"/><circle cx="440.9" cy="204.7" r="0.58" fill="#4aa890" fill-opacity="0.66"/><circle cx="434.7" cy="200.7" r="0.67" fill="#4aa890" fill-opacity="0.73"/><circle cx="433.3" cy="199.8" r="0.43" fill="#4aa890" fill-opacity="0.62"/><circle cx="439.6" cy="201.9" r="0.66" fill="#4aa890" fill-opacity="0.60"/><circle cx="438.7" cy="204.4" r="0.48" fill="#4aa890" fill-opacity="0.71"/><circle cx="432.0" cy="204.1" r="0.53" fill="#4aa890" fill-opacity="0.87"/><circle cx="438.6" cy="204.8" r="0.43" fill="#4aa890" fill-opacity="0.89"/><circle cx="440.1" cy="204.4" r="0.50" fill="#4aa890" fill-opacity="0.62"/><circle cx="434.3" cy="199.6" r="0.46" fill="#4aa890" fill-opacity="0.85"/><circle cx="431.9" cy="200.9" r="0.43" fill="#4aa890" fill-opacity="0.67"/><circle cx="439.1" cy="202.5" r="0.58" fill="#4aa890" fill-opacity="0.56"/><circle cx="441.4" cy="199.8" r="0.46" fill="#4aa890" fill-opacity="0.81"/><circle cx="436.5" cy="205.9" r="0.53" fill="#4aa890" fill-opacity="0.60"/><circle cx="438.1" cy="205.2" r="0.53" fill="#4aa890" fill-opacity="0.79"/><circle cx="434.8" cy="204.1" r="0.48" fill="#4aa890" fill-opacity="0.56"/><circle cx="438.9" cy="199.0" r="0.46" fill="#4aa890" fill-opacity="0.58"/><circle cx="436.1" cy="200.8" r="0.49" fill="#4aa890" fill-opacity="0.74"/><circle cx="436.0" cy="198.8" r="0.43" fill="#4aa890" fill-opacity="0.75"/><circle cx="438.2" cy="198.5" r="0.68" fill="#4aa890" fill-opacity="0.58"/><circle cx="439.4" cy="204.2" r="0.65" fill="#4aa890" fill-opacity="0.86"/><circle cx="438.2" cy="203.5" r="0.51" fill="#4aa890" fill-opacity="0.74"/><circle cx="435.8" cy="199.1" r="0.58" fill="#4aa890" fill-opacity="0.59"/><circle cx="439.3" cy="200.1" r="0.41" fill="#4aa890" fill-opacity="0.64"/><circle cx="439.3" cy="205.3" r="0.68" fill="#4aa890" fill-opacity="0.87"/><circle cx="437.6" cy="199.2" r="0.50" fill="#4aa890" fill-opacity="0.86"/><circle cx="439.2" cy="202.9" r="0.64" fill="#4aa890" fill-opacity="0.65"/><circle cx="435.2" cy="203.1" r="0.45" fill="#4aa890" fill-opacity="0.82"/><circle cx="441.5" cy="199.8" r="0.60" fill="#4aa890" fill-opacity="0.64"/><circle cx="433.9" cy="200.3" r="0.65" fill="#4aa890" fill-opacity="0.73"/><circle cx="433.2" cy="201.4" r="0.66" fill="#4aa890" fill-opacity="0.60"/><circle cx="434.4" cy="200.3" r="0.50" fill="#4aa890" fill-opacity="0.87"/><circle cx="432.4" cy="203.7" r="0.49" fill="#4aa890" fill-opacity="0.53"/><circle cx="439.4" cy="200.8" r="0.63" fill="#4aa890" fill-opacity="0.58"/><circle cx="441.6" cy="204.4" r="0.46" fill="#4aa890" fill-opacity="0.68"/><circle cx="435.4" cy="201.1" r="0.64" fill="#4aa890" fill-opacity="0.67"/><circle cx="439.8" cy="202.5" r="0.55" fill="#4aa890" fill-opacity="0.56"/><circle cx="435.2" cy="199.6" r="0.42" fill="#4aa890" fill-opacity="0.69"/><circle cx="431.9" cy="200.3" r="0.53" fill="#4aa890" fill-opacity="0.66"/>
<text x="444.87" y="173.38" font-size="6.4" fill="#1a1a1a" text-anchor="middle" font-weight="normal" stroke="#1a1a1a" stroke-width="0.16" >14</text>
<text x="448.29" y="185.74" font-size="6.4" fill="#1a1a1a" text-anchor="middle" font-weight="normal" stroke="#1a1a1a" stroke-width="0.16" >0</text>
<text x="461.88" y="181.31" font-size="6.4" fill="#1a1a1a" text-anchor="middle" font-weight="normal" stroke="#1a1a1a" stroke-width="0.16" >18</text>
<text x="433.53" y="187.90" font-size="6.4" fill="#1a1a1a" text-anchor="middle" font-weight="normal" stroke="#1a1a1a" stroke-width="0.16" >7</text>
<text x="396.60" y="213.10" font-size="6.4" fill="#1a1a1a" text-anchor="middle" font-weight="normal" stroke="#1a1a1a" stroke-width="0.16" >10</text>
<text x="408.30" y="207.30" font-size="6.4" fill="#1a1a1a" text-anchor="middle" font-weight="normal" stroke="#1a1a1a" stroke-width="0.16" >13</text>
<text x="405.28" y="229.31" font-size="6.4" fill="#1a1a1a" text-anchor="middle" font-weight="normal" stroke="#1a1a1a" stroke-width="0.16" >9</text>
<text x="438.30" y="212.00" font-size="6.4" fill="#1a1a1a" text-anchor="middle" font-weight="normal" stroke="#1a1a1a" stroke-width="0.16" >19</text>
<text x="444.20" y="222.60" font-size="6.4" fill="#1a1a1a" text-anchor="middle" font-weight="normal" stroke="#1a1a1a" stroke-width="0.16" >12</text>
<text x="453.96" y="209.74" font-size="6.4" fill="#1a1a1a" text-anchor="middle" font-weight="normal" stroke="#1a1a1a" stroke-width="0.16" >1</text>
<text x="473.12" y="210.36" font-size="6.4" fill="#1a1a1a" text-anchor="middle" font-weight="normal" stroke="#1a1a1a" stroke-width="0.16" >16</text>
<text x="482.64" y="203.87" font-size="6.4" fill="#1a1a1a" text-anchor="middle" font-weight="normal" stroke="#1a1a1a" stroke-width="0.16" >4</text>
<text x="464.56" y="226.12" font-size="6.4" fill="#1a1a1a" text-anchor="middle" font-weight="normal" stroke="#1a1a1a" stroke-width="0.16" >2</text>
<text x="473.12" y="230.03" font-size="6.4" fill="#1a1a1a" text-anchor="middle" font-weight="normal" stroke="#1a1a1a" stroke-width="0.16" >20</text>
<text x="480.39" y="243.11" font-size="6.4" fill="#1a1a1a" text-anchor="middle" font-weight="normal" stroke="#1a1a1a" stroke-width="0.16" >5</text>
<text x="446.58" y="241.77" font-size="6.4" fill="#1a1a1a" text-anchor="middle" font-weight="normal" stroke="#1a1a1a" stroke-width="0.16" >6</text>
<text x="437.38" y="250.53" font-size="6.4" fill="#1a1a1a" text-anchor="middle" font-weight="normal" stroke="#1a1a1a" stroke-width="0.16" >11</text>
<text x="464.13" y="248.98" font-size="6.4" fill="#1a1a1a" text-anchor="middle" font-weight="normal" stroke="#1a1a1a" stroke-width="0.16" >8</text>
<text x="475.90" y="259.18" font-size="6.4" fill="#1a1a1a" text-anchor="middle" font-weight="normal" stroke="#1a1a1a" stroke-width="0.16" >3</text>
<text x="492.38" y="255.06" font-size="6.4" fill="#1a1a1a" text-anchor="middle" font-weight="normal" stroke="#1a1a1a" stroke-width="0.16" >17</text>
<path d="M168.1,251.7 V273.8 H190.2" stroke="#111" stroke-width="1.55" fill="none"/>
<path d="M168.1,247.7 L165.29999999999998,252.89999999999998 L170.9,252.89999999999998Z" fill="#111"/>
<path d="M194.2,273.8 L189.0,271.0 L189.0,276.6Z" fill="#111"/>
<text x="170.70" y="231.50" font-size="6.5" fill="#231f20" text-anchor="middle" font-weight="normal" stroke="#231f20" stroke-width="0.16" transform="rotate(-90 170.7 231.5)">UMAP_2</text>
<text x="197.30" y="276.00" font-size="6.35" fill="#231f20" text-anchor="start" font-weight="normal" stroke="#231f20" stroke-width="0.16" >UMAP_1</text>
<path d="M284.0,252.8 V275.2 H305.8" stroke="#111" stroke-width="1.55" fill="none"/>
<path d="M284.0,248.8 L281.2,254.0 L286.8,254.0Z" fill="#111"/>
<path d="M309.8,275.2 L304.6,272.4 L304.6,278.0Z" fill="#111"/>
<text x="286.70" y="232.40" font-size="6.5" fill="#231f20" text-anchor="middle" font-weight="normal" stroke="#231f20" stroke-width="0.16" transform="rotate(-90 286.7 232.4)">UMAP_2</text>
<text x="314.00" y="277.40" font-size="6.35" fill="#231f20" text-anchor="start" font-weight="normal" stroke="#231f20" stroke-width="0.16" >UMAP_1</text>
<text x="486.10" y="132.20" font-size="8.2" fill="#231f20" text-anchor="start" font-weight="normal" stroke="#231f20" stroke-width="0.16" >Cluster ID</text>
<circle cx="504.3" cy="138.40" r="1.6" fill="#c0203a"/>
<text x="508.80" y="141.10" font-size="7.5" fill="#231f20" text-anchor="start" font-weight="normal" stroke="#231f20" stroke-width="0.16" >10</text>
<circle cx="504.3" cy="145.70" r="1.6" fill="#6a3050"/>
<text x="508.80" y="148.40" font-size="7.5" fill="#231f20" text-anchor="start" font-weight="normal" stroke="#231f20" stroke-width="0.16" >13</text>
<circle cx="504.3" cy="153.00" r="1.6" fill="#3a6a8a"/>
<text x="508.80" y="155.70" font-size="7.5" fill="#231f20" text-anchor="start" font-weight="normal" stroke="#231f20" stroke-width="0.16" >7</text>
<circle cx="504.3" cy="160.30" r="1.6" fill="#2a7a8a"/>
<text x="508.80" y="163.00" font-size="7.5" fill="#231f20" text-anchor="start" font-weight="normal" stroke="#231f20" stroke-width="0.16" >12</text>
<circle cx="504.3" cy="167.60" r="1.6" fill="#2a8a70"/>
<text x="508.80" y="170.30" font-size="7.5" fill="#231f20" text-anchor="start" font-weight="normal" stroke="#231f20" stroke-width="0.16" >19</text>
<circle cx="504.3" cy="174.90" r="1.6" fill="#3a9050"/>
<text x="508.80" y="177.60" font-size="7.5" fill="#231f20" text-anchor="start" font-weight="normal" stroke="#231f20" stroke-width="0.16" >14</text>
<circle cx="504.3" cy="182.20" r="1.6" fill="#707070"/>
<text x="508.80" y="184.90" font-size="7.5" fill="#231f20" text-anchor="start" font-weight="normal" stroke="#231f20" stroke-width="0.16" >18</text>
<circle cx="504.3" cy="189.50" r="1.6" fill="#7a5a9a"/>
<text x="508.80" y="192.20" font-size="7.5" fill="#231f20" text-anchor="start" font-weight="normal" stroke="#231f20" stroke-width="0.16" >2</text>
<circle cx="504.3" cy="196.80" r="1.6" fill="#b06070"/>
<text x="508.80" y="199.50" font-size="7.5" fill="#231f20" text-anchor="start" font-weight="normal" stroke="#231f20" stroke-width="0.16" >0</text>
<circle cx="504.3" cy="204.10" r="1.6" fill="#e07050"/>
<text x="508.80" y="206.80" font-size="7.5" fill="#231f20" text-anchor="start" font-weight="normal" stroke="#231f20" stroke-width="0.16" >9</text>
<circle cx="504.3" cy="211.40" r="1.6" fill="#e8a030"/>
<text x="508.80" y="214.10" font-size="7.5" fill="#231f20" text-anchor="start" font-weight="normal" stroke="#231f20" stroke-width="0.16" >1</text>
<circle cx="504.3" cy="218.70" r="1.6" fill="#f0c040"/>
<text x="508.80" y="221.40" font-size="7.5" fill="#231f20" text-anchor="start" font-weight="normal" stroke="#231f20" stroke-width="0.16" >6</text>
<circle cx="504.3" cy="226.00" r="1.6" fill="#e8e070"/>
<text x="508.80" y="228.70" font-size="7.5" fill="#231f20" text-anchor="start" font-weight="normal" stroke="#231f20" stroke-width="0.16" >16</text>
<circle cx="504.3" cy="233.30" r="1.6" fill="#a0b040"/>
<text x="508.80" y="236.00" font-size="7.5" fill="#231f20" text-anchor="start" font-weight="normal" stroke="#231f20" stroke-width="0.16" >3</text>
<circle cx="504.3" cy="240.60" r="1.6" fill="#a05040"/>
<text x="508.80" y="243.30" font-size="7.5" fill="#231f20" text-anchor="start" font-weight="normal" stroke="#231f20" stroke-width="0.16" >8</text>
<circle cx="504.3" cy="247.90" r="1.6" fill="#c84060"/>
<text x="508.80" y="250.60" font-size="7.5" fill="#231f20" text-anchor="start" font-weight="normal" stroke="#231f20" stroke-width="0.16" >5</text>
<circle cx="504.3" cy="255.20" r="1.6" fill="#d070a0"/>
<text x="508.80" y="257.90" font-size="7.5" fill="#231f20" text-anchor="start" font-weight="normal" stroke="#231f20" stroke-width="0.16" >20</text>
<circle cx="504.3" cy="262.50" r="1.6" fill="#d898b8"/>
<text x="508.80" y="265.20" font-size="7.5" fill="#231f20" text-anchor="start" font-weight="normal" stroke="#231f20" stroke-width="0.16" >11</text>
<circle cx="504.3" cy="269.80" r="1.6" fill="#c088a8"/>
<text x="508.80" y="272.50" font-size="7.5" fill="#231f20" text-anchor="start" font-weight="normal" stroke="#231f20" stroke-width="0.16" >4</text>
<circle cx="504.3" cy="277.10" r="1.6" fill="#909090"/>
<text x="508.80" y="279.80" font-size="7.5" fill="#231f20" text-anchor="start" font-weight="normal" stroke="#231f20" stroke-width="0.16" >17</text>
<text x="1.50" y="305.50" font-size="10.5" fill="#231f20" text-anchor="start" font-weight="bold" stroke="#231f20" stroke-width="0.45" >D</text>
<text x="102.50" y="319.20" font-size="9.4" fill="#231f20" text-anchor="start" font-weight="normal" stroke="#231f20" stroke-width="0.16" >Screening CLL cells</text>
<text x="103.50" y="368.40" font-size="9.5" fill="#231f20" text-anchor="start" font-weight="normal" stroke="#231f20" stroke-width="0.16" >Relapsed CLL cells</text>
<rect x="40.75" y="331.36" width="8.6" height="20.94" fill="#1f5b94"/><rect x="51.00" y="339.41" width="8.6" height="12.89" fill="#1f5b94"/><rect x="61.25" y="325.45" width="8.6" height="26.85" fill="#1f5b94"/><rect x="71.50" y="339.41" width="8.6" height="12.89" fill="#1f5b94"/><rect x="81.75" y="349.26" width="8.6" height="3.04" fill="#1f5b94"/><rect x="92.00" y="343.71" width="8.6" height="8.59" fill="#1f5b94"/><rect x="102.25" y="348.36" width="8.6" height="3.94" fill="#1f5b94"/><rect x="112.50" y="332.16" width="8.6" height="20.14" fill="#1f5b94"/><rect x="122.75" y="326.70" width="8.6" height="25.60" fill="#1f5b94"/><rect x="133.00" y="343.89" width="8.6" height="8.41" fill="#1f5b94"/><rect x="143.25" y="331.72" width="8.6" height="20.59" fill="#1f5b94"/><rect x="153.50" y="343.89" width="8.6" height="8.41" fill="#1f5b94"/><rect x="163.75" y="349.97" width="8.6" height="2.33" fill="#1f5b94"/><rect x="174.00" y="351.05" width="8.6" height="1.25" fill="#1f5b94"/><rect x="184.25" y="350.69" width="8.6" height="1.61" fill="#1f5b94"/><rect x="194.50" y="350.33" width="8.6" height="1.97" fill="#1f5b94"/><rect x="204.75" y="351.76" width="8.6" height="0.54" fill="#1f5b94"/><rect x="215.00" y="351.76" width="8.6" height="0.54" fill="#1f5b94"/><rect x="225.25" y="351.05" width="8.6" height="1.25" fill="#1f5b94"/><rect x="235.50" y="351.94" width="8.6" height="0.36" fill="#1f5b94"/>
<path d="M38.75,322.25 V352.30 H250.5 M35.8,352.30 H38.75 M35.8,343.35 H38.75 M35.8,334.40 H38.75 M35.8,325.45 H38.75" stroke="#231f20" stroke-width="0.9" fill="none"/>
<text x="32.90" y="355.10" font-size="8.3" fill="#231f20" text-anchor="end" font-weight="normal" stroke="#231f20" stroke-width="0.16" >0.00</text>
<text x="32.90" y="346.15" font-size="8.3" fill="#231f20" text-anchor="end" font-weight="normal" stroke="#231f20" stroke-width="0.16" >0.05</text>
<text x="32.90" y="337.20" font-size="8.3" fill="#231f20" text-anchor="end" font-weight="normal" stroke="#231f20" stroke-width="0.16" >0.10</text>
<text x="32.90" y="328.25" font-size="8.3" fill="#231f20" text-anchor="end" font-weight="normal" stroke="#231f20" stroke-width="0.16" >0.15</text>
<rect x="40.75" y="400.38" width="8.6" height="0.52" fill="#c8173a"/><rect x="51.00" y="400.38" width="8.6" height="0.52" fill="#c8173a"/><rect x="61.25" y="399.52" width="8.6" height="1.38" fill="#c8173a"/><rect x="71.50" y="399.18" width="8.6" height="1.72" fill="#c8173a"/><rect x="81.75" y="400.38" width="8.6" height="0.52" fill="#c8173a"/><rect x="92.00" y="397.98" width="8.6" height="2.92" fill="#c8173a"/><rect x="102.25" y="399.52" width="8.6" height="1.38" fill="#c8173a"/><rect x="112.50" y="388.17" width="8.6" height="12.73" fill="#c8173a"/><rect x="122.75" y="381.81" width="8.6" height="19.09" fill="#c8173a"/><rect x="133.00" y="394.54" width="8.6" height="6.36" fill="#c8173a"/><rect x="143.25" y="384.56" width="8.6" height="16.34" fill="#c8173a"/><rect x="153.50" y="389.03" width="8.6" height="11.87" fill="#c8173a"/><rect x="163.75" y="395.05" width="8.6" height="5.85" fill="#c8173a"/><rect x="174.00" y="392.47" width="8.6" height="8.43" fill="#c8173a"/><rect x="184.25" y="384.56" width="8.6" height="16.34" fill="#c8173a"/><rect x="194.50" y="379.40" width="8.6" height="21.50" fill="#c8173a"/><rect x="204.75" y="398.15" width="8.6" height="2.75" fill="#c8173a"/><rect x="215.00" y="391.10" width="8.6" height="9.80" fill="#c8173a"/><rect x="225.25" y="376.48" width="8.6" height="24.42" fill="#c8173a"/><rect x="235.50" y="394.02" width="8.6" height="6.88" fill="#c8173a"/>
<path d="M38.75,371.90 V400.90 H250.5 M35.8,400.90 H38.75 M35.8,392.30 H38.75 M35.8,383.70 H38.75 M35.8,375.10 H38.75" stroke="#231f20" stroke-width="0.9" fill="none"/>
<path d="M45.05,400.90 v2 M55.30,400.90 v2 M65.55,400.90 v2 M75.80,400.90 v2 M86.05,400.90 v2 M96.30,400.90 v2 M106.55,400.90 v2 M116.80,400.90 v2 M127.05,400.90 v2 M137.30,400.90 v2 M147.55,400.90 v2 M157.80,400.90 v2 M168.05,400.90 v2 M178.30,400.90 v2 M188.55,400.90 v2 M198.80,400.90 v2 M209.05,400.90 v2 M219.30,400.90 v2 M229.55,400.90 v2 M239.80,400.90 v2" stroke="#231f20" stroke-width="0.7" fill="none"/>
<text x="32.90" y="403.70" font-size="8.3" fill="#231f20" text-anchor="end" font-weight="normal" stroke="#231f20" stroke-width="0.16" >0.00</text>
<text x="32.90" y="395.10" font-size="8.3" fill="#231f20" text-anchor="end" font-weight="normal" stroke="#231f20" stroke-width="0.16" >0.05</text>
<text x="32.90" y="386.50" font-size="8.3" fill="#231f20" text-anchor="end" font-weight="normal" stroke="#231f20" stroke-width="0.16" >0.10</text>
<text x="32.90" y="377.90" font-size="8.3" fill="#231f20" text-anchor="end" font-weight="normal" stroke="#231f20" stroke-width="0.16" >0.15</text>
<text x="9.80" y="361.20" font-size="7.95" fill="#231f20" text-anchor="middle" font-weight="normal" stroke="#231f20" stroke-width="0.16" transform="rotate(-90 9.8 361.2)">Normalized proportions</text>
<text x="0.30" y="413.90" font-size="8.1" fill="#231f20" text-anchor="start" font-weight="normal" stroke="#231f20" stroke-width="0.16" >Cluster ID</text>
<text x="45.05" y="413.90" font-size="8.0" fill="#231f20" text-anchor="middle" font-weight="normal" stroke="#231f20" stroke-width="0.16" >10</text>
<text x="55.30" y="413.90" font-size="8.0" fill="#231f20" text-anchor="middle" font-weight="normal" stroke="#231f20" stroke-width="0.16" >13</text>
<text x="65.55" y="413.90" font-size="8.0" fill="#231f20" text-anchor="middle" font-weight="normal" stroke="#231f20" stroke-width="0.16" >7</text>
<text x="75.80" y="413.90" font-size="8.0" fill="#231f20" text-anchor="middle" font-weight="normal" stroke="#231f20" stroke-width="0.16" >12</text>
<text x="86.05" y="413.90" font-size="8.0" fill="#231f20" text-anchor="middle" font-weight="normal" stroke="#231f20" stroke-width="0.16" >19</text>
<text x="96.30" y="413.90" font-size="8.0" fill="#231f20" text-anchor="middle" font-weight="normal" stroke="#231f20" stroke-width="0.16" >14</text>
<text x="106.55" y="413.90" font-size="8.0" fill="#231f20" text-anchor="middle" font-weight="normal" stroke="#231f20" stroke-width="0.16" >18</text>
<text x="116.80" y="413.90" font-size="8.0" fill="#231f20" text-anchor="middle" font-weight="normal" stroke="#231f20" stroke-width="0.16" >2</text>
<text x="127.05" y="413.90" font-size="8.0" fill="#231f20" text-anchor="middle" font-weight="normal" stroke="#231f20" stroke-width="0.16" >0</text>
<text x="137.30" y="413.90" font-size="8.0" fill="#231f20" text-anchor="middle" font-weight="normal" stroke="#231f20" stroke-width="0.16" >9</text>
<text x="147.55" y="413.90" font-size="8.0" fill="#231f20" text-anchor="middle" font-weight="normal" stroke="#231f20" stroke-width="0.16" >1</text>
<text x="157.80" y="413.90" font-size="8.0" fill="#231f20" text-anchor="middle" font-weight="normal" stroke="#231f20" stroke-width="0.16" >6</text>
<text x="168.05" y="413.90" font-size="8.0" fill="#231f20" text-anchor="middle" font-weight="normal" stroke="#231f20" stroke-width="0.16" >16</text>
<text x="178.30" y="413.90" font-size="8.0" fill="#231f20" text-anchor="middle" font-weight="normal" stroke="#231f20" stroke-width="0.16" >3</text>
<text x="188.55" y="413.90" font-size="8.0" fill="#231f20" text-anchor="middle" font-weight="normal" stroke="#231f20" stroke-width="0.16" >8</text>
<text x="198.80" y="413.90" font-size="8.0" fill="#231f20" text-anchor="middle" font-weight="normal" stroke="#231f20" stroke-width="0.16" >5</text>
<text x="209.05" y="413.90" font-size="8.0" fill="#231f20" text-anchor="middle" font-weight="normal" stroke="#231f20" stroke-width="0.16" >20</text>
<text x="219.30" y="413.90" font-size="8.0" fill="#231f20" text-anchor="middle" font-weight="normal" stroke="#231f20" stroke-width="0.16" >11</text>
<text x="229.55" y="413.90" font-size="8.0" fill="#231f20" text-anchor="middle" font-weight="normal" stroke="#231f20" stroke-width="0.16" >4</text>
<text x="239.80" y="413.90" font-size="8.0" fill="#231f20" text-anchor="middle" font-weight="normal" stroke="#231f20" stroke-width="0.16" >17</text>
<rect x="40.00" y="428.00" width="10.30" height="7.77" fill="#f8f5d6"/><rect x="50.25" y="428.00" width="10.30" height="7.77" fill="#e4f0f4"/><rect x="60.50" y="428.00" width="10.30" height="7.77" fill="#f8f5d6"/><rect x="70.75" y="428.00" width="10.30" height="7.77" fill="#98bde0"/><rect x="81.00" y="428.00" width="10.30" height="7.77" fill="#d9302b"/><rect x="91.25" y="428.00" width="10.30" height="7.77" fill="#bcd6ea"/><rect x="101.50" y="428.00" width="10.30" height="7.77" fill="#e4f0f4"/><rect x="111.75" y="428.00" width="10.30" height="7.77" fill="#74a3d3"/><rect x="122.00" y="428.00" width="10.30" height="7.77" fill="#fbeaa0"/><rect x="132.25" y="428.00" width="10.30" height="7.77" fill="#74a3d3"/><rect x="142.50" y="428.00" width="10.30" height="7.77" fill="#fde49a"/><rect x="152.75" y="428.00" width="10.30" height="7.77" fill="#74a3d3"/><rect x="163.00" y="428.00" width="10.30" height="7.77" fill="#74a3d3"/><rect x="173.25" y="428.00" width="10.30" height="7.77" fill="#74a3d3"/><rect x="183.50" y="428.00" width="10.30" height="7.77" fill="#98bde0"/><rect x="193.75" y="428.00" width="10.30" height="7.77" fill="#74a3d3"/><rect x="204.00" y="428.00" width="10.30" height="7.77" fill="#98bde0"/><rect x="214.25" y="428.00" width="10.30" height="7.77" fill="#98bde0"/><rect x="224.50" y="428.00" width="10.30" height="7.77" fill="#98bde0"/><rect x="234.75" y="428.00" width="10.30" height="7.77" fill="#98bde0"/><rect x="40.00" y="435.72" width="10.30" height="7.77" fill="#d9302b"/><rect x="50.25" y="435.72" width="10.30" height="7.77" fill="#f9b66e"/><rect x="60.50" y="435.72" width="10.30" height="7.77" fill="#fde49a"/><rect x="70.75" y="435.72" width="10.30" height="7.77" fill="#d9302b"/><rect x="81.00" y="435.72" width="10.30" height="7.77" fill="#d9302b"/><rect x="91.25" y="435.72" width="10.30" height="7.77" fill="#98bde0"/><rect x="101.50" y="435.72" width="10.30" height="7.77" fill="#98bde0"/><rect x="111.75" y="435.72" width="10.30" height="7.77" fill="#74a3d3"/><rect x="122.00" y="435.72" width="10.30" height="7.77" fill="#74a3d3"/><rect x="132.25" y="435.72" width="10.30" height="7.77" fill="#bcd6ea"/><rect x="142.50" y="435.72" width="10.30" height="7.77" fill="#74a3d3"/><rect x="152.75" y="435.72" width="10.30" height="7.77" fill="#98bde0"/><rect x="163.00" y="435.72" width="10.30" height="7.77" fill="#5585c4"/><rect x="173.25" y="435.72" width="10.30" height="7.77" fill="#bcd6ea"/><rect x="183.50" y="435.72" width="10.30" height="7.77" fill="#98bde0"/><rect x="193.75" y="435.72" width="10.30" height="7.77" fill="#bcd6ea"/><rect x="204.00" y="435.72" width="10.30" height="7.77" fill="#98bde0"/><rect x="214.25" y="435.72" width="10.30" height="7.77" fill="#98bde0"/><rect x="224.50" y="435.72" width="10.30" height="7.77" fill="#98bde0"/><rect x="234.75" y="435.72" width="10.30" height="7.77" fill="#98bde0"/><rect x="40.00" y="443.44" width="10.30" height="7.77" fill="#f8f5d6"/><rect x="50.25" y="443.44" width="10.30" height="7.77" fill="#d9302b"/><rect x="60.50" y="443.44" width="10.30" height="7.77" fill="#74a3d3"/><rect x="70.75" y="443.44" width="10.30" height="7.77" fill="#d9302b"/><rect x="81.00" y="443.44" width="10.30" height="7.77" fill="#e4f0f4"/><rect x="91.25" y="443.44" width="10.30" height="7.77" fill="#74a3d3"/><rect x="101.50" y="443.44" width="10.30" height="7.77" fill="#74a3d3"/><rect x="111.75" y="443.44" width="10.30" height="7.77" fill="#f26b41"/><rect x="122.00" y="443.44" width="10.30" height="7.77" fill="#74a3d3"/><rect x="132.25" y="443.44" width="10.30" height="7.77" fill="#e4f0f4"/><rect x="142.50" y="443.44" width="10.30" height="7.77" fill="#98bde0"/><rect x="152.75" y="443.44" width="10.30" height="7.77" fill="#98bde0"/><rect x="163.00" y="443.44" width="10.30" height="7.77" fill="#e4f0f4"/><rect x="173.25" y="443.44" width="10.30" height="7.77" fill="#74a3d3"/><rect x="183.50" y="443.44" width="10.30" height="7.77" fill="#98bde0"/><rect x="193.75" y="443.44" width="10.30" height="7.77" fill="#74a3d3"/><rect x="204.00" y="443.44" width="10.30" height="7.77" fill="#98bde0"/><rect x="214.25" y="443.44" width="10.30" height="7.77" fill="#98bde0"/><rect x="224.50" y="443.44" width="10.30" height="7.77" fill="#98bde0"/><rect x="234.75" y="443.44" width="10.30" height="7.77" fill="#98bde0"/><rect x="40.00" y="451.16" width="10.30" height="7.77" fill="#e4f0f4"/><rect x="50.25" y="451.16" width="10.30" height="7.77" fill="#f8f5d6"/><rect x="60.50" y="451.16" width="10.30" height="7.77" fill="#f26b41"/><rect x="70.75" y="451.16" width="10.30" height="7.77" fill="#bcd6ea"/><rect x="81.00" y="451.16" width="10.30" height="7.77" fill="#e4f0f4"/><rect x="91.25" y="451.16" width="10.30" height="7.77" fill="#f8f5d6"/><rect x="101.50" y="451.16" width="10.30" height="7.77" fill="#f8f5d6"/><rect x="111.75" y="451.16" width="10.30" height="7.77" fill="#74a3d3"/><rect x="122.00" y="451.16" width="10.30" height="7.77" fill="#bcd6ea"/><rect x="132.25" y="451.16" width="10.30" height="7.77" fill="#98bde0"/><rect x="142.50" y="451.16" width="10.30" height="7.77" fill="#fde49a"/><rect x="152.75" y="451.16" width="10.30" height="7.77" fill="#74a3d3"/><rect x="163.00" y="451.16" width="10.30" height="7.77" fill="#98bde0"/><rect x="173.25" y="451.16" width="10.30" height="7.77" fill="#74a3d3"/><rect x="183.50" y="451.16" width="10.30" height="7.77" fill="#98bde0"/><rect x="193.75" y="451.16" width="10.30" height="7.77" fill="#74a3d3"/><rect x="204.00" y="451.16" width="10.30" height="7.77" fill="#98bde0"/><rect x="214.25" y="451.16" width="10.30" height="7.77" fill="#98bde0"/><rect x="224.50" y="451.16" width="10.30" height="7.77" fill="#98bde0"/><rect x="234.75" y="451.16" width="10.30" height="7.77" fill="#98bde0"/><rect x="40.00" y="458.88" width="10.30" height="7.77" fill="#f9b66e"/><rect x="50.25" y="458.88" width="10.30" height="7.77" fill="#fde49a"/><rect x="60.50" y="458.88" width="10.30" height="7.77" fill="#e4f0f4"/><rect x="70.75" y="458.88" width="10.30" height="7.77" fill="#74a3d3"/><rect x="81.00" y="458.88" width="10.30" height="7.77" fill="#f8f5d6"/><rect x="91.25" y="458.88" width="10.30" height="7.77" fill="#d9302b"/><rect x="101.50" y="458.88" width="10.30" height="7.77" fill="#f8f5d6"/><rect x="111.75" y="458.88" width="10.30" height="7.77" fill="#98bde0"/><rect x="122.00" y="458.88" width="10.30" height="7.77" fill="#e4f0f4"/><rect x="132.25" y="458.88" width="10.30" height="7.77" fill="#d3e5f0"/><rect x="142.50" y="458.88" width="10.30" height="7.77" fill="#bcd6ea"/><rect x="152.75" y="458.88" width="10.30" height="7.77" fill="#e4f0f4"/><rect x="163.00" y="458.88" width="10.30" height="7.77" fill="#bcd6ea"/><rect x="173.25" y="458.88" width="10.30" height="7.77" fill="#74a3d3"/><rect x="183.50" y="458.88" width="10.30" height="7.77" fill="#98bde0"/><rect x="193.75" y="458.88" width="10.30" height="7.77" fill="#74a3d3"/><rect x="204.00" y="458.88" width="10.30" height="7.77" fill="#98bde0"/><rect x="214.25" y="458.88" width="10.30" height="7.77" fill="#98bde0"/><rect x="224.50" y="458.88" width="10.30" height="7.77" fill="#98bde0"/><rect x="234.75" y="458.88" width="10.30" height="7.77" fill="#98bde0"/><rect x="40.00" y="466.60" width="10.30" height="7.77" fill="#e4f0f4"/><rect x="50.25" y="466.60" width="10.30" height="7.77" fill="#e4f0f4"/><rect x="60.50" y="466.60" width="10.30" height="7.77" fill="#d9302b"/><rect x="70.75" y="466.60" width="10.30" height="7.77" fill="#74a3d3"/><rect x="81.00" y="466.60" width="10.30" height="7.77" fill="#f8f5d6"/><rect x="91.25" y="466.60" width="10.30" height="7.77" fill="#f8f5d6"/><rect x="101.50" y="466.60" width="10.30" height="7.77" fill="#d9302b"/><rect x="111.75" y="466.60" width="10.30" height="7.77" fill="#74a3d3"/><rect x="122.00" y="466.60" width="10.30" height="7.77" fill="#f8f5d6"/><rect x="132.25" y="466.60" width="10.30" height="7.77" fill="#74a3d3"/><rect x="142.50" y="466.60" width="10.30" height="7.77" fill="#98bde0"/><rect x="152.75" y="466.60" width="10.30" height="7.77" fill="#74a3d3"/><rect x="163.00" y="466.60" width="10.30" height="7.77" fill="#74a3d3"/><rect x="173.25" y="466.60" width="10.30" height="7.77" fill="#74a3d3"/><rect x="183.50" y="466.60" width="10.30" height="7.77" fill="#98bde0"/><rect x="193.75" y="466.60" width="10.30" height="7.77" fill="#74a3d3"/><rect x="204.00" y="466.60" width="10.30" height="7.77" fill="#98bde0"/><rect x="214.25" y="466.60" width="10.30" height="7.77" fill="#98bde0"/><rect x="224.50" y="466.60" width="10.30" height="7.77" fill="#98bde0"/><rect x="234.75" y="466.60" width="10.30" height="7.77" fill="#98bde0"/><rect x="40.00" y="474.32" width="10.30" height="7.77" fill="#bcd6ea"/><rect x="50.25" y="474.32" width="10.30" height="7.77" fill="#e4f0f4"/><rect x="60.50" y="474.32" width="10.30" height="7.77" fill="#f8f5d6"/><rect x="70.75" y="474.32" width="10.30" height="7.77" fill="#74a3d3"/><rect x="81.00" y="474.32" width="10.30" height="7.77" fill="#bcd6ea"/><rect x="91.25" y="474.32" width="10.30" height="7.77" fill="#e4f0f4"/><rect x="101.50" y="474.32" width="10.30" height="7.77" fill="#74a3d3"/><rect x="111.75" y="474.32" width="10.30" height="7.77" fill="#bcd6ea"/><rect x="122.00" y="474.32" width="10.30" height="7.77" fill="#bcd6ea"/><rect x="132.25" y="474.32" width="10.30" height="7.77" fill="#e4f0f4"/><rect x="142.50" y="474.32" width="10.30" height="7.77" fill="#e4f0f4"/><rect x="152.75" y="474.32" width="10.30" height="7.77" fill="#f26b41"/><rect x="163.00" y="474.32" width="10.30" height="7.77" fill="#74a3d3"/><rect x="173.25" y="474.32" width="10.30" height="7.77" fill="#74a3d3"/><rect x="183.50" y="474.32" width="10.30" height="7.77" fill="#98bde0"/><rect x="193.75" y="474.32" width="10.30" height="7.77" fill="#74a3d3"/><rect x="204.00" y="474.32" width="10.30" height="7.77" fill="#98bde0"/><rect x="214.25" y="474.32" width="10.30" height="7.77" fill="#98bde0"/><rect x="224.50" y="474.32" width="10.30" height="7.77" fill="#98bde0"/><rect x="234.75" y="474.32" width="10.30" height="7.77" fill="#98bde0"/><rect x="40.00" y="484.20" width="10.30" height="7.9" fill="#74a3d3"/><rect x="50.25" y="484.20" width="10.30" height="7.9" fill="#74a3d3"/><rect x="60.50" y="484.20" width="10.30" height="7.9" fill="#74a3d3"/><rect x="70.75" y="484.20" width="10.30" height="7.9" fill="#74a3d3"/><rect x="81.00" y="484.20" width="10.30" height="7.9" fill="#5585c4"/><rect x="91.25" y="484.20" width="10.30" height="7.9" fill="#74a3d3"/><rect x="101.50" y="484.20" width="10.30" height="7.9" fill="#74a3d3"/><rect x="111.75" y="484.20" width="10.30" height="7.9" fill="#98bde0"/><rect x="122.00" y="484.20" width="10.30" height="7.9" fill="#74a3d3"/><rect x="132.25" y="484.20" width="10.30" height="7.9" fill="#e4f0f4"/><rect x="142.50" y="484.20" width="10.30" height="7.9" fill="#74a3d3"/><rect x="152.75" y="484.20" width="10.30" height="7.9" fill="#fde49a"/><rect x="163.00" y="484.20" width="10.30" height="7.9" fill="#74a3d3"/><rect x="173.25" y="484.20" width="10.30" height="7.9" fill="#f8f5d6"/><rect x="183.50" y="484.20" width="10.30" height="7.9" fill="#98bde0"/><rect x="193.75" y="484.20" width="10.30" height="7.9" fill="#98bde0"/><rect x="204.00" y="484.20" width="10.30" height="7.9" fill="#98bde0"/><rect x="214.25" y="484.20" width="10.30" height="7.9" fill="#d9302b"/><rect x="224.50" y="484.20" width="10.30" height="7.9" fill="#98bde0"/><rect x="234.75" y="484.20" width="10.30" height="7.9" fill="#98bde0"/><rect x="40.00" y="492.05" width="10.30" height="7.9" fill="#74a3d3"/><rect x="50.25" y="492.05" width="10.30" height="7.9" fill="#74a3d3"/><rect x="60.50" y="492.05" width="10.30" height="7.9" fill="#74a3d3"/><rect x="70.75" y="492.05" width="10.30" height="7.9" fill="#74a3d3"/><rect x="81.00" y="492.05" width="10.30" height="7.9" fill="#74a3d3"/><rect x="91.25" y="492.05" width="10.30" height="7.9" fill="#74a3d3"/><rect x="101.50" y="492.05" width="10.30" height="7.9" fill="#74a3d3"/><rect x="111.75" y="492.05" width="10.30" height="7.9" fill="#98bde0"/><rect x="122.00" y="492.05" width="10.30" height="7.9" fill="#74a3d3"/><rect x="132.25" y="492.05" width="10.30" height="7.9" fill="#74a3d3"/><rect x="142.50" y="492.05" width="10.30" height="7.9" fill="#74a3d3"/><rect x="152.75" y="492.05" width="10.30" height="7.9" fill="#74a3d3"/><rect x="163.00" y="492.05" width="10.30" height="7.9" fill="#bcd6ea"/><rect x="173.25" y="492.05" width="10.30" height="7.9" fill="#d9302b"/><rect x="183.50" y="492.05" width="10.30" height="7.9" fill="#74a3d3"/><rect x="193.75" y="492.05" width="10.30" height="7.9" fill="#d9302b"/><rect x="204.00" y="492.05" width="10.30" height="7.9" fill="#98bde0"/><rect x="214.25" y="492.05" width="10.30" height="7.9" fill="#98bde0"/><rect x="224.50" y="492.05" width="10.30" height="7.9" fill="#bcd6ea"/><rect x="234.75" y="492.05" width="10.30" height="7.9" fill="#98bde0"/><rect x="40.00" y="499.90" width="10.30" height="7.9" fill="#98bde0"/><rect x="50.25" y="499.90" width="10.30" height="7.9" fill="#98bde0"/><rect x="60.50" y="499.90" width="10.30" height="7.9" fill="#74a3d3"/><rect x="70.75" y="499.90" width="10.30" height="7.9" fill="#bcd6ea"/><rect x="81.00" y="499.90" width="10.30" height="7.9" fill="#74a3d3"/><rect x="91.25" y="499.90" width="10.30" height="7.9" fill="#74a3d3"/><rect x="101.50" y="499.90" width="10.30" height="7.9" fill="#74a3d3"/><rect x="111.75" y="499.90" width="10.30" height="7.9" fill="#98bde0"/><rect x="122.00" y="499.90" width="10.30" height="7.9" fill="#74a3d3"/><rect x="132.25" y="499.90" width="10.30" height="7.9" fill="#d9302b"/><rect x="142.50" y="499.90" width="10.30" height="7.9" fill="#98bde0"/><rect x="152.75" y="499.90" width="10.30" height="7.9" fill="#98bde0"/><rect x="163.00" y="499.90" width="10.30" height="7.9" fill="#74a3d3"/><rect x="173.25" y="499.90" width="10.30" height="7.9" fill="#e4f0f4"/><rect x="183.50" y="499.90" width="10.30" height="7.9" fill="#f9b66e"/><rect x="193.75" y="499.90" width="10.30" height="7.9" fill="#bcd6ea"/><rect x="204.00" y="499.90" width="10.30" height="7.9" fill="#98bde0"/><rect x="214.25" y="499.90" width="10.30" height="7.9" fill="#98bde0"/><rect x="224.50" y="499.90" width="10.30" height="7.9" fill="#98bde0"/><rect x="234.75" y="499.90" width="10.30" height="7.9" fill="#98bde0"/><rect x="40.00" y="507.75" width="10.30" height="7.9" fill="#74a3d3"/><rect x="50.25" y="507.75" width="10.30" height="7.9" fill="#74a3d3"/><rect x="60.50" y="507.75" width="10.30" height="7.9" fill="#74a3d3"/><rect x="70.75" y="507.75" width="10.30" height="7.9" fill="#74a3d3"/><rect x="81.00" y="507.75" width="10.30" height="7.9" fill="#98bde0"/><rect x="91.25" y="507.75" width="10.30" height="7.9" fill="#74a3d3"/><rect x="101.50" y="507.75" width="10.30" height="7.9" fill="#74a3d3"/><rect x="111.75" y="507.75" width="10.30" height="7.9" fill="#f8f5d6"/><rect x="122.00" y="507.75" width="10.30" height="7.9" fill="#74a3d3"/><rect x="132.25" y="507.75" width="10.30" height="7.9" fill="#bcd6ea"/><rect x="142.50" y="507.75" width="10.30" height="7.9" fill="#98bde0"/><rect x="152.75" y="507.75" width="10.30" height="7.9" fill="#fdf0b0"/><rect x="163.00" y="507.75" width="10.30" height="7.9" fill="#98bde0"/><rect x="173.25" y="507.75" width="10.30" height="7.9" fill="#e4f0f4"/><rect x="183.50" y="507.75" width="10.30" height="7.9" fill="#e4f0f4"/><rect x="193.75" y="507.75" width="10.30" height="7.9" fill="#f08a4b"/><rect x="204.00" y="507.75" width="10.30" height="7.9" fill="#98bde0"/><rect x="214.25" y="507.75" width="10.30" height="7.9" fill="#98bde0"/><rect x="224.50" y="507.75" width="10.30" height="7.9" fill="#98bde0"/><rect x="234.75" y="507.75" width="10.30" height="7.9" fill="#98bde0"/><rect x="40.00" y="515.60" width="10.30" height="7.9" fill="#74a3d3"/><rect x="50.25" y="515.60" width="10.30" height="7.9" fill="#74a3d3"/><rect x="60.50" y="515.60" width="10.30" height="7.9" fill="#74a3d3"/><rect x="70.75" y="515.60" width="10.30" height="7.9" fill="#e4f0f4"/><rect x="81.00" y="515.60" width="10.30" height="7.9" fill="#74a3d3"/><rect x="91.25" y="515.60" width="10.30" height="7.9" fill="#74a3d3"/><rect x="101.50" y="515.60" width="10.30" height="7.9" fill="#74a3d3"/><rect x="111.75" y="515.60" width="10.30" height="7.9" fill="#d9302b"/><rect x="122.00" y="515.60" width="10.30" height="7.9" fill="#74a3d3"/><rect x="132.25" y="515.60" width="10.30" height="7.9" fill="#98bde0"/><rect x="142.50" y="515.60" width="10.30" height="7.9" fill="#98bde0"/><rect x="152.75" y="515.60" width="10.30" height="7.9" fill="#74a3d3"/><rect x="163.00" y="515.60" width="10.30" height="7.9" fill="#f8f5d6"/><rect x="173.25" y="515.60" width="10.30" height="7.9" fill="#98bde0"/><rect x="183.50" y="515.60" width="10.30" height="7.9" fill="#bcd6ea"/><rect x="193.75" y="515.60" width="10.30" height="7.9" fill="#bcd6ea"/><rect x="204.00" y="515.60" width="10.30" height="7.9" fill="#98bde0"/><rect x="214.25" y="515.60" width="10.30" height="7.9" fill="#98bde0"/><rect x="224.50" y="515.60" width="10.30" height="7.9" fill="#98bde0"/><rect x="234.75" y="515.60" width="10.30" height="7.9" fill="#98bde0"/><rect x="40.00" y="523.45" width="10.30" height="7.9" fill="#74a3d3"/><rect x="50.25" y="523.45" width="10.30" height="7.9" fill="#74a3d3"/><rect x="60.50" y="523.45" width="10.30" height="7.9" fill="#98bde0"/><rect x="70.75" y="523.45" width="10.30" height="7.9" fill="#74a3d3"/><rect x="81.00" y="523.45" width="10.30" height="7.9" fill="#74a3d3"/><rect x="91.25" y="523.45" width="10.30" height="7.9" fill="#e4f0f4"/><rect x="101.50" y="523.45" width="10.30" height="7.9" fill="#fde49a"/><rect x="111.75" y="523.45" width="10.30" height="7.9" fill="#74a3d3"/><rect x="122.00" y="523.45" width="10.30" height="7.9" fill="#d9302b"/><rect x="132.25" y="523.45" width="10.30" height="7.9" fill="#74a3d3"/><rect x="142.50" y="523.45" width="10.30" height="7.9" fill="#74a3d3"/><rect x="152.75" y="523.45" width="10.30" height="7.9" fill="#74a3d3"/><rect x="163.00" y="523.45" width="10.30" height="7.9" fill="#74a3d3"/><rect x="173.25" y="523.45" width="10.30" height="7.9" fill="#74a3d3"/><rect x="183.50" y="523.45" width="10.30" height="7.9" fill="#74a3d3"/><rect x="193.75" y="523.45" width="10.30" height="7.9" fill="#74a3d3"/><rect x="204.00" y="523.45" width="10.30" height="7.9" fill="#98bde0"/><rect x="214.25" y="523.45" width="10.30" height="7.9" fill="#98bde0"/><rect x="224.50" y="523.45" width="10.30" height="7.9" fill="#98bde0"/><rect x="234.75" y="523.45" width="10.30" height="7.9" fill="#98bde0"/><rect x="40.00" y="531.30" width="10.30" height="7.9" fill="#74a3d3"/><rect x="50.25" y="531.30" width="10.30" height="7.9" fill="#74a3d3"/><rect x="60.50" y="531.30" width="10.30" height="7.9" fill="#74a3d3"/><rect x="70.75" y="531.30" width="10.30" height="7.9" fill="#74a3d3"/><rect x="81.00" y="531.30" width="10.30" height="7.9" fill="#5585c4"/><rect x="91.25" y="531.30" width="10.30" height="7.9" fill="#74a3d3"/><rect x="101.50" y="531.30" width="10.30" height="7.9" fill="#74a3d3"/><rect x="111.75" y="531.30" width="10.30" height="7.9" fill="#98bde0"/><rect x="122.00" y="531.30" width="10.30" height="7.9" fill="#74a3d3"/><rect x="132.25" y="531.30" width="10.30" height="7.9" fill="#98bde0"/><rect x="142.50" y="531.30" width="10.30" height="7.9" fill="#74a3d3"/><rect x="152.75" y="531.30" width="10.30" height="7.9" fill="#74a3d3"/><rect x="163.00" y="531.30" width="10.30" height="7.9" fill="#74a3d3"/><rect x="173.25" y="531.30" width="10.30" height="7.9" fill="#d9302b"/><rect x="183.50" y="531.30" width="10.30" height="7.9" fill="#d9302b"/><rect x="193.75" y="531.30" width="10.30" height="7.9" fill="#98bde0"/><rect x="204.00" y="531.30" width="10.30" height="7.9" fill="#d9302b"/><rect x="214.25" y="531.30" width="10.30" height="7.9" fill="#98bde0"/><rect x="224.50" y="531.30" width="10.30" height="7.9" fill="#98bde0"/><rect x="234.75" y="531.30" width="10.30" height="7.9" fill="#98bde0"/><rect x="40.00" y="539.15" width="10.30" height="7.9" fill="#74a3d3"/><rect x="50.25" y="539.15" width="10.30" height="7.9" fill="#74a3d3"/><rect x="60.50" y="539.15" width="10.30" height="7.9" fill="#74a3d3"/><rect x="70.75" y="539.15" width="10.30" height="7.9" fill="#74a3d3"/><rect x="81.00" y="539.15" width="10.30" height="7.9" fill="#5585c4"/><rect x="91.25" y="539.15" width="10.30" height="7.9" fill="#74a3d3"/><rect x="101.50" y="539.15" width="10.30" height="7.9" fill="#74a3d3"/><rect x="111.75" y="539.15" width="10.30" height="7.9" fill="#98bde0"/><rect x="122.00" y="539.15" width="10.30" height="7.9" fill="#74a3d3"/><rect x="132.25" y="539.15" width="10.30" height="7.9" fill="#98bde0"/><rect x="142.50" y="539.15" width="10.30" height="7.9" fill="#74a3d3"/><rect x="152.75" y="539.15" width="10.30" height="7.9" fill="#74a3d3"/><rect x="163.00" y="539.15" width="10.30" height="7.9" fill="#bcd6ea"/><rect x="173.25" y="539.15" width="10.30" height="7.9" fill="#f8f5d6"/><rect x="183.50" y="539.15" width="10.30" height="7.9" fill="#98bde0"/><rect x="193.75" y="539.15" width="10.30" height="7.9" fill="#f8f5d6"/><rect x="204.00" y="539.15" width="10.30" height="7.9" fill="#bcd6ea"/><rect x="214.25" y="539.15" width="10.30" height="7.9" fill="#98bde0"/><rect x="224.50" y="539.15" width="10.30" height="7.9" fill="#98bde0"/><rect x="234.75" y="539.15" width="10.30" height="7.9" fill="#d9302b"/><rect x="40.00" y="547.00" width="10.30" height="7.9" fill="#74a3d3"/><rect x="50.25" y="547.00" width="10.30" height="7.9" fill="#74a3d3"/><rect x="60.50" y="547.00" width="10.30" height="7.9" fill="#74a3d3"/><rect x="70.75" y="547.00" width="10.30" height="7.9" fill="#74a3d3"/><rect x="81.00" y="547.00" width="10.30" height="7.9" fill="#74a3d3"/><rect x="91.25" y="547.00" width="10.30" height="7.9" fill="#74a3d3"/><rect x="101.50" y="547.00" width="10.30" height="7.9" fill="#74a3d3"/><rect x="111.75" y="547.00" width="10.30" height="7.9" fill="#bcd6ea"/><rect x="122.00" y="547.00" width="10.30" height="7.9" fill="#74a3d3"/><rect x="132.25" y="547.00" width="10.30" height="7.9" fill="#98bde0"/><rect x="142.50" y="547.00" width="10.30" height="7.9" fill="#74a3d3"/><rect x="152.75" y="547.00" width="10.30" height="7.9" fill="#bcd6ea"/><rect x="163.00" y="547.00" width="10.30" height="7.9" fill="#d9302b"/><rect x="173.25" y="547.00" width="10.30" height="7.9" fill="#98bde0"/><rect x="183.50" y="547.00" width="10.30" height="7.9" fill="#98bde0"/><rect x="193.75" y="547.00" width="10.30" height="7.9" fill="#f8f5d6"/><rect x="204.00" y="547.00" width="10.30" height="7.9" fill="#bcd6ea"/><rect x="214.25" y="547.00" width="10.30" height="7.9" fill="#98bde0"/><rect x="224.50" y="547.00" width="10.30" height="7.9" fill="#d9302b"/><rect x="234.75" y="547.00" width="10.30" height="7.9" fill="#98bde0"/><rect x="40.00" y="554.85" width="10.30" height="7.9" fill="#98bde0"/><rect x="50.25" y="554.85" width="10.30" height="7.9" fill="#98bde0"/><rect x="60.50" y="554.85" width="10.30" height="7.9" fill="#98bde0"/><rect x="70.75" y="554.85" width="10.30" height="7.9" fill="#74a3d3"/><rect x="81.00" y="554.85" width="10.30" height="7.9" fill="#98bde0"/><rect x="91.25" y="554.85" width="10.30" height="7.9" fill="#e4f0f4"/><rect x="101.50" y="554.85" width="10.30" height="7.9" fill="#98bde0"/><rect x="111.75" y="554.85" width="10.30" height="7.9" fill="#bcd6ea"/><rect x="122.00" y="554.85" width="10.30" height="7.9" fill="#98bde0"/><rect x="132.25" y="554.85" width="10.30" height="7.9" fill="#98bde0"/><rect x="142.50" y="554.85" width="10.30" height="7.9" fill="#f8f5d6"/><rect x="152.75" y="554.85" width="10.30" height="7.9" fill="#d9302b"/><rect x="163.00" y="554.85" width="10.30" height="7.9" fill="#bcd6ea"/><rect x="173.25" y="554.85" width="10.30" height="7.9" fill="#98bde0"/><rect x="183.50" y="554.85" width="10.30" height="7.9" fill="#98bde0"/><rect x="193.75" y="554.85" width="10.30" height="7.9" fill="#98bde0"/><rect x="204.00" y="554.85" width="10.30" height="7.9" fill="#98bde0"/><rect x="214.25" y="554.85" width="10.30" height="7.9" fill="#bcd6ea"/><rect x="224.50" y="554.85" width="10.30" height="7.9" fill="#98bde0"/><rect x="234.75" y="554.85" width="10.30" height="7.9" fill="#98bde0"/><rect x="40.00" y="562.70" width="10.30" height="7.9" fill="#74a3d3"/><rect x="50.25" y="562.70" width="10.30" height="7.9" fill="#98bde0"/><rect x="60.50" y="562.70" width="10.30" height="7.9" fill="#98bde0"/><rect x="70.75" y="562.70" width="10.30" height="7.9" fill="#74a3d3"/><rect x="81.00" y="562.70" width="10.30" height="7.9" fill="#74a3d3"/><rect x="91.25" y="562.70" width="10.30" height="7.9" fill="#d9302b"/><rect x="101.50" y="562.70" width="10.30" height="7.9" fill="#fde49a"/><rect x="111.75" y="562.70" width="10.30" height="7.9" fill="#74a3d3"/><rect x="122.00" y="562.70" width="10.30" height="7.9" fill="#f26b41"/><rect x="132.25" y="562.70" width="10.30" height="7.9" fill="#74a3d3"/><rect x="142.50" y="562.70" width="10.30" height="7.9" fill="#98bde0"/><rect x="152.75" y="562.70" width="10.30" height="7.9" fill="#98bde0"/><rect x="163.00" y="562.70" width="10.30" height="7.9" fill="#74a3d3"/><rect x="173.25" y="562.70" width="10.30" height="7.9" fill="#98bde0"/><rect x="183.50" y="562.70" width="10.30" height="7.9" fill="#98bde0"/><rect x="193.75" y="562.70" width="10.30" height="7.9" fill="#98bde0"/><rect x="204.00" y="562.70" width="10.30" height="7.9" fill="#98bde0"/><rect x="214.25" y="562.70" width="10.30" height="7.9" fill="#98bde0"/><rect x="224.50" y="562.70" width="10.30" height="7.9" fill="#98bde0"/><rect x="234.75" y="562.70" width="10.30" height="7.9" fill="#98bde0"/><rect x="40.00" y="570.55" width="10.30" height="7.9" fill="#74a3d3"/><rect x="50.25" y="570.55" width="10.30" height="7.9" fill="#74a3d3"/><rect x="60.50" y="570.55" width="10.30" height="7.9" fill="#74a3d3"/><rect x="70.75" y="570.55" width="10.30" height="7.9" fill="#f8f5d6"/><rect x="81.00" y="570.55" width="10.30" height="7.9" fill="#bcd6ea"/><rect x="91.25" y="570.55" width="10.30" height="7.9" fill="#74a3d3"/><rect x="101.50" y="570.55" width="10.30" height="7.9" fill="#74a3d3"/><rect x="111.75" y="570.55" width="10.30" height="7.9" fill="#98bde0"/><rect x="122.00" y="570.55" width="10.30" height="7.9" fill="#98bde0"/><rect x="132.25" y="570.55" width="10.30" height="7.9" fill="#98bde0"/><rect x="142.50" y="570.55" width="10.30" height="7.9" fill="#d9302b"/><rect x="152.75" y="570.55" width="10.30" height="7.9" fill="#74a3d3"/><rect x="163.00" y="570.55" width="10.30" height="7.9" fill="#f8f5d6"/><rect x="173.25" y="570.55" width="10.30" height="7.9" fill="#98bde0"/><rect x="183.50" y="570.55" width="10.30" height="7.9" fill="#98bde0"/><rect x="193.75" y="570.55" width="10.30" height="7.9" fill="#98bde0"/><rect x="204.00" y="570.55" width="10.30" height="7.9" fill="#bcd6ea"/><rect x="214.25" y="570.55" width="10.30" height="7.9" fill="#98bde0"/><rect x="224.50" y="570.55" width="10.30" height="7.9" fill="#98bde0"/><rect x="234.75" y="570.55" width="10.30" height="7.9" fill="#98bde0"/><rect x="40.00" y="578.40" width="10.30" height="7.9" fill="#74a3d3"/><rect x="50.25" y="578.40" width="10.30" height="7.9" fill="#74a3d3"/><rect x="60.50" y="578.40" width="10.30" height="7.9" fill="#74a3d3"/><rect x="70.75" y="578.40" width="10.30" height="7.9" fill="#74a3d3"/><rect x="81.00" y="578.40" width="10.30" height="7.9" fill="#74a3d3"/><rect x="91.25" y="578.40" width="10.30" height="7.9" fill="#74a3d3"/><rect x="101.50" y="578.40" width="10.30" height="7.9" fill="#74a3d3"/><rect x="111.75" y="578.40" width="10.30" height="7.9" fill="#74a3d3"/><rect x="122.00" y="578.40" width="10.30" height="7.9" fill="#74a3d3"/><rect x="132.25" y="578.40" width="10.30" height="7.9" fill="#74a3d3"/><rect x="142.50" y="578.40" width="10.30" height="7.9" fill="#bcd6ea"/><rect x="152.75" y="578.40" width="10.30" height="7.9" fill="#74a3d3"/><rect x="163.00" y="578.40" width="10.30" height="7.9" fill="#d9302b"/><rect x="173.25" y="578.40" width="10.30" height="7.9" fill="#98bde0"/><rect x="183.50" y="578.40" width="10.30" height="7.9" fill="#98bde0"/><rect x="193.75" y="578.40" width="10.30" height="7.9" fill="#98bde0"/><rect x="204.00" y="578.40" width="10.30" height="7.9" fill="#98bde0"/><rect x="214.25" y="578.40" width="10.30" height="7.9" fill="#98bde0"/><rect x="224.50" y="578.40" width="10.30" height="7.9" fill="#d9302b"/><rect x="234.75" y="578.40" width="10.30" height="7.9" fill="#98bde0"/>
<path d="M50.25,428 V482 M50.25,484.2 V586.3 M60.50,428 V482 M60.50,484.2 V586.3 M70.75,428 V482 M70.75,484.2 V586.3 M81.00,428 V482 M81.00,484.2 V586.3 M91.25,428 V482 M91.25,484.2 V586.3 M101.50,428 V482 M101.50,484.2 V586.3 M111.75,428 V482 M111.75,484.2 V586.3 M122.00,428 V482 M122.00,484.2 V586.3 M132.25,428 V482 M132.25,484.2 V586.3 M142.50,428 V482 M142.50,484.2 V586.3 M152.75,428 V482 M152.75,484.2 V586.3 M163.00,428 V482 M163.00,484.2 V586.3 M173.25,428 V482 M173.25,484.2 V586.3 M183.50,428 V482 M183.50,484.2 V586.3 M193.75,428 V482 M193.75,484.2 V586.3 M204.00,428 V482 M204.00,484.2 V586.3 M214.25,428 V482 M214.25,484.2 V586.3 M224.50,428 V482 M224.50,484.2 V586.3 M234.75,428 V482 M234.75,484.2 V586.3 M40,435.72 H245 M40,443.44 H245 M40,451.16 H245 M40,458.88 H245 M40,466.60 H245 M40,474.32 H245 M40,492.05 H245 M40,499.90 H245 M40,507.75 H245 M40,515.60 H245 M40,523.45 H245 M40,531.30 H245 M40,539.15 H245 M40,547.00 H245 M40,554.85 H245 M40,562.70 H245 M40,570.55 H245 M40,578.40 H245" stroke="#ffffff" stroke-opacity="0.09" stroke-width="0.4" fill="none"/>
<defs><linearGradient id="sbg" x1="0" y1="0" x2="0" y2="1"><stop offset="0" stop-color="#1f66a0"/><stop offset="0.7" stop-color="#1f6f98"/><stop offset="1" stop-color="#1a6e72"/></linearGradient></defs><rect x="35" y="428" width="4" height="54" fill="url(#sbg)"/>
<path d="M35,435.72 H39 M35,443.44 H39 M35,451.16 H39 M35,458.88 H39 M35,466.60 H39 M35,474.32 H39" stroke="#6aa0c0" stroke-width="0.35" fill="none"/>
<rect x="35" y="484.2" width="4" height="102.1" fill="#a0242f"/>
<path d="M35,492.05 H39 M35,499.90 H39 M35,507.75 H39 M35,515.60 H39 M35,523.45 H39 M35,531.30 H39 M35,539.15 H39 M35,547.00 H39 M35,554.85 H39 M35,562.70 H39 M35,570.55 H39 M35,578.40 H39" stroke="#c06070" stroke-width="0.35" fill="none"/>
<text x="27.60" y="457.00" font-size="8.2" fill="#231f20" text-anchor="middle" font-weight="normal" stroke="#231f20" stroke-width="0.16" transform="rotate(-90 27.6 457)">Screening</text>
<text x="27.60" y="535.00" font-size="8.2" fill="#231f20" text-anchor="middle" font-weight="normal" stroke="#231f20" stroke-width="0.16" transform="rotate(-90 27.6 535)">Relapse</text>
<text x="246.90" y="434.50" font-size="7.3" fill="#2a2a2a" text-anchor="start" font-weight="normal" stroke="#2a2a2a" stroke-width="0.1" textLength="14.5" lengthAdjust="spacingAndGlyphs">CLL3</text>
<text x="246.90" y="442.22" font-size="7.3" fill="#2a2a2a" text-anchor="start" font-weight="normal" stroke="#2a2a2a" stroke-width="0.1" textLength="14.5" lengthAdjust="spacingAndGlyphs">CLL6</text>
<text x="246.90" y="449.94" font-size="7.3" fill="#2a2a2a" text-anchor="start" font-weight="normal" stroke="#2a2a2a" stroke-width="0.1" textLength="14.5" lengthAdjust="spacingAndGlyphs">CLL7</text>
<text x="246.90" y="457.66" font-size="7.3" fill="#2a2a2a" text-anchor="start" font-weight="normal" stroke="#2a2a2a" stroke-width="0.1" textLength="18.3" lengthAdjust="spacingAndGlyphs">CLL16</text>
<text x="246.90" y="465.38" font-size="7.3" fill="#2a2a2a" text-anchor="start" font-weight="normal" stroke="#2a2a2a" stroke-width="0.1" textLength="18.3" lengthAdjust="spacingAndGlyphs">CLL23</text>
<text x="246.90" y="473.10" font-size="7.3" fill="#2a2a2a" text-anchor="start" font-weight="normal" stroke="#2a2a2a" stroke-width="0.1" textLength="18.3" lengthAdjust="spacingAndGlyphs">CLL26</text>
<text x="246.90" y="480.82" font-size="7.3" fill="#2a2a2a" text-anchor="start" font-weight="normal" stroke="#2a2a2a" stroke-width="0.1" textLength="18.3" lengthAdjust="spacingAndGlyphs">CLL93</text>
<text x="246.90" y="490.80" font-size="7.3" fill="#2a2a2a" text-anchor="start" font-weight="normal" stroke="#2a2a2a" stroke-width="0.1" textLength="14.5" lengthAdjust="spacingAndGlyphs">CLL2</text>
<text x="246.90" y="498.65" font-size="7.3" fill="#2a2a2a" text-anchor="start" font-weight="normal" stroke="#2a2a2a" stroke-width="0.1" textLength="14.5" lengthAdjust="spacingAndGlyphs">CLL3</text>
<text x="246.90" y="506.50" font-size="7.3" fill="#2a2a2a" text-anchor="start" font-weight="normal" stroke="#2a2a2a" stroke-width="0.1" textLength="14.5" lengthAdjust="spacingAndGlyphs">CLL5</text>
<text x="246.90" y="514.35" font-size="7.3" fill="#2a2a2a" text-anchor="start" font-weight="normal" stroke="#2a2a2a" stroke-width="0.1" textLength="14.5" lengthAdjust="spacingAndGlyphs">CLL6</text>
<text x="246.90" y="522.20" font-size="7.3" fill="#2a2a2a" text-anchor="start" font-weight="normal" stroke="#2a2a2a" stroke-width="0.1" textLength="14.5" lengthAdjust="spacingAndGlyphs">CLL7</text>
<text x="246.90" y="530.05" font-size="7.3" fill="#2a2a2a" text-anchor="start" font-weight="normal" stroke="#2a2a2a" stroke-width="0.1" textLength="14.5" lengthAdjust="spacingAndGlyphs">CLL9</text>
<text x="246.90" y="537.90" font-size="7.3" fill="#2a2a2a" text-anchor="start" font-weight="normal" stroke="#2a2a2a" stroke-width="0.1" textLength="18.3" lengthAdjust="spacingAndGlyphs">CLL12</text>
<text x="246.90" y="545.75" font-size="7.3" fill="#2a2a2a" text-anchor="start" font-weight="normal" stroke="#2a2a2a" stroke-width="0.1" textLength="18.3" lengthAdjust="spacingAndGlyphs">CLL16</text>
<text x="246.90" y="553.60" font-size="7.3" fill="#2a2a2a" text-anchor="start" font-weight="normal" stroke="#2a2a2a" stroke-width="0.1" textLength="18.3" lengthAdjust="spacingAndGlyphs">CLL17</text>
<text x="246.90" y="561.45" font-size="7.3" fill="#2a2a2a" text-anchor="start" font-weight="normal" stroke="#2a2a2a" stroke-width="0.1" textLength="18.3" lengthAdjust="spacingAndGlyphs">CLL23</text>
<text x="246.90" y="569.30" font-size="7.3" fill="#2a2a2a" text-anchor="start" font-weight="normal" stroke="#2a2a2a" stroke-width="0.1" textLength="18.3" lengthAdjust="spacingAndGlyphs">CLL26</text>
<text x="246.90" y="577.15" font-size="7.3" fill="#2a2a2a" text-anchor="start" font-weight="normal" stroke="#2a2a2a" stroke-width="0.1" textLength="18.3" lengthAdjust="spacingAndGlyphs">CLL93</text>
<text x="246.90" y="585.00" font-size="7.3" fill="#2a2a2a" text-anchor="start" font-weight="normal" stroke="#2a2a2a" stroke-width="0.1" textLength="18.3" lengthAdjust="spacingAndGlyphs">CLL95</text>
<text x="44.20" y="595.80" font-size="8.8" fill="#1a1a1a" text-anchor="middle" font-weight="normal" stroke="#1a1a1a" stroke-width="0.16" textLength="6.60" lengthAdjust="spacingAndGlyphs">10</text>
<text x="54.45" y="595.80" font-size="8.8" fill="#1a1a1a" text-anchor="middle" font-weight="normal" stroke="#1a1a1a" stroke-width="0.16" textLength="6.60" lengthAdjust="spacingAndGlyphs">13</text>
<text x="64.70" y="595.80" font-size="8.8" fill="#1a1a1a" text-anchor="middle" font-weight="normal" stroke="#1a1a1a" stroke-width="0.16" textLength="3.70" lengthAdjust="spacingAndGlyphs">7</text>
<text x="74.95" y="595.80" font-size="8.8" fill="#1a1a1a" text-anchor="middle" font-weight="normal" stroke="#1a1a1a" stroke-width="0.16" textLength="6.60" lengthAdjust="spacingAndGlyphs">12</text>
<text x="85.20" y="595.80" font-size="8.8" fill="#1a1a1a" text-anchor="middle" font-weight="normal" stroke="#1a1a1a" stroke-width="0.16" textLength="6.60" lengthAdjust="spacingAndGlyphs">19</text>
<text x="95.45" y="595.80" font-size="8.8" fill="#1a1a1a" text-anchor="middle" font-weight="normal" stroke="#1a1a1a" stroke-width="0.16" textLength="6.60" lengthAdjust="spacingAndGlyphs">14</text>
<text x="105.70" y="595.80" font-size="8.8" fill="#1a1a1a" text-anchor="middle" font-weight="normal" stroke="#1a1a1a" stroke-width="0.16" textLength="6.60" lengthAdjust="spacingAndGlyphs">18</text>
<text x="115.95" y="595.80" font-size="8.8" fill="#1a1a1a" text-anchor="middle" font-weight="normal" stroke="#1a1a1a" stroke-width="0.16" textLength="3.70" lengthAdjust="spacingAndGlyphs">2</text>
<text x="126.20" y="595.80" font-size="8.8" fill="#1a1a1a" text-anchor="middle" font-weight="normal" stroke="#1a1a1a" stroke-width="0.16" textLength="3.70" lengthAdjust="spacingAndGlyphs">0</text>
<text x="136.45" y="595.80" font-size="8.8" fill="#1a1a1a" text-anchor="middle" font-weight="normal" stroke="#1a1a1a" stroke-width="0.16" textLength="3.70" lengthAdjust="spacingAndGlyphs">9</text>
<text x="146.70" y="595.80" font-size="8.8" fill="#1a1a1a" text-anchor="middle" font-weight="normal" stroke="#1a1a1a" stroke-width="0.16" textLength="3.70" lengthAdjust="spacingAndGlyphs">1</text>
<text x="156.95" y="595.80" font-size="8.8" fill="#1a1a1a" text-anchor="middle" font-weight="normal" stroke="#1a1a1a" stroke-width="0.16" textLength="3.70" lengthAdjust="spacingAndGlyphs">6</text>
<text x="167.20" y="595.80" font-size="8.8" fill="#1a1a1a" text-anchor="middle" font-weight="normal" stroke="#1a1a1a" stroke-width="0.16" textLength="6.60" lengthAdjust="spacingAndGlyphs">16</text>
<text x="177.45" y="595.80" font-size="8.8" fill="#1a1a1a" text-anchor="middle" font-weight="normal" stroke="#1a1a1a" stroke-width="0.16" textLength="3.70" lengthAdjust="spacingAndGlyphs">3</text>
<text x="187.70" y="595.80" font-size="8.8" fill="#1a1a1a" text-anchor="middle" font-weight="normal" stroke="#1a1a1a" stroke-width="0.16" textLength="3.70" lengthAdjust="spacingAndGlyphs">8</text>
<text x="197.95" y="595.80" font-size="8.8" fill="#1a1a1a" text-anchor="middle" font-weight="normal" stroke="#1a1a1a" stroke-width="0.16" textLength="3.70" lengthAdjust="spacingAndGlyphs">5</text>
<text x="208.20" y="595.80" font-size="8.8" fill="#1a1a1a" text-anchor="middle" font-weight="normal" stroke="#1a1a1a" stroke-width="0.16" textLength="6.60" lengthAdjust="spacingAndGlyphs">20</text>
<text x="218.45" y="595.80" font-size="8.8" fill="#1a1a1a" text-anchor="middle" font-weight="normal" stroke="#1a1a1a" stroke-width="0.16" textLength="6.60" lengthAdjust="spacingAndGlyphs">11</text>
<text x="228.70" y="595.80" font-size="8.8" fill="#1a1a1a" text-anchor="middle" font-weight="normal" stroke="#1a1a1a" stroke-width="0.16" textLength="3.70" lengthAdjust="spacingAndGlyphs">4</text>
<text x="238.95" y="595.80" font-size="8.8" fill="#1a1a1a" text-anchor="middle" font-weight="normal" stroke="#1a1a1a" stroke-width="0.16" textLength="6.60" lengthAdjust="spacingAndGlyphs">17</text>
<path d="M41,599.6 H111" stroke="#4b87b9" stroke-width="1.4"/>
<path d="M113.5,599.6 H162.5" stroke="#bdbdbd" stroke-width="1.4"/>
<path d="M165.5,599.6 H245" stroke="#b8364a" stroke-width="1.4"/>
<text x="63.40" y="609.40" font-size="8.6" fill="#231f20" text-anchor="start" font-weight="normal" stroke="#231f20" stroke-width="0.16" textLength="24.60" lengthAdjust="spacingAndGlyphs">Group I</text>
<text x="123.50" y="609.40" font-size="8.6" fill="#231f20" text-anchor="start" font-weight="normal" stroke="#231f20" stroke-width="0.16" textLength="28.20" lengthAdjust="spacingAndGlyphs">Group II</text>
<text x="190.80" y="609.40" font-size="8.6" fill="#231f20" text-anchor="start" font-weight="normal" stroke="#231f20" stroke-width="0.16" textLength="30.20" lengthAdjust="spacingAndGlyphs">Group III</text>
<text x="270.80" y="434.00" font-size="7.7" fill="#231f20" text-anchor="start" font-weight="normal" stroke="#231f20" stroke-width="0.16" >Abundance</text>
<text x="270.80" y="442.80" font-size="7.7" fill="#231f20" text-anchor="start" font-weight="normal" stroke="#231f20" stroke-width="0.16" >per sample</text>
<defs><linearGradient id="hmg" x1="0" y1="0" x2="0" y2="1"><stop offset="0" stop-color="#c62a2c"/><stop offset="0.14" stop-color="#e0503a"/><stop offset="0.29" stop-color="#f4a060"/><stop offset="0.44" stop-color="#fce9a0"/><stop offset="0.59" stop-color="#e8f3f1"/><stop offset="0.74" stop-color="#a8cbe6"/><stop offset="0.9" stop-color="#5f8fca"/><stop offset="1" stop-color="#4a78b8"/></linearGradient></defs>
<rect x="272.3" y="453" width="2.5" height="62.2" fill="url(#hmg)"/>
<text x="277.60" y="454.90" font-size="7.5" fill="#231f20" text-anchor="start" font-weight="normal" stroke="#231f20" stroke-width="0.16" >2.5</text>
<text x="277.60" y="464.30" font-size="7.5" fill="#231f20" text-anchor="start" font-weight="normal" stroke="#231f20" stroke-width="0.16" >2</text>
<text x="277.60" y="473.70" font-size="7.5" fill="#231f20" text-anchor="start" font-weight="normal" stroke="#231f20" stroke-width="0.16" >1.5</text>
<text x="277.60" y="483.10" font-size="7.5" fill="#231f20" text-anchor="start" font-weight="normal" stroke="#231f20" stroke-width="0.16" >1</text>
<text x="277.60" y="492.50" font-size="7.5" fill="#231f20" text-anchor="start" font-weight="normal" stroke="#231f20" stroke-width="0.16" >0.5</text>
<text x="277.60" y="501.90" font-size="7.5" fill="#231f20" text-anchor="start" font-weight="normal" stroke="#231f20" stroke-width="0.16" >0</text>
<text x="277.60" y="511.30" font-size="7.5" fill="#231f20" text-anchor="start" font-weight="normal" stroke="#231f20" stroke-width="0.16" >–0.5</text>
<path d="M25,579 V607.5 H52.5" stroke="#111" stroke-width="1.4" fill="none"/>
<path d="M25,574.6 L22.2,580.2 L27.8,580.2Z M57.3,607.5 L51.7,604.7 L51.7,610.3Z" fill="#111"/>
<text x="18.30" y="593.00" font-size="7.6" fill="#231f20" text-anchor="middle" font-weight="bold" stroke="#231f20" stroke-width="0.16" transform="rotate(-90 18.3 593)">Samples</text>
<text x="23.00" y="618.00" font-size="8.4" fill="#231f20" text-anchor="start" font-weight="bold" stroke="#231f20" stroke-width="0.16" textLength="37" lengthAdjust="spacingAndGlyphs">Cluster ID</text>
<text x="313.70" y="306.00" font-size="10.5" fill="#231f20" text-anchor="start" font-weight="bold" stroke="#231f20" stroke-width="0.45" >E</text>
<circle cx="363.15" cy="327.80" r="0.77" fill="#d2d2d8"/><circle cx="370.65" cy="327.80" r="0.77" fill="#d2d2d8"/><circle cx="378.15" cy="327.80" r="0.52" fill="#d2d2d8"/><circle cx="385.65" cy="327.80" r="0.77" fill="#d2d2d8"/><circle cx="393.15" cy="327.80" r="0.64" fill="#d2d2d8"/><circle cx="400.65" cy="327.80" r="0.39" fill="#d2d2d8"/><circle cx="408.15" cy="327.80" r="0.39" fill="#d2d2d8"/><circle cx="415.65" cy="327.80" r="0.52" fill="#d2d2d8"/><circle cx="423.15" cy="327.80" r="0.52" fill="#d2d2d8"/><circle cx="430.65" cy="327.80" r="0.52" fill="#d2d2d8"/><circle cx="438.15" cy="327.80" r="0.52" fill="#d2d2d8"/><circle cx="445.65" cy="327.80" r="0.52" fill="#d2d2d8"/><circle cx="453.15" cy="327.80" r="0.39" fill="#d2d2d8"/><circle cx="460.65" cy="327.80" r="0.52" fill="#d2d2d8"/><circle cx="468.15" cy="327.80" r="3.75" fill="#2e3791"/><circle cx="363.15" cy="335.79" r="0.52" fill="#d2d2d8"/><circle cx="370.65" cy="335.79" r="0.52" fill="#d2d2d8"/><circle cx="378.15" cy="335.79" r="0.52" fill="#d2d2d8"/><circle cx="385.65" cy="335.79" r="0.52" fill="#d2d2d8"/><circle cx="393.15" cy="335.79" r="0.52" fill="#d2d2d8"/><circle cx="400.65" cy="335.79" r="0.39" fill="#d2d2d8"/><circle cx="408.15" cy="335.79" r="0.39" fill="#d2d2d8"/><circle cx="415.65" cy="335.79" r="0.52" fill="#d2d2d8"/><circle cx="423.15" cy="335.79" r="0.52" fill="#d2d2d8"/><circle cx="430.65" cy="335.79" r="0.52" fill="#d2d2d8"/><circle cx="438.15" cy="335.79" r="0.52" fill="#d2d2d8"/><circle cx="445.65" cy="335.79" r="0.52" fill="#d2d2d8"/><circle cx="453.15" cy="335.79" r="0.39" fill="#d2d2d8"/><circle cx="460.65" cy="335.79" r="0.52" fill="#d2d2d8"/><circle cx="468.15" cy="335.79" r="3.54" fill="#2e3791"/><circle cx="363.15" cy="343.78" r="1.93" fill="#b9b6c3"/><circle cx="370.65" cy="343.78" r="1.29" fill="#b9b6c3"/><circle cx="378.15" cy="343.78" r="1.61" fill="#cdcbd0"/><circle cx="385.65" cy="343.78" r="1.61" fill="#7f7d99"/><circle cx="393.15" cy="343.78" r="2.90" fill="#b9b6c3"/><circle cx="400.65" cy="343.78" r="1.16" fill="#cdcbd0"/><circle cx="408.15" cy="343.78" r="1.61" fill="#d3d2c6"/><circle cx="415.65" cy="343.78" r="3.22" fill="#9f9bc1"/><circle cx="423.15" cy="343.78" r="3.54" fill="#7773b2"/><circle cx="430.65" cy="343.78" r="2.58" fill="#cdcbd0"/><circle cx="438.15" cy="343.78" r="3.54" fill="#7773b2"/><circle cx="445.65" cy="343.78" r="3.54" fill="#9f9bc1"/><circle cx="453.15" cy="343.78" r="1.29" fill="#cdcbd0"/><circle cx="460.65" cy="343.78" r="3.22" fill="#9f9bc1"/><circle cx="468.15" cy="343.78" r="3.75" fill="#2e3791"/><circle cx="363.15" cy="351.77" r="2.25" fill="#cdcbd0"/><circle cx="370.65" cy="351.77" r="1.93" fill="#b9b6c3"/><circle cx="378.15" cy="351.77" r="2.25" fill="#cdcbd0"/><circle cx="385.65" cy="351.77" r="2.25" fill="#7f7d99"/><circle cx="393.15" cy="351.77" r="3.54" fill="#b9b6c3"/><circle cx="400.65" cy="351.77" r="3.09" fill="#9f9bc1"/><circle cx="408.15" cy="351.77" r="3.54" fill="#9f9bc1"/><circle cx="415.65" cy="351.77" r="3.75" fill="#5b59a9"/><circle cx="423.15" cy="351.77" r="3.54" fill="#9f9bc1"/><circle cx="430.65" cy="351.77" r="3.22" fill="#cdcbd0"/><circle cx="438.15" cy="351.77" r="3.54" fill="#7773b2"/><circle cx="445.65" cy="351.77" r="3.22" fill="#b9b6c3"/><circle cx="453.15" cy="351.77" r="2.58" fill="#e3e6c4"/><circle cx="460.65" cy="351.77" r="3.75" fill="#2e3791"/><circle cx="468.15" cy="351.77" r="3.22" fill="#cdcbd0"/><circle cx="363.15" cy="359.76" r="2.06" fill="#b9b6c3"/><circle cx="370.65" cy="359.76" r="1.61" fill="#b9b6c3"/><circle cx="378.15" cy="359.76" r="1.61" fill="#b9b6c3"/><circle cx="385.65" cy="359.76" r="1.93" fill="#7f7d99"/><circle cx="393.15" cy="359.76" r="3.22" fill="#9f9bc1"/><circle cx="400.65" cy="359.76" r="1.16" fill="#cdcbd0"/><circle cx="408.15" cy="359.76" r="2.25" fill="#cdcbd0"/><circle cx="415.65" cy="359.76" r="3.54" fill="#9f9bc1"/><circle cx="423.15" cy="359.76" r="3.22" fill="#b9b6c3"/><circle cx="430.65" cy="359.76" r="3.22" fill="#b9b6c3"/><circle cx="438.15" cy="359.76" r="3.22" fill="#b9b6c3"/><circle cx="445.65" cy="359.76" r="3.22" fill="#b9b6c3"/><circle cx="453.15" cy="359.76" r="2.90" fill="#cdcbd0"/><circle cx="460.65" cy="359.76" r="3.75" fill="#2e3791"/><circle cx="468.15" cy="359.76" r="3.22" fill="#9f9bc1"/><circle cx="363.15" cy="367.75" r="1.61" fill="#7f7d99"/><circle cx="370.65" cy="367.75" r="1.29" fill="#b9b6c3"/><circle cx="378.15" cy="367.75" r="1.29" fill="#cdcbd0"/><circle cx="385.65" cy="367.75" r="0.97" fill="#b9b6c3"/><circle cx="393.15" cy="367.75" r="2.25" fill="#b9b6c3"/><circle cx="400.65" cy="367.75" r="0.64" fill="#cdcbd0"/><circle cx="408.15" cy="367.75" r="1.93" fill="#cdcbd0"/><circle cx="415.65" cy="367.75" r="2.90" fill="#9f9bc1"/><circle cx="423.15" cy="367.75" r="2.90" fill="#2e3791"/><circle cx="430.65" cy="367.75" r="1.93" fill="#cdcbd0"/><circle cx="438.15" cy="367.75" r="2.90" fill="#7773b2"/><circle cx="445.65" cy="367.75" r="1.93" fill="#cdcbd0"/><circle cx="453.15" cy="367.75" r="2.90" fill="#9f9bc1"/><circle cx="460.65" cy="367.75" r="3.22" fill="#9f9bc1"/><circle cx="468.15" cy="367.75" r="2.58" fill="#cdcbd0"/><circle cx="363.15" cy="375.74" r="0.77" fill="#d2d2d8"/><circle cx="370.65" cy="375.74" r="0.77" fill="#d2d2d8"/><circle cx="378.15" cy="375.74" r="0.64" fill="#d2d2d8"/><circle cx="385.65" cy="375.74" r="0.77" fill="#d2d2d8"/><circle cx="393.15" cy="375.74" r="1.61" fill="#b9b6c3"/><circle cx="400.65" cy="375.74" r="0.52" fill="#d2d2d8"/><circle cx="408.15" cy="375.74" r="1.29" fill="#b9b6c3"/><circle cx="415.65" cy="375.74" r="1.93" fill="#cdcbd0"/><circle cx="423.15" cy="375.74" r="2.25" fill="#9f9bc1"/><circle cx="430.65" cy="375.74" r="2.90" fill="#7773b2"/><circle cx="438.15" cy="375.74" r="2.25" fill="#9f9bc1"/><circle cx="445.65" cy="375.74" r="2.90" fill="#7773b2"/><circle cx="453.15" cy="375.74" r="2.25" fill="#9f9bc1"/><circle cx="460.65" cy="375.74" r="2.25" fill="#b9b6c3"/><circle cx="468.15" cy="375.74" r="3.54" fill="#2e3791"/><circle cx="363.15" cy="383.73" r="0.64" fill="#d2d2d8"/><circle cx="370.65" cy="383.73" r="0.64" fill="#d2d2d8"/><circle cx="378.15" cy="383.73" r="0.52" fill="#d2d2d8"/><circle cx="385.65" cy="383.73" r="0.97" fill="#b9b6c3"/><circle cx="393.15" cy="383.73" r="0.97" fill="#b9b6c3"/><circle cx="400.65" cy="383.73" r="0.39" fill="#d2d2d8"/><circle cx="408.15" cy="383.73" r="1.29" fill="#b9b6c3"/><circle cx="415.65" cy="383.73" r="2.58" fill="#b9b6c3"/><circle cx="423.15" cy="383.73" r="2.90" fill="#7773b2"/><circle cx="430.65" cy="383.73" r="3.54" fill="#5b59a9"/><circle cx="438.15" cy="383.73" r="2.58" fill="#b9b6c3"/><circle cx="445.65" cy="383.73" r="2.90" fill="#9f9bc1"/><circle cx="453.15" cy="383.73" r="2.58" fill="#9f9bc1"/><circle cx="460.65" cy="383.73" r="2.58" fill="#b9b6c3"/><circle cx="468.15" cy="383.73" r="3.75" fill="#2e3791"/><circle cx="363.15" cy="391.72" r="0.97" fill="#b9b6c3"/><circle cx="370.65" cy="391.72" r="0.97" fill="#b9b6c3"/><circle cx="378.15" cy="391.72" r="0.77" fill="#d2d2d8"/><circle cx="385.65" cy="391.72" r="0.97" fill="#7f7d99"/><circle cx="393.15" cy="391.72" r="2.25" fill="#b9b6c3"/><circle cx="400.65" cy="391.72" r="0.64" fill="#d2d2d8"/><circle cx="408.15" cy="391.72" r="1.93" fill="#b9b6c3"/><circle cx="415.65" cy="391.72" r="3.22" fill="#9f9bc1"/><circle cx="423.15" cy="391.72" r="3.54" fill="#7773b2"/><circle cx="430.65" cy="391.72" r="3.54" fill="#9f9bc1"/><circle cx="438.15" cy="391.72" r="3.54" fill="#9f9bc1"/><circle cx="445.65" cy="391.72" r="3.54" fill="#9f9bc1"/><circle cx="453.15" cy="391.72" r="3.54" fill="#7773b2"/><circle cx="460.65" cy="391.72" r="3.54" fill="#9f9bc1"/><circle cx="468.15" cy="391.72" r="3.75" fill="#7773b2"/><circle cx="363.15" cy="399.71" r="0.52" fill="#d2d2d8"/><circle cx="370.65" cy="399.71" r="0.52" fill="#d2d2d8"/><circle cx="378.15" cy="399.71" r="0.52" fill="#d2d2d8"/><circle cx="385.65" cy="399.71" r="1.29" fill="#7f7d99"/><circle cx="393.15" cy="399.71" r="1.93" fill="#b9b6c3"/><circle cx="400.65" cy="399.71" r="0.52" fill="#d2d2d8"/><circle cx="408.15" cy="399.71" r="0.52" fill="#d2d2d8"/><circle cx="415.65" cy="399.71" r="1.93" fill="#9f9bc1"/><circle cx="423.15" cy="399.71" r="3.22" fill="#2e3791"/><circle cx="430.65" cy="399.71" r="3.22" fill="#9f9bc1"/><circle cx="438.15" cy="399.71" r="3.22" fill="#b9b6c3"/><circle cx="445.65" cy="399.71" r="2.90" fill="#b9b6c3"/><circle cx="453.15" cy="399.71" r="3.54" fill="#7773b2"/><circle cx="460.65" cy="399.71" r="2.58" fill="#cdcbd0"/><circle cx="468.15" cy="399.71" r="3.75" fill="#5b59a9"/><circle cx="363.15" cy="407.70" r="2.90" fill="#9f9bc1"/><circle cx="370.65" cy="407.70" r="2.25" fill="#9f9bc1"/><circle cx="378.15" cy="407.70" r="1.93" fill="#cdcbd0"/><circle cx="385.65" cy="407.70" r="1.61" fill="#7f7d99"/><circle cx="393.15" cy="407.70" r="3.75" fill="#b9b6c3"/><circle cx="400.65" cy="407.70" r="1.29" fill="#cdcbd0"/><circle cx="408.15" cy="407.70" r="2.58" fill="#cdcbd0"/><circle cx="415.65" cy="407.70" r="3.54" fill="#d3d2c6"/><circle cx="423.15" cy="407.70" r="3.22" fill="#9f9bc1"/><circle cx="430.65" cy="407.70" r="3.75" fill="#7773b2"/><circle cx="438.15" cy="407.70" r="2.90" fill="#cdcbd0"/><circle cx="445.65" cy="407.70" r="3.54" fill="#7773b2"/><circle cx="453.15" cy="407.70" r="3.54" fill="#7773b2"/><circle cx="460.65" cy="407.70" r="2.90" fill="#cdcbd0"/><circle cx="468.15" cy="407.70" r="3.75" fill="#5b59a9"/><circle cx="363.15" cy="415.69" r="1.93" fill="#7f7d99"/><circle cx="370.65" cy="415.69" r="1.29" fill="#b9b6c3"/><circle cx="378.15" cy="415.69" r="1.29" fill="#cdcbd0"/><circle cx="385.65" cy="415.69" r="0.97" fill="#b9b6c3"/><circle cx="393.15" cy="415.69" r="2.90" fill="#b9b6c3"/><circle cx="400.65" cy="415.69" r="0.64" fill="#d2d2d8"/><circle cx="408.15" cy="415.69" r="1.29" fill="#cdcbd0"/><circle cx="415.65" cy="415.69" r="1.61" fill="#cdcbd0"/><circle cx="423.15" cy="415.69" r="3.54" fill="#7773b2"/><circle cx="430.65" cy="415.69" r="3.54" fill="#5b59a9"/><circle cx="438.15" cy="415.69" r="3.22" fill="#9f9bc1"/><circle cx="445.65" cy="415.69" r="3.22" fill="#9f9bc1"/><circle cx="453.15" cy="415.69" r="3.54" fill="#7773b2"/><circle cx="460.65" cy="415.69" r="2.58" fill="#d3d2c6"/><circle cx="468.15" cy="415.69" r="3.54" fill="#9f9bc1"/><circle cx="363.15" cy="423.68" r="1.61" fill="#cdcbd0"/><circle cx="370.65" cy="423.68" r="1.93" fill="#b9b6c3"/><circle cx="378.15" cy="423.68" r="1.93" fill="#b9b6c3"/><circle cx="385.65" cy="423.68" r="3.22" fill="#9f9bc1"/><circle cx="393.15" cy="423.68" r="3.54" fill="#b9b6c3"/><circle cx="400.65" cy="423.68" r="2.25" fill="#b9b6c3"/><circle cx="408.15" cy="423.68" r="2.58" fill="#cdcbd0"/><circle cx="415.65" cy="423.68" r="3.75" fill="#9f9bc1"/><circle cx="423.15" cy="423.68" r="3.54" fill="#9f9bc1"/><circle cx="430.65" cy="423.68" r="3.75" fill="#2e3791"/><circle cx="438.15" cy="423.68" r="3.22" fill="#cdcbd0"/><circle cx="445.65" cy="423.68" r="3.22" fill="#cdcbd0"/><circle cx="453.15" cy="423.68" r="3.75" fill="#2e3791"/><circle cx="460.65" cy="423.68" r="3.54" fill="#cdcbd0"/><circle cx="468.15" cy="423.68" r="3.54" fill="#cdcbd0"/><circle cx="363.15" cy="431.67" r="1.93" fill="#cdcbd0"/><circle cx="370.65" cy="431.67" r="1.61" fill="#b9b6c3"/><circle cx="378.15" cy="431.67" r="2.25" fill="#cdcbd0"/><circle cx="385.65" cy="431.67" r="2.58" fill="#b9b6c3"/><circle cx="393.15" cy="431.67" r="3.54" fill="#cdcbd0"/><circle cx="400.65" cy="431.67" r="2.25" fill="#b9b6c3"/><circle cx="408.15" cy="431.67" r="2.58" fill="#cdcbd0"/><circle cx="415.65" cy="431.67" r="3.54" fill="#cdcbd0"/><circle cx="423.15" cy="431.67" r="3.75" fill="#2e3791"/><circle cx="430.65" cy="431.67" r="3.75" fill="#5b59a9"/><circle cx="438.15" cy="431.67" r="3.22" fill="#b9b6c3"/><circle cx="445.65" cy="431.67" r="3.22" fill="#cdcbd0"/><circle cx="453.15" cy="431.67" r="3.54" fill="#9f9bc1"/><circle cx="460.65" cy="431.67" r="3.54" fill="#cdcbd0"/><circle cx="468.15" cy="431.67" r="3.54" fill="#cdcbd0"/><circle cx="363.15" cy="439.66" r="3.22" fill="#5b59a9"/><circle cx="370.65" cy="439.66" r="2.58" fill="#5b59a9"/><circle cx="378.15" cy="439.66" r="2.58" fill="#d3d2c6"/><circle cx="385.65" cy="439.66" r="1.93" fill="#7f7d99"/><circle cx="393.15" cy="439.66" r="3.75" fill="#9f9bc1"/><circle cx="400.65" cy="439.66" r="1.93" fill="#e3e6c4"/><circle cx="408.15" cy="439.66" r="2.58" fill="#d3d2c6"/><circle cx="415.65" cy="439.66" r="3.54" fill="#cdcbd0"/><circle cx="423.15" cy="439.66" r="3.22" fill="#9f9bc1"/><circle cx="430.65" cy="439.66" r="2.58" fill="#d3d2c6"/><circle cx="438.15" cy="439.66" r="3.54" fill="#9f9bc1"/><circle cx="445.65" cy="439.66" r="1.93" fill="#e3e6c4"/><circle cx="453.15" cy="439.66" r="3.54" fill="#7773b2"/><circle cx="460.65" cy="439.66" r="3.54" fill="#cdcbd0"/><circle cx="468.15" cy="439.66" r="3.54" fill="#cdcbd0"/><circle cx="363.15" cy="447.65" r="0.52" fill="#e3e6c4"/><circle cx="370.65" cy="447.65" r="0.52" fill="#d2d2d8"/><circle cx="378.15" cy="447.65" r="0.52" fill="#d2d2d8"/><circle cx="385.65" cy="447.65" r="0.52" fill="#d2d2d8"/><circle cx="393.15" cy="447.65" r="0.77" fill="#b9b6c3"/><circle cx="400.65" cy="447.65" r="0.39" fill="#d2d2d8"/><circle cx="408.15" cy="447.65" r="0.39" fill="#d2d2d8"/><circle cx="415.65" cy="447.65" r="0.52" fill="#d2d2d8"/><circle cx="423.15" cy="447.65" r="0.52" fill="#d2d2d8"/><circle cx="430.65" cy="447.65" r="1.93" fill="#7773b2"/><circle cx="438.15" cy="447.65" r="0.52" fill="#d2d2d8"/><circle cx="445.65" cy="447.65" r="2.25" fill="#2e3791"/><circle cx="453.15" cy="447.65" r="0.52" fill="#d2d2d8"/><circle cx="460.65" cy="447.65" r="0.52" fill="#d2d2d8"/><circle cx="468.15" cy="447.65" r="0.97" fill="#b9b6c3"/><circle cx="363.15" cy="455.64" r="1.93" fill="#b9b6c3"/><circle cx="370.65" cy="455.64" r="1.93" fill="#b9b6c3"/><circle cx="378.15" cy="455.64" r="0.97" fill="#b9b6c3"/><circle cx="385.65" cy="455.64" r="2.90" fill="#b9b6c3"/><circle cx="393.15" cy="455.64" r="3.22" fill="#b9b6c3"/><circle cx="400.65" cy="455.64" r="0.97" fill="#b9b6c3"/><circle cx="408.15" cy="455.64" r="1.93" fill="#b9b6c3"/><circle cx="415.65" cy="455.64" r="2.45" fill="#b9b6c3"/><circle cx="423.15" cy="455.64" r="3.22" fill="#b9b6c3"/><circle cx="430.65" cy="455.64" r="3.54" fill="#9f9bc1"/><circle cx="438.15" cy="455.64" r="2.58" fill="#b9b6c3"/><circle cx="445.65" cy="455.64" r="2.90" fill="#b9b6c3"/><circle cx="453.15" cy="455.64" r="3.75" fill="#2e3791"/><circle cx="460.65" cy="455.64" r="2.58" fill="#9f9bc1"/><circle cx="468.15" cy="455.64" r="1.93" fill="#b9b6c3"/><circle cx="363.15" cy="463.63" r="0.77" fill="#b9b6c3"/><circle cx="370.65" cy="463.63" r="1.61" fill="#b9b6c3"/><circle cx="378.15" cy="463.63" r="0.64" fill="#b9b6c3"/><circle cx="385.65" cy="463.63" r="2.90" fill="#b9b6c3"/><circle cx="393.15" cy="463.63" r="2.58" fill="#b9b6c3"/><circle cx="400.65" cy="463.63" r="0.64" fill="#b9b6c3"/><circle cx="408.15" cy="463.63" r="0.97" fill="#b9b6c3"/><circle cx="415.65" cy="463.63" r="1.80" fill="#b9b6c3"/><circle cx="423.15" cy="463.63" r="3.22" fill="#b9b6c3"/><circle cx="430.65" cy="463.63" r="3.54" fill="#b9b6c3"/><circle cx="438.15" cy="463.63" r="1.61" fill="#b9b6c3"/><circle cx="445.65" cy="463.63" r="1.93" fill="#b9b6c3"/><circle cx="453.15" cy="463.63" r="3.75" fill="#2e3791"/><circle cx="460.65" cy="463.63" r="0.97" fill="#b9b6c3"/><circle cx="468.15" cy="463.63" r="1.93" fill="#b9b6c3"/><circle cx="363.15" cy="471.62" r="0.39" fill="#d2d2d8"/><circle cx="370.65" cy="471.62" r="0.39" fill="#d2d2d8"/><circle cx="378.15" cy="471.62" r="0.39" fill="#d2d2d8"/><circle cx="385.65" cy="471.62" r="0.39" fill="#d2d2d8"/><circle cx="393.15" cy="471.62" r="0.39" fill="#d2d2d8"/><circle cx="400.65" cy="471.62" r="0.39" fill="#d2d2d8"/><circle cx="408.15" cy="471.62" r="0.39" fill="#d2d2d8"/><circle cx="415.65" cy="471.62" r="0.39" fill="#d2d2d8"/><circle cx="423.15" cy="471.62" r="0.64" fill="#b9b6c3"/><circle cx="430.65" cy="471.62" r="0.39" fill="#d2d2d8"/><circle cx="438.15" cy="471.62" r="0.39" fill="#d2d2d8"/><circle cx="445.65" cy="471.62" r="0.39" fill="#d2d2d8"/><circle cx="453.15" cy="471.62" r="3.22" fill="#2e3791"/><circle cx="460.65" cy="471.62" r="0.39" fill="#d2d2d8"/><circle cx="468.15" cy="471.62" r="0.64" fill="#b9b6c3"/><circle cx="363.15" cy="479.61" r="1.61" fill="#b9b6c3"/><circle cx="370.65" cy="479.61" r="1.93" fill="#b9b6c3"/><circle cx="378.15" cy="479.61" r="1.93" fill="#b9b6c3"/><circle cx="385.65" cy="479.61" r="2.90" fill="#b9b6c3"/><circle cx="393.15" cy="479.61" r="3.54" fill="#b9b6c3"/><circle cx="400.65" cy="479.61" r="1.93" fill="#b9b6c3"/><circle cx="408.15" cy="479.61" r="2.58" fill="#b9b6c3"/><circle cx="415.65" cy="479.61" r="3.54" fill="#b9b6c3"/><circle cx="423.15" cy="479.61" r="3.22" fill="#9f9bc1"/><circle cx="430.65" cy="479.61" r="3.75" fill="#9f9bc1"/><circle cx="438.15" cy="479.61" r="3.22" fill="#b9b6c3"/><circle cx="445.65" cy="479.61" r="3.22" fill="#b9b6c3"/><circle cx="453.15" cy="479.61" r="3.75" fill="#2e3791"/><circle cx="460.65" cy="479.61" r="3.54" fill="#9f9bc1"/><circle cx="468.15" cy="479.61" r="3.22" fill="#b9b6c3"/><circle cx="363.15" cy="487.60" r="0.39" fill="#d2d2d8"/><circle cx="370.65" cy="487.60" r="0.39" fill="#d2d2d8"/><circle cx="378.15" cy="487.60" r="0.39" fill="#d2d2d8"/><circle cx="385.65" cy="487.60" r="0.39" fill="#d2d2d8"/><circle cx="393.15" cy="487.60" r="0.39" fill="#d2d2d8"/><circle cx="400.65" cy="487.60" r="0.39" fill="#d2d2d8"/><circle cx="408.15" cy="487.60" r="0.77" fill="#7f7d99"/><circle cx="415.65" cy="487.60" r="0.64" fill="#7f7d99"/><circle cx="423.15" cy="487.60" r="0.52" fill="#b9b6c3"/><circle cx="430.65" cy="487.60" r="0.39" fill="#d2d2d8"/><circle cx="438.15" cy="487.60" r="0.39" fill="#d2d2d8"/><circle cx="445.65" cy="487.60" r="0.39" fill="#d2d2d8"/><circle cx="453.15" cy="487.60" r="2.25" fill="#2e3791"/><circle cx="460.65" cy="487.60" r="0.64" fill="#b9b6c3"/><circle cx="468.15" cy="487.60" r="0.39" fill="#d2d2d8"/><circle cx="363.15" cy="495.59" r="2.90" fill="#2e3791"/><circle cx="370.65" cy="495.59" r="1.61" fill="#7f7d99"/><circle cx="378.15" cy="495.59" r="1.93" fill="#b9b6c3"/><circle cx="385.65" cy="495.59" r="0.97" fill="#b9b6c3"/><circle cx="393.15" cy="495.59" r="3.54" fill="#9f9bc1"/><circle cx="400.65" cy="495.59" r="0.97" fill="#b9b6c3"/><circle cx="408.15" cy="495.59" r="1.93" fill="#b9b6c3"/><circle cx="415.65" cy="495.59" r="1.93" fill="#b9b6c3"/><circle cx="423.15" cy="495.59" r="1.61" fill="#b9b6c3"/><circle cx="430.65" cy="495.59" r="2.25" fill="#b9b6c3"/><circle cx="438.15" cy="495.59" r="2.25" fill="#b9b6c3"/><circle cx="445.65" cy="495.59" r="2.25" fill="#b9b6c3"/><circle cx="453.15" cy="495.59" r="2.25" fill="#cdcbd0"/><circle cx="460.65" cy="495.59" r="2.25" fill="#b9b6c3"/><circle cx="468.15" cy="495.59" r="1.61" fill="#b9b6c3"/><circle cx="363.15" cy="503.58" r="3.22" fill="#2e3791"/><circle cx="370.65" cy="503.58" r="2.25" fill="#7f7d99"/><circle cx="378.15" cy="503.58" r="1.93" fill="#b9b6c3"/><circle cx="385.65" cy="503.58" r="1.61" fill="#7f7d99"/><circle cx="393.15" cy="503.58" r="3.54" fill="#9f9bc1"/><circle cx="400.65" cy="503.58" r="1.29" fill="#b9b6c3"/><circle cx="408.15" cy="503.58" r="2.58" fill="#b9b6c3"/><circle cx="415.65" cy="503.58" r="2.58" fill="#b9b6c3"/><circle cx="423.15" cy="503.58" r="2.25" fill="#b9b6c3"/><circle cx="430.65" cy="503.58" r="2.58" fill="#b9b6c3"/><circle cx="438.15" cy="503.58" r="2.58" fill="#b9b6c3"/><circle cx="445.65" cy="503.58" r="1.61" fill="#b9b6c3"/><circle cx="453.15" cy="503.58" r="2.90" fill="#b9b6c3"/><circle cx="460.65" cy="503.58" r="2.90" fill="#b9b6c3"/><circle cx="468.15" cy="503.58" r="2.90" fill="#b9b6c3"/><circle cx="363.15" cy="511.57" r="3.54" fill="#2e3791"/><circle cx="370.65" cy="511.57" r="2.58" fill="#7773b2"/><circle cx="378.15" cy="511.57" r="2.25" fill="#b9b6c3"/><circle cx="385.65" cy="511.57" r="1.29" fill="#b9b6c3"/><circle cx="393.15" cy="511.57" r="3.75" fill="#9f9bc1"/><circle cx="400.65" cy="511.57" r="0.97" fill="#b9b6c3"/><circle cx="408.15" cy="511.57" r="2.25" fill="#b9b6c3"/><circle cx="415.65" cy="511.57" r="1.93" fill="#b9b6c3"/><circle cx="423.15" cy="511.57" r="1.29" fill="#b9b6c3"/><circle cx="430.65" cy="511.57" r="1.93" fill="#b9b6c3"/><circle cx="438.15" cy="511.57" r="2.25" fill="#b9b6c3"/><circle cx="445.65" cy="511.57" r="1.93" fill="#b9b6c3"/><circle cx="453.15" cy="511.57" r="2.25" fill="#b9b6c3"/><circle cx="460.65" cy="511.57" r="2.25" fill="#b9b6c3"/><circle cx="468.15" cy="511.57" r="2.25" fill="#b9b6c3"/><circle cx="363.15" cy="519.56" r="3.75" fill="#2e3791"/><circle cx="370.65" cy="519.56" r="2.90" fill="#5b59a9"/><circle cx="378.15" cy="519.56" r="2.58" fill="#9f9bc1"/><circle cx="385.65" cy="519.56" r="1.93" fill="#b9b6c3"/><circle cx="393.15" cy="519.56" r="3.75" fill="#9f9bc1"/><circle cx="400.65" cy="519.56" r="1.29" fill="#b9b6c3"/><circle cx="408.15" cy="519.56" r="2.58" fill="#b9b6c3"/><circle cx="415.65" cy="519.56" r="2.90" fill="#b9b6c3"/><circle cx="423.15" cy="519.56" r="2.90" fill="#b9b6c3"/><circle cx="430.65" cy="519.56" r="2.90" fill="#b9b6c3"/><circle cx="438.15" cy="519.56" r="3.22" fill="#b9b6c3"/><circle cx="445.65" cy="519.56" r="2.90" fill="#b9b6c3"/><circle cx="453.15" cy="519.56" r="2.58" fill="#b9b6c3"/><circle cx="460.65" cy="519.56" r="3.22" fill="#b9b6c3"/><circle cx="468.15" cy="519.56" r="3.54" fill="#b9b6c3"/><circle cx="363.15" cy="527.55" r="3.75" fill="#2e3791"/><circle cx="370.65" cy="527.55" r="3.22" fill="#5b59a9"/><circle cx="378.15" cy="527.55" r="2.90" fill="#9f9bc1"/><circle cx="385.65" cy="527.55" r="2.25" fill="#9f9bc1"/><circle cx="393.15" cy="527.55" r="3.75" fill="#9f9bc1"/><circle cx="400.65" cy="527.55" r="1.93" fill="#b9b6c3"/><circle cx="408.15" cy="527.55" r="2.58" fill="#b9b6c3"/><circle cx="415.65" cy="527.55" r="2.58" fill="#b9b6c3"/><circle cx="423.15" cy="527.55" r="2.90" fill="#b9b6c3"/><circle cx="430.65" cy="527.55" r="2.90" fill="#b9b6c3"/><circle cx="438.15" cy="527.55" r="2.90" fill="#b9b6c3"/><circle cx="445.65" cy="527.55" r="2.58" fill="#b9b6c3"/><circle cx="453.15" cy="527.55" r="2.90" fill="#b9b6c3"/><circle cx="460.65" cy="527.55" r="2.90" fill="#b9b6c3"/><circle cx="468.15" cy="527.55" r="2.90" fill="#b9b6c3"/><circle cx="363.15" cy="535.54" r="3.75" fill="#2e3791"/><circle cx="370.65" cy="535.54" r="3.54" fill="#5b59a9"/><circle cx="378.15" cy="535.54" r="2.90" fill="#9f9bc1"/><circle cx="385.65" cy="535.54" r="2.58" fill="#9f9bc1"/><circle cx="393.15" cy="535.54" r="3.75" fill="#9f9bc1"/><circle cx="400.65" cy="535.54" r="3.22" fill="#cdcbd0"/><circle cx="408.15" cy="535.54" r="3.54" fill="#cdcbd0"/><circle cx="415.65" cy="535.54" r="3.54" fill="#d3d2c6"/><circle cx="423.15" cy="535.54" r="3.54" fill="#b9b6c3"/><circle cx="430.65" cy="535.54" r="3.54" fill="#b9b6c3"/><circle cx="438.15" cy="535.54" r="3.54" fill="#b9b6c3"/><circle cx="445.65" cy="535.54" r="3.22" fill="#d3d2c6"/><circle cx="453.15" cy="535.54" r="3.22" fill="#d3d2c6"/><circle cx="460.65" cy="535.54" r="3.54" fill="#b9b6c3"/><circle cx="468.15" cy="535.54" r="3.75" fill="#9f9bc1"/><circle cx="363.15" cy="543.53" r="3.22" fill="#2e3791"/><circle cx="370.65" cy="543.53" r="2.58" fill="#7773b2"/><circle cx="378.15" cy="543.53" r="2.58" fill="#9f9bc1"/><circle cx="385.65" cy="543.53" r="1.61" fill="#b9b6c3"/><circle cx="393.15" cy="543.53" r="3.22" fill="#9f9bc1"/><circle cx="400.65" cy="543.53" r="1.93" fill="#b9b6c3"/><circle cx="408.15" cy="543.53" r="2.58" fill="#b9b6c3"/><circle cx="415.65" cy="543.53" r="2.58" fill="#b9b6c3"/><circle cx="423.15" cy="543.53" r="1.29" fill="#b9b6c3"/><circle cx="430.65" cy="543.53" r="2.58" fill="#b9b6c3"/><circle cx="438.15" cy="543.53" r="2.25" fill="#b9b6c3"/><circle cx="445.65" cy="543.53" r="2.25" fill="#b9b6c3"/><circle cx="453.15" cy="543.53" r="2.90" fill="#b9b6c3"/><circle cx="460.65" cy="543.53" r="3.22" fill="#9f9bc1"/><circle cx="468.15" cy="543.53" r="1.29" fill="#e3e6c4"/><circle cx="363.15" cy="551.52" r="2.58" fill="#2e3791"/><circle cx="370.65" cy="551.52" r="1.61" fill="#7f7d99"/><circle cx="378.15" cy="551.52" r="2.25" fill="#7773b2"/><circle cx="385.65" cy="551.52" r="0.97" fill="#b9b6c3"/><circle cx="393.15" cy="551.52" r="2.58" fill="#9f9bc1"/><circle cx="400.65" cy="551.52" r="1.61" fill="#b9b6c3"/><circle cx="408.15" cy="551.52" r="2.25" fill="#b9b6c3"/><circle cx="415.65" cy="551.52" r="1.93" fill="#b9b6c3"/><circle cx="423.15" cy="551.52" r="0.64" fill="#b9b6c3"/><circle cx="430.65" cy="551.52" r="1.93" fill="#b9b6c3"/><circle cx="438.15" cy="551.52" r="1.61" fill="#b9b6c3"/><circle cx="445.65" cy="551.52" r="1.61" fill="#b9b6c3"/><circle cx="453.15" cy="551.52" r="1.93" fill="#b9b6c3"/><circle cx="460.65" cy="551.52" r="1.93" fill="#d3d2c6"/><circle cx="468.15" cy="551.52" r="0.97" fill="#e3e6c4"/><circle cx="363.15" cy="559.51" r="3.75" fill="#2e3791"/><circle cx="370.65" cy="559.51" r="3.22" fill="#7773b2"/><circle cx="378.15" cy="559.51" r="3.54" fill="#5b59a9"/><circle cx="385.65" cy="559.51" r="2.58" fill="#9f9bc1"/><circle cx="393.15" cy="559.51" r="3.75" fill="#9f9bc1"/><circle cx="400.65" cy="559.51" r="3.22" fill="#b9b6c3"/><circle cx="408.15" cy="559.51" r="3.22" fill="#cdcbd0"/><circle cx="415.65" cy="559.51" r="3.22" fill="#d3d2c6"/><circle cx="423.15" cy="559.51" r="2.25" fill="#d3d2c6"/><circle cx="430.65" cy="559.51" r="3.22" fill="#b9b6c3"/><circle cx="438.15" cy="559.51" r="3.22" fill="#b9b6c3"/><circle cx="445.65" cy="559.51" r="2.90" fill="#d3d2c6"/><circle cx="453.15" cy="559.51" r="3.75" fill="#7773b2"/><circle cx="460.65" cy="559.51" r="2.90" fill="#d3d2c6"/><circle cx="468.15" cy="559.51" r="2.25" fill="#e3e6c4"/><circle cx="363.15" cy="567.50" r="1.61" fill="#cdcbd0"/><circle cx="370.65" cy="567.50" r="0.97" fill="#b9b6c3"/><circle cx="378.15" cy="567.50" r="1.93" fill="#9f9bc1"/><circle cx="385.65" cy="567.50" r="1.29" fill="#b9b6c3"/><circle cx="393.15" cy="567.50" r="2.58" fill="#9f9bc1"/><circle cx="400.65" cy="567.50" r="2.58" fill="#2e3791"/><circle cx="408.15" cy="567.50" r="2.58" fill="#9f9bc1"/><circle cx="415.65" cy="567.50" r="2.58" fill="#9f9bc1"/><circle cx="423.15" cy="567.50" r="2.25" fill="#cdcbd0"/><circle cx="430.65" cy="567.50" r="2.90" fill="#9f9bc1"/><circle cx="438.15" cy="567.50" r="2.58" fill="#b9b6c3"/><circle cx="445.65" cy="567.50" r="1.93" fill="#d3d2c6"/><circle cx="453.15" cy="567.50" r="3.22" fill="#9f9bc1"/><circle cx="460.65" cy="567.50" r="2.90" fill="#9f9bc1"/><circle cx="468.15" cy="567.50" r="2.58" fill="#e3e6c4"/>
<text x="352.60" y="330.50" font-size="7.5" fill="#231f20" text-anchor="end" font-weight="normal" stroke="#231f20" stroke-width="0.16" >TNFRSF18</text>
<text x="352.60" y="338.49" font-size="7.5" fill="#231f20" text-anchor="end" font-weight="normal" stroke="#231f20" stroke-width="0.16" >TNFRSF4</text>
<text x="352.60" y="346.48" font-size="7.5" fill="#231f20" text-anchor="end" font-weight="normal" stroke="#231f20" stroke-width="0.16" >CD44</text>
<text x="352.60" y="354.47" font-size="7.5" fill="#231f20" text-anchor="end" font-weight="normal" stroke="#231f20" stroke-width="0.16" >RHOA</text>
<text x="352.60" y="362.46" font-size="7.5" fill="#231f20" text-anchor="end" font-weight="normal" stroke="#231f20" stroke-width="0.16" >MCL1</text>
<text x="352.60" y="370.45" font-size="7.5" fill="#231f20" text-anchor="end" font-weight="normal" stroke="#231f20" stroke-width="0.16" >KRAS</text>
<text x="352.60" y="378.44" font-size="7.5" fill="#231f20" text-anchor="end" font-weight="normal" stroke="#231f20" stroke-width="0.16" >NFKB2</text>
<text x="352.60" y="386.43" font-size="7.5" fill="#231f20" text-anchor="end" font-weight="normal" stroke="#231f20" stroke-width="0.16" >PIM3</text>
<text x="352.60" y="394.42" font-size="7.5" fill="#231f20" text-anchor="end" font-weight="normal" stroke="#231f20" stroke-width="0.16" >RELB</text>
<text x="352.60" y="402.41" font-size="7.5" fill="#231f20" text-anchor="end" font-weight="normal" stroke="#231f20" stroke-width="0.16" >GPR183</text>
<text x="352.60" y="410.40" font-size="7.5" fill="#231f20" text-anchor="end" font-weight="normal" stroke="#231f20" stroke-width="0.16" >REL</text>
<text x="352.60" y="418.39" font-size="7.5" fill="#231f20" text-anchor="end" font-weight="normal" stroke="#231f20" stroke-width="0.16" >BIRC3</text>
<text x="352.60" y="426.38" font-size="7.5" fill="#231f20" text-anchor="end" font-weight="normal" stroke="#231f20" stroke-width="0.16" >JUNB</text>
<text x="352.60" y="434.37" font-size="7.5" fill="#231f20" text-anchor="end" font-weight="normal" stroke="#231f20" stroke-width="0.16" >CXCR4</text>
<text x="352.60" y="442.36" font-size="7.5" fill="#231f20" text-anchor="end" font-weight="normal" stroke="#231f20" stroke-width="0.16" >LYN</text>
<text x="352.60" y="450.35" font-size="7.5" fill="#231f20" text-anchor="end" font-weight="normal" stroke="#231f20" stroke-width="0.16" >BCL2A1</text>
<text x="352.60" y="458.34" font-size="7.5" fill="#231f20" text-anchor="end" font-weight="normal" stroke="#231f20" stroke-width="0.16" >CD69</text>
<text x="352.60" y="466.33" font-size="7.5" fill="#231f20" text-anchor="end" font-weight="normal" stroke="#231f20" stroke-width="0.16" >FOS</text>
<text x="352.60" y="474.32" font-size="7.5" fill="#231f20" text-anchor="end" font-weight="normal" stroke="#231f20" stroke-width="0.16" >HES1</text>
<text x="352.60" y="482.31" font-size="7.5" fill="#231f20" text-anchor="end" font-weight="normal" stroke="#231f20" stroke-width="0.16" >JUN</text>
<text x="352.60" y="490.30" font-size="7.5" fill="#231f20" text-anchor="end" font-weight="normal" stroke="#231f20" stroke-width="0.16" >BCL2L1</text>
<text x="352.60" y="498.29" font-size="7.5" fill="#231f20" text-anchor="end" font-weight="normal" stroke="#231f20" stroke-width="0.16" >ATM</text>
<text x="352.60" y="506.28" font-size="7.5" fill="#231f20" text-anchor="end" font-weight="normal" stroke="#231f20" stroke-width="0.16" >BCL2</text>
<text x="352.60" y="514.27" font-size="7.5" fill="#231f20" text-anchor="end" font-weight="normal" stroke="#231f20" stroke-width="0.16" >PARP15</text>
<text x="352.60" y="522.26" font-size="7.5" fill="#231f20" text-anchor="end" font-weight="normal" stroke="#231f20" stroke-width="0.16" >DDX17</text>
<text x="352.60" y="530.25" font-size="7.5" fill="#231f20" text-anchor="end" font-weight="normal" stroke="#231f20" stroke-width="0.16" >AFF3</text>
<text x="352.60" y="538.24" font-size="7.5" fill="#231f20" text-anchor="end" font-weight="normal" stroke="#231f20" stroke-width="0.16" >FOXP1</text>
<text x="352.60" y="546.23" font-size="7.5" fill="#231f20" text-anchor="end" font-weight="normal" stroke="#231f20" stroke-width="0.16" >IKZF3</text>
<text x="352.60" y="554.22" font-size="7.5" fill="#231f20" text-anchor="end" font-weight="normal" stroke="#231f20" stroke-width="0.16" >TRAF3IP3</text>
<text x="352.60" y="562.21" font-size="7.5" fill="#231f20" text-anchor="end" font-weight="normal" stroke="#231f20" stroke-width="0.16" >TXNIP</text>
<text x="352.60" y="570.20" font-size="7.5" fill="#231f20" text-anchor="end" font-weight="normal" stroke="#231f20" stroke-width="0.16" >SMARCB1</text>
<path d="M357.9,322.3 V571.9 H472 M355.4,327.80 H357.9 M355.4,335.79 H357.9 M355.4,343.78 H357.9 M355.4,351.77 H357.9 M355.4,359.76 H357.9 M355.4,367.75 H357.9 M355.4,375.74 H357.9 M355.4,383.73 H357.9 M355.4,391.72 H357.9 M355.4,399.71 H357.9 M355.4,407.70 H357.9 M355.4,415.69 H357.9 M355.4,423.68 H357.9 M355.4,431.67 H357.9 M355.4,439.66 H357.9 M355.4,447.65 H357.9 M355.4,455.64 H357.9 M355.4,463.63 H357.9 M355.4,471.62 H357.9 M355.4,479.61 H357.9 M355.4,487.60 H357.9 M355.4,495.59 H357.9 M355.4,503.58 H357.9 M355.4,511.57 H357.9 M355.4,519.56 H357.9 M355.4,527.55 H357.9 M355.4,535.54 H357.9 M355.4,543.53 H357.9 M355.4,551.52 H357.9 M355.4,559.51 H357.9 M355.4,567.50 H357.9 M363.15,571.9 v3 M370.65,571.9 v3 M378.15,571.9 v3 M385.65,571.9 v3 M393.15,571.9 v3 M400.65,571.9 v3 M408.15,571.9 v3 M415.65,571.9 v3 M423.15,571.9 v3 M430.65,571.9 v3 M438.15,571.9 v3 M445.65,571.9 v3 M453.15,571.9 v3 M460.65,571.9 v3 M468.15,571.9 v3" stroke="#231f20" stroke-width="0.95" fill="none"/>
<text x="363.75" y="583.10" font-size="7.2" fill="#231f20" text-anchor="middle" font-weight="normal" stroke="#231f20" stroke-width="0.16" textLength="6.40" lengthAdjust="spacingAndGlyphs">10</text>
<text x="371.25" y="583.10" font-size="7.2" fill="#231f20" text-anchor="middle" font-weight="normal" stroke="#231f20" stroke-width="0.16" textLength="6.40" lengthAdjust="spacingAndGlyphs">13</text>
<text x="378.75" y="583.10" font-size="7.2" fill="#231f20" text-anchor="middle" font-weight="normal" stroke="#231f20" stroke-width="0.16" textLength="3.40" lengthAdjust="spacingAndGlyphs">7</text>
<text x="386.25" y="583.10" font-size="7.2" fill="#231f20" text-anchor="middle" font-weight="normal" stroke="#231f20" stroke-width="0.16" textLength="6.40" lengthAdjust="spacingAndGlyphs">12</text>
<text x="393.75" y="583.10" font-size="7.2" fill="#231f20" text-anchor="middle" font-weight="normal" stroke="#231f20" stroke-width="0.16" textLength="6.40" lengthAdjust="spacingAndGlyphs">19</text>
<text x="401.25" y="583.10" font-size="7.2" fill="#231f20" text-anchor="middle" font-weight="normal" stroke="#231f20" stroke-width="0.16" textLength="6.40" lengthAdjust="spacingAndGlyphs">14</text>
<text x="408.75" y="583.10" font-size="7.2" fill="#231f20" text-anchor="middle" font-weight="normal" stroke="#231f20" stroke-width="0.16" textLength="6.40" lengthAdjust="spacingAndGlyphs">18</text>
<text x="416.25" y="583.10" font-size="7.2" fill="#231f20" text-anchor="middle" font-weight="normal" stroke="#231f20" stroke-width="0.16" textLength="6.40" lengthAdjust="spacingAndGlyphs">16</text>
<text x="423.75" y="583.10" font-size="7.2" fill="#231f20" text-anchor="middle" font-weight="normal" stroke="#231f20" stroke-width="0.16" textLength="3.40" lengthAdjust="spacingAndGlyphs">3</text>
<text x="431.25" y="583.10" font-size="7.2" fill="#231f20" text-anchor="middle" font-weight="normal" stroke="#231f20" stroke-width="0.16" textLength="3.40" lengthAdjust="spacingAndGlyphs">8</text>
<text x="438.75" y="583.10" font-size="7.2" fill="#231f20" text-anchor="middle" font-weight="normal" stroke="#231f20" stroke-width="0.16" textLength="3.40" lengthAdjust="spacingAndGlyphs">5</text>
<text x="446.25" y="583.10" font-size="7.2" fill="#231f20" text-anchor="middle" font-weight="normal" stroke="#231f20" stroke-width="0.16" textLength="6.40" lengthAdjust="spacingAndGlyphs">20</text>
<text x="453.75" y="583.10" font-size="7.2" fill="#231f20" text-anchor="middle" font-weight="normal" stroke="#231f20" stroke-width="0.16" textLength="6.40" lengthAdjust="spacingAndGlyphs">11</text>
<text x="461.25" y="583.10" font-size="7.2" fill="#231f20" text-anchor="middle" font-weight="normal" stroke="#231f20" stroke-width="0.16" textLength="3.40" lengthAdjust="spacingAndGlyphs">4</text>
<text x="468.75" y="583.10" font-size="7.2" fill="#231f20" text-anchor="middle" font-weight="normal" stroke="#231f20" stroke-width="0.16" textLength="6.40" lengthAdjust="spacingAndGlyphs">17</text>
<text x="475.00" y="583.30" font-size="7.7" fill="#231f20" text-anchor="start" font-weight="normal" stroke="#231f20" stroke-width="0.16" >Cluster ID</text>
<path d="M361.9,585.4 H411" stroke="#4b87b9" stroke-width="1.2"/>
<path d="M414.4,585.4 H470.8" stroke="#b8364a" stroke-width="1.2"/>
<text x="373.60" y="596.30" font-size="8.6" fill="#231f20" text-anchor="start" font-weight="normal" stroke="#231f20" stroke-width="0.16" textLength="24.40" lengthAdjust="spacingAndGlyphs">Group I</text>
<text x="427.60" y="596.30" font-size="8.6" fill="#231f20" text-anchor="start" font-weight="normal" stroke="#231f20" stroke-width="0.16" textLength="30.10" lengthAdjust="spacingAndGlyphs">Group III</text>
<text x="483.30" y="357.00" font-size="7.4" fill="#231f20" text-anchor="start" font-weight="normal" stroke="#231f20" stroke-width="0.16" >Average</text>
<text x="483.30" y="366.50" font-size="7.4" fill="#231f20" text-anchor="start" font-weight="normal" stroke="#231f20" stroke-width="0.16" >expression</text>
<defs><linearGradient id="eg" x1="0" y1="0" x2="0" y2="1"><stop offset="0" stop-color="#262f86"/><stop offset="0.3" stop-color="#7b78b3"/><stop offset="0.55" stop-color="#b9b6c6"/><stop offset="0.8" stop-color="#dcdcc2"/><stop offset="1" stop-color="#f7f8cf"/></linearGradient></defs>
<rect x="485.7" y="370.5" width="6.5" height="49.5" fill="url(#eg)"/>
<text x="495.60" y="379.60" font-size="7.2" fill="#231f20" text-anchor="start" font-weight="normal" stroke="#231f20" stroke-width="0.16" >2</text>
<text x="495.60" y="390.00" font-size="7.2" fill="#231f20" text-anchor="start" font-weight="normal" stroke="#231f20" stroke-width="0.16" >1</text>
<text x="495.60" y="400.90" font-size="7.2" fill="#231f20" text-anchor="start" font-weight="normal" stroke="#231f20" stroke-width="0.16" >0</text>
<text x="495.60" y="411.80" font-size="7.2" fill="#231f20" text-anchor="start" font-weight="normal" stroke="#231f20" stroke-width="0.16" >–1</text>
<text x="483.30" y="437.20" font-size="7.4" fill="#231f20" text-anchor="start" font-weight="normal" stroke="#231f20" stroke-width="0.16" >Percent</text>
<text x="483.30" y="446.20" font-size="7.4" fill="#231f20" text-anchor="start" font-weight="normal" stroke="#231f20" stroke-width="0.16" >expressed</text>
<circle cx="488" cy="452.7" r="0.45" fill="#111"/>
<text x="495.40" y="455.30" font-size="7.2" fill="#231f20" text-anchor="start" font-weight="normal" stroke="#231f20" stroke-width="0.16" >0</text>
<circle cx="488" cy="462.3" r="1.0" fill="#111"/>
<text x="495.40" y="464.90" font-size="7.2" fill="#231f20" text-anchor="start" font-weight="normal" stroke="#231f20" stroke-width="0.16" >25</text>
<circle cx="488" cy="472" r="1.7" fill="#111"/>
<text x="495.40" y="474.60" font-size="7.2" fill="#231f20" text-anchor="start" font-weight="normal" stroke="#231f20" stroke-width="0.16" >50</text>
<circle cx="488" cy="481.6" r="2.4" fill="#111"/>
<text x="495.40" y="484.20" font-size="7.2" fill="#231f20" text-anchor="start" font-weight="normal" stroke="#231f20" stroke-width="0.16" >75</text>
<path d="M302.5,359.2 H323.5" stroke="#c8173a" stroke-width="1.1"/>
<path d="M328,359.2 L322.5,356.6 L322.5,361.8Z" fill="#c8173a"/>
</svg>
</body></html>
